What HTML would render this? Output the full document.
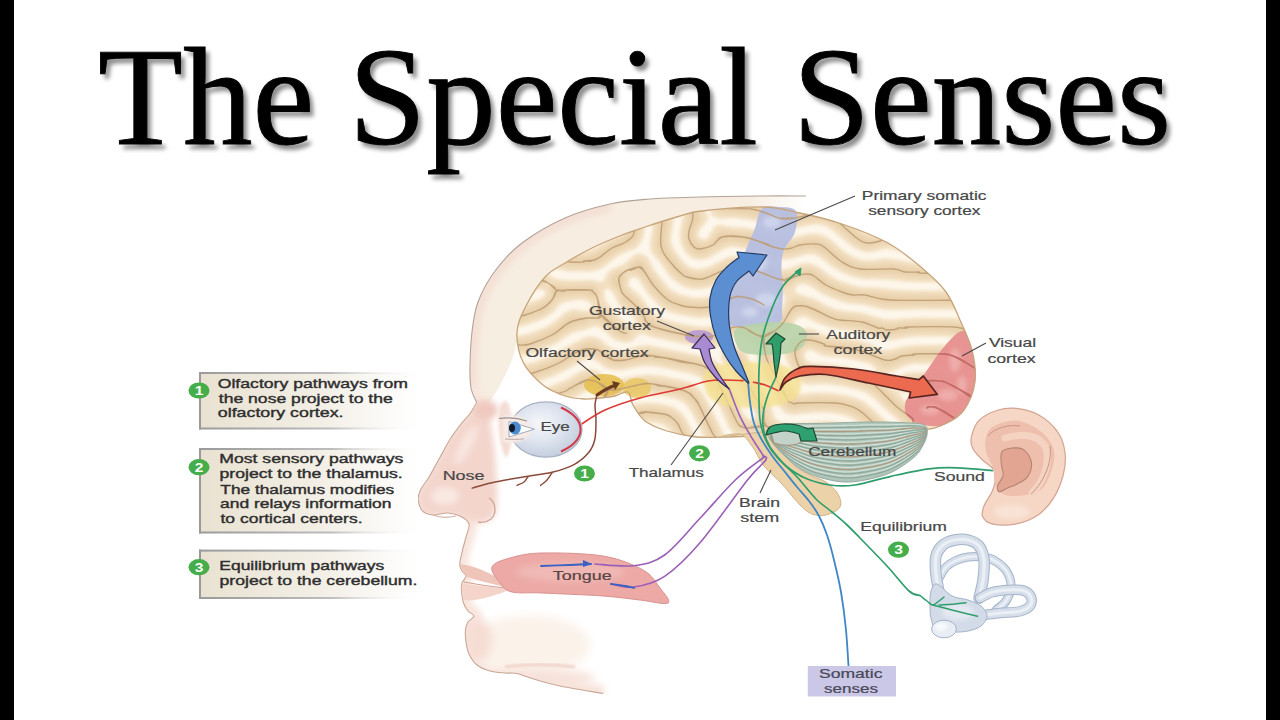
<!DOCTYPE html>
<html><head><meta charset="utf-8"><title>The Special Senses</title>
<style>
html,body{margin:0;padding:0}
body{width:1280px;height:720px;background:#fff;position:relative;overflow:hidden;font-family:"Liberation Sans",sans-serif}
.bar{position:absolute;top:0;width:14px;height:720px;background:#000}
.title{position:absolute;left:98px;top:28px;font-family:"Liberation Serif",serif;font-size:139px;line-height:1;white-space:nowrap;color:#000;-webkit-text-stroke:0.9px #000;text-shadow:4px 5px 4px rgba(0,0,0,.45)}
svg{position:absolute;left:0;top:0}
svg text{font-family:"Liberation Sans",sans-serif}
</style></head><body>
<svg width="1280" height="720" viewBox="0 0 1280 720">
<defs>
<filter id="blur07" x="-50%" y="-50%" width="200%" height="200%"><feGaussianBlur stdDeviation="0.7"/></filter>
<filter id="blur1" x="-50%" y="-50%" width="200%" height="200%"><feGaussianBlur stdDeviation="1"/></filter>
<filter id="blur15" x="-50%" y="-50%" width="200%" height="200%"><feGaussianBlur stdDeviation="1.5"/></filter>
<filter id="blur25" x="-50%" y="-50%" width="200%" height="200%"><feGaussianBlur stdDeviation="2.5"/></filter>
<filter id="blur2" x="-50%" y="-50%" width="200%" height="200%"><feGaussianBlur stdDeviation="2"/></filter>
<filter id="blur3" x="-50%" y="-50%" width="200%" height="200%"><feGaussianBlur stdDeviation="3"/></filter>
<filter id="blur4" x="-50%" y="-50%" width="200%" height="200%"><feGaussianBlur stdDeviation="4"/></filter>
</defs>
<clipPath id="headclip"><path d="M806.0,196.0 C798.3,196.0 777.7,195.8 760.0,196.0 C742.3,196.2 718.3,196.5 700.0,197.0 C681.7,197.5 665.0,197.8 650.0,199.0 C635.0,200.2 624.2,200.8 610.0,204.0 C595.8,207.2 579.7,211.5 565.0,218.0 C550.3,224.5 533.7,234.2 522.0,243.0 C510.3,251.8 502.3,261.2 495.0,271.0 C487.7,280.8 481.8,291.8 478.0,302.0 C474.2,312.2 473.3,321.5 472.0,332.0 C470.7,342.5 470.2,355.7 470.0,365.0 C469.8,374.3 469.9,381.8 471.0,388.0 C472.1,394.2 476.8,398.3 476.7,402.5 C476.6,406.7 473.2,409.2 470.4,413.0 C467.6,416.8 463.5,420.9 460.0,425.4 C456.5,429.9 453.1,434.4 449.6,440.0 C446.1,445.6 442.7,452.5 439.2,458.8 C435.7,465.0 431.9,472.3 428.8,477.5 C425.6,482.7 422.1,486.2 420.4,490.0 C418.7,493.8 417.9,496.9 418.3,500.4 C418.7,503.9 420.1,508.4 422.5,510.8 C424.9,513.2 428.8,514.6 433.0,515.0 C437.2,515.4 443.0,512.8 447.5,513.0 C452.0,513.2 456.4,514.2 460.0,516.0 C463.6,517.8 468.0,520.5 469.0,524.0 C470.0,527.5 467.0,532.8 466.0,537.0 C465.0,541.2 463.9,544.5 462.8,549.0 C461.8,553.5 459.8,560.3 459.7,564.0 C459.6,567.7 460.9,569.0 462.0,571.0 C463.1,573.0 466.0,574.0 466.0,576.0 C466.0,578.0 462.8,580.5 462.0,583.0 C461.2,585.5 461.2,587.7 461.5,591.0 C461.8,594.3 462.4,599.7 463.5,603.0 C464.6,606.3 466.2,608.8 468.0,611.0 C469.8,613.2 474.0,614.2 474.0,616.0 C474.0,617.8 469.4,619.7 468.0,622.0 C466.6,624.3 465.8,626.7 465.5,630.0 C465.2,633.3 465.4,638.0 466.0,642.0 C466.6,646.0 467.2,650.2 469.0,654.0 C470.8,657.8 473.5,662.2 477.0,665.0 C480.5,667.8 485.3,669.7 490.0,671.0 C494.7,672.3 500.5,672.6 505.0,673.0 C509.5,673.4 512.5,672.6 517.0,673.5 C521.5,674.4 524.8,676.4 532.0,678.5 C539.2,680.6 548.1,683.5 560.0,686.0 C571.9,688.5 596.2,692.2 603.4,693.5 L640,720 L806,720 L806,196Z"/></clipPath>
<linearGradient id="bandg" gradientUnits="userSpaceOnUse" x1="470" y1="0" x2="806" y2="0"><stop offset="0" stop-color="#f7eee2"/><stop offset="0.82" stop-color="#f7ede0"/><stop offset="1" stop-color="#f7ede0" stop-opacity="0"/></linearGradient>
<path d="M806.0,196.0 C798.3,196.0 777.7,195.8 760.0,196.0 C742.3,196.2 718.3,196.5 700.0,197.0 C681.7,197.5 665.0,197.8 650.0,199.0 C635.0,200.2 624.2,200.8 610.0,204.0 C595.8,207.2 579.7,211.5 565.0,218.0 C550.3,224.5 533.7,234.2 522.0,243.0 C510.3,251.8 502.3,261.2 495.0,271.0 C487.7,280.8 481.8,291.8 478.0,302.0 C474.2,312.2 473.3,321.5 472.0,332.0 C470.7,342.5 470.2,355.7 470.0,365.0 C469.8,374.3 469.9,381.8 471.0,388.0 C472.1,394.2 475.8,400.1 476.7,402.5 L490.0,402.0 C491.7,399.2 496.3,392.0 500.0,385.0 C503.7,378.0 509.0,368.0 512.0,360.0 C515.0,352.0 515.3,344.8 518.0,337.0 C520.7,329.2 523.5,320.8 528.0,313.0 C532.5,305.2 538.8,297.0 545.0,290.0 C551.2,283.0 557.2,277.2 565.0,271.0 C572.8,264.8 582.5,258.7 592.0,253.0 C601.5,247.3 610.7,242.0 622.0,237.0 C633.3,232.0 644.5,226.7 660.0,223.0 C675.5,219.3 698.3,216.8 715.0,215.0 C731.7,213.2 744.8,212.5 760.0,212.0 C775.2,211.5 798.3,212.0 806.0,212.0Z" fill="url(#bandg)"/>
<g clip-path="url(#headclip)"><path d="M610.0,204.0 C602.5,206.3 579.7,211.5 565.0,218.0 C550.3,224.5 533.7,234.2 522.0,243.0 C510.3,251.8 502.3,261.2 495.0,271.0 C487.7,280.8 481.8,291.8 478.0,302.0 C474.2,312.2 473.3,321.5 472.0,332.0 C470.7,342.5 470.2,355.7 470.0,365.0 C469.8,374.3 470.8,384.2 471.0,388.0" fill="none" stroke="#f4e0d5" stroke-width="16" filter="url(#blur3)"/><path d="M471.0,388.0 C471.9,390.4 476.8,398.3 476.7,402.5 C476.6,406.7 473.2,409.2 470.4,413.0 C467.6,416.8 463.5,420.9 460.0,425.4 C456.5,429.9 453.1,434.4 449.6,440.0 C446.1,445.6 442.7,452.5 439.2,458.8 C435.7,465.0 431.9,472.3 428.8,477.5 C425.6,482.7 422.1,486.2 420.4,490.0 C418.7,493.8 417.9,496.9 418.3,500.4 C418.7,503.9 420.1,508.4 422.5,510.8 C424.9,513.2 428.8,514.6 433.0,515.0 C437.2,515.4 443.0,512.8 447.5,513.0 C452.0,513.2 456.4,514.2 460.0,516.0 C463.6,517.8 468.0,520.5 469.0,524.0 C470.0,527.5 467.0,532.8 466.0,537.0 C465.0,541.2 463.9,544.5 462.8,549.0 C461.8,553.5 459.8,560.3 459.7,564.0 C459.6,567.7 460.9,569.0 462.0,571.0 C463.1,573.0 466.0,574.0 466.0,576.0 C466.0,578.0 462.8,580.5 462.0,583.0 C461.2,585.5 461.2,587.7 461.5,591.0 C461.8,594.3 462.4,599.7 463.5,603.0 C464.6,606.3 466.2,608.8 468.0,611.0 C469.8,613.2 474.0,614.2 474.0,616.0 C474.0,617.8 469.4,619.7 468.0,622.0 C466.6,624.3 465.8,626.7 465.5,630.0 C465.2,633.3 465.4,638.0 466.0,642.0 C466.6,646.0 467.2,650.2 469.0,654.0 C470.8,657.8 473.5,662.2 477.0,665.0 C480.5,667.8 485.3,669.7 490.0,671.0 C494.7,672.3 500.5,672.6 505.0,673.0 C509.5,673.4 512.5,672.6 517.0,673.5 C521.5,674.4 524.8,676.4 532.0,678.5 C539.2,680.6 548.1,683.5 560.0,686.0 C571.9,688.5 596.2,692.2 603.4,693.5" fill="none" stroke="#f8e5dd" stroke-width="16" stroke-linejoin="round" filter="url(#blur3)"/><path d="M476.7,402.5 C474.1,403.7 473.2,409.2 470.4,413.0 C467.6,416.8 463.5,420.9 460.0,425.4 C456.5,429.9 453.1,434.4 449.6,440.0 C446.1,445.6 442.7,452.5 439.2,458.8 C435.7,465.0 431.9,472.3 428.8,477.5 C425.6,482.7 422.1,486.2 420.4,490.0 C418.7,493.8 417.9,496.9 418.3,500.4 C418.7,503.9 420.1,508.4 422.5,510.8 C424.9,513.2 428.8,514.6 433.0,515.0 C437.2,515.4 443.0,512.8 447.5,513.0 C452.0,513.2 454.9,514.3 460.0,516.0 C465.1,517.7 472.3,523.0 478.0,523.0 C483.7,523.0 490.8,520.7 494.0,516.0 C497.2,511.3 496.7,502.7 497.0,495.0 C497.3,487.3 496.5,478.3 496.0,470.0 C495.5,461.7 495.0,453.3 494.0,445.0 C493.0,436.7 491.3,426.5 490.0,420.0 C488.7,413.5 488.2,408.9 486.0,406.0 C483.8,403.1 479.3,401.3 476.7,402.5Z" fill="#f3d5cc" filter="url(#blur3)"/><ellipse cx="445" cy="496" rx="14" ry="9" fill="#f9e8e2" filter="url(#blur3)"/><ellipse cx="466" cy="445" rx="6" ry="22" transform="rotate(28 466 445)" fill="#f8e6e0" filter="url(#blur3)"/><ellipse cx="486" cy="410" rx="12" ry="10" fill="#efc9c0" filter="url(#blur3)"/><ellipse cx="530" cy="645" rx="60" ry="30" fill="#fbf3ea" filter="url(#blur4)"/><ellipse cx="478" cy="640" rx="14" ry="22" fill="#f6ddd4" filter="url(#blur4)"/><path d="M505,667 C525,664 550,664 575,667" fill="none" stroke="#f0cfc6" stroke-width="3" filter="url(#blur1)"/><ellipse cx="540" cy="678" rx="55" ry="9" fill="#f7e2da" filter="url(#blur4)"/></g>
<path d="M806.0,196.0 C798.3,196.0 777.7,195.8 760.0,196.0 C742.3,196.2 718.3,196.5 700.0,197.0 C681.7,197.5 665.0,197.8 650.0,199.0 C635.0,200.2 624.2,200.8 610.0,204.0 C595.8,207.2 579.7,211.5 565.0,218.0 C550.3,224.5 533.7,234.2 522.0,243.0 C510.3,251.8 502.3,261.2 495.0,271.0 C487.7,280.8 481.8,291.8 478.0,302.0 C474.2,312.2 473.3,321.5 472.0,332.0 C470.7,342.5 470.2,355.7 470.0,365.0 C469.8,374.3 469.9,381.8 471.0,388.0 C472.1,394.2 475.8,400.1 476.7,402.5" fill="none" stroke="#b3a397" stroke-width="1.1"/>
<path d="M476.7,402.5 C475.6,404.2 473.2,409.2 470.4,413.0 C467.6,416.8 463.5,420.9 460.0,425.4 C456.5,429.9 453.1,434.4 449.6,440.0 C446.1,445.6 442.7,452.5 439.2,458.8 C435.7,465.0 431.9,472.3 428.8,477.5 C425.6,482.7 422.1,486.2 420.4,490.0 C418.7,493.8 417.9,496.9 418.3,500.4 C418.7,503.9 420.1,508.4 422.5,510.8 C424.9,513.2 428.8,514.6 433.0,515.0 C437.2,515.4 443.0,512.8 447.5,513.0 C452.0,513.2 456.4,514.2 460.0,516.0 C463.6,517.8 468.0,520.5 469.0,524.0 C470.0,527.5 467.0,532.8 466.0,537.0 C465.0,541.2 463.9,544.5 462.8,549.0 C461.8,553.5 459.8,560.3 459.7,564.0 C459.6,567.7 460.9,569.0 462.0,571.0 C463.1,573.0 466.0,574.0 466.0,576.0 C466.0,578.0 462.8,580.5 462.0,583.0 C461.2,585.5 461.2,587.7 461.5,591.0 C461.8,594.3 462.4,599.7 463.5,603.0 C464.6,606.3 466.2,608.8 468.0,611.0 C469.8,613.2 474.0,614.2 474.0,616.0 C474.0,617.8 469.4,619.7 468.0,622.0 C466.6,624.3 465.8,626.7 465.5,630.0 C465.2,633.3 465.4,638.0 466.0,642.0 C466.6,646.0 467.2,650.2 469.0,654.0 C470.8,657.8 473.5,662.2 477.0,665.0 C480.5,667.8 485.3,669.7 490.0,671.0 C494.7,672.3 500.5,672.6 505.0,673.0 C509.5,673.4 512.5,672.6 517.0,673.5 C521.5,674.4 524.8,676.4 532.0,678.5 C539.2,680.6 548.1,683.5 560.0,686.0 C571.9,688.5 596.2,692.2 603.4,693.5" fill="none" stroke="#c9a798" stroke-width="1.1"/>
<path d="M489,498 C496,502 497,514 491,519 C487,522 482,523 478,522" fill="none" stroke="#d0a595" stroke-width="1.3"/>
<path d="M433,515 C440,518 448,518 456,516" fill="none" stroke="#d9b2a5" stroke-width="1.2" filter="url(#blur07)"/>
<path d="M459.7,564 C462,570 466,574 467,577 C480,581 496,585 511.7,588.7 C500,578 485,570 470,566 C466,565 462,564 459.7,564Z" fill="#f0c5b9"/>
<path d="M462,583 C461.5,588 461.5,591 463.5,600 C475,602 495,596 511.7,588.7 C495,588 478,586 462,583Z" fill="#f5d4ca"/>
<path d="M464,582 C480,585 496,587 511.7,588.7" fill="none" stroke="#cf9f92" stroke-width="1.1"/>
<path d="M492.0,567.0 C493.7,562.8 501.7,560.3 510.0,558.0 C518.3,555.7 526.5,553.3 542.0,553.0 C557.5,552.7 586.2,553.2 603.0,556.0 C619.8,558.8 633.5,564.7 643.0,570.0 C652.5,575.3 655.8,582.5 660.0,588.0 C664.2,593.5 671.3,601.0 668.0,603.0 C664.7,605.0 650.8,601.2 640.0,600.0 C629.2,598.8 619.3,597.2 603.0,596.0 C586.7,594.8 557.2,593.7 542.0,593.0 C526.8,592.3 519.0,593.7 512.0,592.0 C505.0,590.3 503.3,587.2 500.0,583.0 C496.7,578.8 490.3,571.2 492.0,567.0Z" fill="#eca9a5" stroke="#d89290" stroke-width="1"/>
<ellipse cx="570" cy="572" rx="55" ry="10" fill="#f2bfbb" opacity="0.7" filter="url(#blur3)"/>
<clipPath id="brainclip"><path d="M523.0,362.0 C518.7,353.2 516.5,341.3 517.0,332.0 C517.5,322.7 521.3,315.2 526.0,306.0 C530.7,296.8 538.5,284.2 545.0,277.0 C551.5,269.8 557.2,267.8 565.0,263.0 C572.8,258.2 582.5,252.7 592.0,248.0 C601.5,243.3 613.2,238.5 622.0,235.0 C630.8,231.5 635.3,230.2 645.0,227.0 C654.7,223.8 670.5,218.7 680.0,216.0 C689.5,213.3 688.2,212.5 702.0,211.0 C715.8,209.5 746.7,206.7 763.0,207.0 C779.3,207.3 786.8,210.2 800.0,213.0 C813.2,215.8 827.3,219.0 842.0,224.0 C856.7,229.0 874.7,235.7 888.0,243.0 C901.3,250.3 912.3,259.8 922.0,268.0 C931.7,276.2 939.7,283.3 946.0,292.0 C952.3,300.7 955.7,310.3 960.0,320.0 C964.3,329.7 969.5,339.7 972.0,350.0 C974.5,360.3 976.3,372.0 975.0,382.0 C973.7,392.0 969.0,403.0 964.0,410.0 C959.0,417.0 952.2,420.7 945.0,424.0 C937.8,427.3 933.5,429.0 921.0,430.0 C908.5,431.0 886.8,430.0 870.0,430.0 C853.2,430.0 834.3,429.7 820.0,430.0 C805.7,430.3 793.0,431.3 784.0,432.0 C775.0,432.7 771.3,433.3 766.0,434.0 C760.7,434.7 758.3,435.5 752.0,436.0 C745.7,436.5 737.3,436.8 728.0,437.0 C718.7,437.2 706.2,438.0 696.0,437.0 C685.8,436.0 675.5,433.7 667.0,431.0 C658.5,428.3 650.7,425.3 645.0,421.0 C639.3,416.7 635.8,409.8 633.0,405.0 C630.2,400.2 631.0,393.5 628.0,392.0 C625.0,390.5 619.7,395.0 615.0,396.0 C610.3,397.0 605.2,397.5 600.0,398.0 C594.8,398.5 589.8,399.3 584.0,399.0 C578.2,398.7 571.8,398.3 565.0,396.0 C558.2,393.7 550.0,390.7 543.0,385.0 C536.0,379.3 527.3,370.8 523.0,362.0Z"/></clipPath>
<path d="M523.0,362.0 C518.7,353.2 516.5,341.3 517.0,332.0 C517.5,322.7 521.3,315.2 526.0,306.0 C530.7,296.8 538.5,284.2 545.0,277.0 C551.5,269.8 557.2,267.8 565.0,263.0 C572.8,258.2 582.5,252.7 592.0,248.0 C601.5,243.3 613.2,238.5 622.0,235.0 C630.8,231.5 635.3,230.2 645.0,227.0 C654.7,223.8 670.5,218.7 680.0,216.0 C689.5,213.3 688.2,212.5 702.0,211.0 C715.8,209.5 746.7,206.7 763.0,207.0 C779.3,207.3 786.8,210.2 800.0,213.0 C813.2,215.8 827.3,219.0 842.0,224.0 C856.7,229.0 874.7,235.7 888.0,243.0 C901.3,250.3 912.3,259.8 922.0,268.0 C931.7,276.2 939.7,283.3 946.0,292.0 C952.3,300.7 955.7,310.3 960.0,320.0 C964.3,329.7 969.5,339.7 972.0,350.0 C974.5,360.3 976.3,372.0 975.0,382.0 C973.7,392.0 969.0,403.0 964.0,410.0 C959.0,417.0 952.2,420.7 945.0,424.0 C937.8,427.3 933.5,429.0 921.0,430.0 C908.5,431.0 886.8,430.0 870.0,430.0 C853.2,430.0 834.3,429.7 820.0,430.0 C805.7,430.3 793.0,431.3 784.0,432.0 C775.0,432.7 771.3,433.3 766.0,434.0 C760.7,434.7 758.3,435.5 752.0,436.0 C745.7,436.5 737.3,436.8 728.0,437.0 C718.7,437.2 706.2,438.0 696.0,437.0 C685.8,436.0 675.5,433.7 667.0,431.0 C658.5,428.3 650.7,425.3 645.0,421.0 C639.3,416.7 635.8,409.8 633.0,405.0 C630.2,400.2 631.0,393.5 628.0,392.0 C625.0,390.5 619.7,395.0 615.0,396.0 C610.3,397.0 605.2,397.5 600.0,398.0 C594.8,398.5 589.8,399.3 584.0,399.0 C578.2,398.7 571.8,398.3 565.0,396.0 C558.2,393.7 550.0,390.7 543.0,385.0 C536.0,379.3 527.3,370.8 523.0,362.0Z" fill="#f3e0c2"/>
<g clip-path="url(#brainclip)"><path d="M579.5,238.0 584.4,237.0 589.0,235.2 607.9,225.0 610.6,222.0 612.0,219.0 612.3,216.0 611.0,212.8 609.0,211.1 606.0,211.1 595.0,221.9 591.0,224.1 585.0,226.3 574.0,228.3 564.0,227.3 560.0,225.9 556.0,223.6 553.0,220.8 550.5,217.0 548.9,212.0 547.3,202.0 547.7,195.0 539.4,195.0 540.0,199.0 538.9,209.0 539.4,215.0 541.7,222.0 545.0,227.0 551.0,231.6 559.3,235.0 571.0,237.8 579.5,238.0ZM573.7,210.0 578.0,208.6 587.0,202.1 591.0,200.3 595.0,199.8 602.0,200.7 605.0,200.4 607.0,199.1 610.2,195.0 583.7,195.0 571.0,197.8 566.8,201.0 565.9,203.0 565.9,205.0 566.6,207.0 568.7,209.0 571.0,209.9 573.7,210.0ZM968.4,304.0 973.4,302.0 979.0,298.3 979.0,288.5 967.0,293.6 961.0,294.9 954.0,295.6 899.0,295.1 876.0,292.7 863.0,292.5 847.0,288.4 836.0,284.6 827.0,279.7 815.1,271.0 810.0,268.8 807.0,268.4 803.0,268.9 791.0,274.1 782.0,274.7 776.0,273.4 762.3,268.0 749.9,264.0 738.0,261.3 733.0,261.6 728.0,262.9 713.0,270.6 705.0,273.4 698.0,274.4 691.0,273.3 685.0,270.3 680.0,265.8 671.3,255.0 667.6,248.0 666.2,243.0 665.6,237.0 668.4,222.0 668.3,213.0 667.0,207.2 665.0,202.0 660.2,195.0 634.3,195.0 633.0,196.0 629.7,200.0 627.8,206.0 627.9,211.0 630.3,224.0 629.6,229.0 627.7,233.0 625.1,236.0 622.0,238.3 611.0,243.8 600.0,251.3 594.0,254.4 587.0,256.5 580.0,257.2 571.0,256.8 563.0,255.4 538.0,246.3 526.0,238.1 524.0,237.4 520.4,246.0 518.0,249.4 514.6,252.0 505.0,256.9 505.0,267.7 513.7,263.0 523.0,255.8 526.0,254.6 530.0,253.9 536.0,254.7 552.5,262.0 566.0,266.0 573.0,266.6 587.0,266.4 592.0,265.9 596.0,264.8 601.0,262.2 618.0,250.4 632.0,243.6 636.0,240.0 638.5,235.0 639.7,228.0 639.4,223.0 637.0,213.0 637.6,207.0 639.1,204.0 642.0,201.0 645.0,199.7 648.0,199.5 652.0,200.6 655.0,202.8 657.4,206.0 658.6,210.0 658.8,215.0 657.6,231.0 655.7,243.0 655.9,247.0 656.9,250.0 674.0,273.5 680.6,279.0 688.0,282.5 696.0,284.0 705.0,283.3 712.3,281.0 729.0,273.2 735.0,271.8 740.0,271.7 746.0,272.8 767.0,279.7 781.0,286.3 785.0,287.5 788.0,286.8 794.0,281.3 797.0,279.5 802.0,278.7 807.0,279.4 813.0,281.7 828.0,291.0 842.3,297.0 851.0,299.0 864.0,299.7 882.8,304.0 895.0,304.8 960.0,304.9 968.4,304.0ZM953.1,277.0 965.0,274.3 979.0,268.2 979.0,257.5 970.0,262.5 964.0,264.8 954.0,267.3 944.0,268.6 931.0,268.8 913.0,267.9 889.0,263.8 872.0,265.5 865.0,265.3 857.0,263.6 848.0,259.6 839.0,253.6 826.0,242.8 822.0,240.5 818.0,239.2 814.0,238.7 809.0,239.0 790.0,243.4 781.0,243.7 774.0,242.3 757.5,236.0 750.0,233.8 723.0,230.9 720.0,231.3 717.2,233.0 712.0,240.6 709.0,243.3 705.0,244.6 700.0,244.0 697.0,242.4 694.7,240.0 693.3,237.0 692.9,234.0 694.2,229.0 700.1,220.0 700.5,218.0 700.0,215.0 694.6,205.0 691.3,195.0 681.1,195.0 686.6,207.0 688.1,213.0 687.8,220.0 685.0,234.0 685.9,242.0 688.0,247.0 690.1,250.0 693.7,253.0 697.0,254.4 701.0,254.9 705.1,254.0 717.0,246.5 726.0,242.4 731.0,241.4 736.0,241.4 755.0,245.4 774.0,252.4 781.0,254.1 789.0,253.7 807.0,248.8 812.0,248.7 816.0,249.4 823.0,252.7 834.5,262.0 842.3,267.0 852.0,271.3 862.0,274.1 869.0,274.7 888.0,274.1 908.0,276.7 922.0,277.5 941.0,277.7 953.1,277.0ZM947.0,250.0 967.4,244.0 971.8,242.0 975.4,238.0 976.0,235.0 975.3,233.0 973.0,231.3 969.0,231.1 966.0,232.1 958.0,237.1 953.0,239.3 946.0,240.8 936.0,241.8 921.0,241.2 902.0,236.7 895.0,233.6 887.6,228.0 885.5,225.0 882.8,218.0 880.0,214.0 866.0,202.6 857.7,195.0 841.3,195.0 850.0,200.7 865.7,215.0 877.7,223.0 881.2,226.0 882.5,229.0 882.2,232.0 880.4,236.0 878.0,238.3 875.0,239.1 871.0,238.9 866.0,237.6 862.0,235.7 857.0,232.2 838.5,216.0 833.8,213.0 828.0,210.7 822.0,209.8 815.0,209.8 791.0,213.6 782.0,213.6 776.0,212.2 764.0,207.6 757.0,205.7 749.0,204.7 732.0,203.8 728.0,202.3 725.0,200.4 720.4,195.0 711.4,195.0 713.6,200.0 716.0,208.3 718.0,211.0 720.0,212.1 723.0,212.7 734.0,212.6 755.0,215.4 763.0,217.5 777.0,222.8 783.0,223.9 791.0,223.4 813.0,219.4 819.0,219.3 824.0,220.1 829.0,221.8 834.0,224.7 854.5,242.0 860.0,245.4 865.0,247.2 872.0,247.2 881.0,243.6 887.0,242.9 893.0,243.7 907.0,248.1 917.9,250.0 935.0,250.9 947.0,250.0ZM936.8,224.0 945.6,222.0 961.9,215.0 966.0,212.5 968.3,210.0 969.5,207.0 969.0,203.0 967.0,198.7 966.0,197.6 964.0,197.8 954.0,207.8 948.0,211.7 939.0,214.4 930.0,215.0 921.0,213.4 913.0,209.6 906.0,204.0 898.2,195.0 885.8,195.0 891.7,201.0 901.6,213.0 908.0,218.2 914.0,220.9 921.0,222.7 930.0,223.9 936.8,224.0ZM935.7,198.0 939.0,197.0 941.0,195.0 924.8,195.0 931.0,197.6 935.7,198.0ZM522.5,233.0 523.1,231.0 523.2,226.0 521.4,213.0 520.0,209.8 518.0,207.4 516.0,206.4 514.0,206.6 511.0,208.5 509.0,212.0 508.9,216.0 510.0,220.6 511.9,225.0 514.0,227.7 520.0,232.4 522.0,233.3 522.5,233.0ZM708.4,312.0 715.0,310.0 730.0,303.6 737.0,302.0 742.0,301.8 747.0,302.6 757.8,309.0 762.0,310.1 765.0,309.8 767.0,308.8 768.6,307.0 769.2,304.0 768.0,300.8 764.0,298.0 753.0,295.7 744.0,292.4 739.0,291.6 731.0,292.9 716.0,299.7 706.0,302.5 695.0,302.9 684.0,301.1 674.0,297.5 669.0,294.5 665.0,291.2 650.8,274.0 645.0,263.2 642.0,260.4 639.0,259.6 635.0,260.9 631.7,264.0 629.0,268.0 628.2,270.0 629.0,270.7 637.0,272.8 642.4,276.0 652.1,291.0 661.7,301.0 668.0,305.6 677.0,309.0 692.0,312.0 701.0,312.8 708.4,312.0ZM897.3,439.0 888.8,430.0 866.4,410.0 861.0,406.1 856.0,403.5 843.1,400.0 828.8,398.0 817.0,397.7 804.0,399.4 800.0,399.4 796.0,398.3 792.0,396.0 788.5,392.0 783.8,382.0 777.3,371.0 770.3,352.0 769.2,348.0 769.1,344.0 770.1,340.0 771.6,337.0 774.0,334.7 781.6,331.0 785.4,328.0 788.0,324.2 791.0,317.0 793.0,314.3 796.9,312.0 801.0,311.1 805.0,311.3 808.0,312.2 821.0,318.9 831.0,322.5 839.0,324.3 862.0,327.3 879.0,333.6 884.0,334.8 890.3,335.0 906.0,332.5 918.0,331.6 944.0,331.6 954.0,332.5 959.0,333.7 965.0,336.3 979.0,345.4 979.0,335.6 969.8,327.0 965.7,325.0 960.0,323.6 941.0,322.5 915.0,322.6 893.0,324.7 884.0,324.4 861.0,317.7 842.0,315.5 834.0,313.8 826.0,310.7 810.5,303.0 800.8,300.0 795.0,299.1 793.0,299.5 791.1,301.0 785.9,312.0 778.0,319.7 771.0,329.7 768.0,331.7 764.0,332.3 759.0,331.5 747.0,323.6 743.0,322.2 739.0,321.7 731.2,323.0 719.0,328.8 712.0,331.1 705.0,332.1 697.0,331.6 666.0,325.4 660.0,323.4 655.0,320.8 646.9,314.0 637.0,300.0 627.4,292.0 624.7,289.0 623.6,286.0 623.5,283.0 626.0,271.6 622.0,271.2 617.0,272.2 613.8,274.0 611.3,277.0 610.6,280.0 611.2,283.0 618.2,291.0 623.0,301.1 626.4,305.0 638.1,314.0 640.6,318.0 643.0,325.6 646.4,329.0 654.0,331.9 674.8,337.0 708.0,342.5 712.0,342.3 716.0,341.2 726.0,334.4 732.0,332.4 740.0,332.5 750.0,335.6 755.0,338.8 759.0,344.0 760.9,349.0 763.1,360.0 766.0,368.0 772.0,380.0 779.8,393.0 784.0,403.5 785.7,406.0 788.0,407.9 791.0,409.1 794.0,409.5 810.0,407.8 827.0,407.4 837.0,408.4 846.0,410.3 854.0,413.4 860.0,417.2 884.8,439.0 897.3,439.0ZM506.1,297.0 531.0,286.2 538.0,284.5 548.0,284.0 548.2,283.0 544.4,278.0 540.0,275.2 535.0,274.3 530.0,275.2 505.0,287.9 505.0,297.7 506.1,297.0ZM522.5,321.0 540.0,314.8 545.0,312.4 549.1,309.0 555.0,300.4 558.0,298.5 563.0,296.7 571.0,295.2 581.0,294.7 586.0,295.6 597.0,299.6 598.0,298.8 598.9,296.0 598.5,290.0 596.0,286.8 591.0,285.0 570.0,285.8 550.0,284.3 549.3,285.0 550.8,290.0 551.2,295.0 550.4,298.0 548.5,300.0 527.0,309.2 512.9,312.0 510.8,313.0 508.9,315.0 508.4,317.0 509.0,318.8 511.6,321.0 517.0,321.9 522.5,321.0ZM524.9,350.0 533.0,348.0 548.0,342.0 555.7,338.0 568.0,329.2 572.0,327.5 584.0,324.2 592.0,319.5 597.0,320.5 604.0,323.4 608.0,326.4 615.1,334.0 621.0,337.2 625.0,337.8 628.3,337.0 630.6,335.0 631.1,332.0 628.7,329.0 615.0,321.2 605.0,308.9 602.0,306.4 600.0,305.6 598.0,307.3 593.0,315.6 591.0,317.2 589.0,317.3 577.0,314.7 571.0,315.6 567.0,317.9 559.0,324.7 552.0,329.3 542.0,334.3 531.0,338.5 524.0,340.2 517.0,340.5 511.0,339.3 505.0,336.5 505.0,345.9 510.0,348.3 515.0,349.8 520.0,350.3 524.9,350.0ZM941.1,439.0 941.0,435.7 938.2,433.0 926.0,430.1 920.0,426.5 917.5,423.0 915.4,415.0 914.0,412.5 900.8,404.0 887.0,390.8 878.0,380.6 875.0,379.4 865.0,377.7 855.0,373.9 848.0,372.1 829.0,369.6 815.0,369.1 808.0,367.3 802.7,364.0 800.1,360.0 799.4,354.0 800.9,349.0 802.5,347.0 805.0,345.4 808.0,344.7 812.0,344.9 826.0,351.1 845.0,352.5 871.0,358.9 875.0,360.8 882.0,366.6 885.0,367.5 889.1,367.0 901.0,361.8 909.0,359.7 921.0,358.7 940.0,358.6 947.0,359.7 955.0,362.4 979.0,375.3 979.0,365.2 958.8,354.0 954.0,352.0 948.0,350.4 937.0,349.4 915.0,349.8 906.2,351.0 891.0,355.0 882.0,355.2 877.0,353.9 868.6,349.0 863.0,346.8 852.0,344.4 826.0,340.7 820.0,338.7 812.0,334.7 808.0,333.7 804.0,334.2 800.7,336.0 797.0,339.5 791.7,346.0 789.6,351.0 790.0,356.0 798.8,373.0 803.0,377.4 809.0,379.3 823.0,378.6 838.0,380.1 859.0,384.7 867.0,387.3 876.0,393.0 888.2,405.0 901.0,415.8 907.9,423.0 916.1,433.0 921.0,437.3 923.6,439.0 941.1,439.0ZM856.7,439.0 851.0,434.3 845.7,431.0 840.0,428.6 833.2,427.0 817.0,426.2 797.0,428.6 789.0,428.9 780.0,427.6 774.0,424.8 770.1,421.0 767.5,417.0 766.5,414.0 766.0,407.0 764.9,403.0 755.8,388.0 747.5,371.0 742.9,357.0 740.0,353.2 736.0,351.2 732.0,351.1 729.0,352.4 727.4,355.0 727.6,358.0 729.6,361.0 735.0,366.0 738.1,370.0 743.0,382.3 750.0,396.9 761.4,414.0 761.6,417.0 759.7,421.0 757.0,423.9 754.0,425.3 751.0,424.9 747.0,423.1 743.0,420.4 739.8,417.0 737.4,413.0 733.0,402.3 726.0,388.1 713.0,367.0 709.0,363.3 703.0,361.1 648.0,350.5 639.9,351.0 626.0,355.5 617.0,355.5 612.0,354.1 608.0,352.2 597.0,343.6 591.0,342.0 588.0,342.3 583.5,344.0 571.5,350.0 555.0,359.4 534.0,367.6 526.0,369.3 519.0,369.5 512.0,368.2 505.0,365.8 505.0,375.6 511.9,378.0 517.0,379.0 528.0,378.8 536.0,377.0 549.7,372.0 566.4,364.0 581.0,355.4 585.0,353.8 589.0,353.3 593.0,353.7 597.0,355.2 607.8,363.0 615.0,365.4 623.0,365.1 640.0,361.2 650.0,360.7 658.0,361.6 692.0,368.5 697.0,369.8 702.0,372.0 706.0,374.9 709.0,378.1 722.3,401.0 733.4,425.0 736.0,428.3 740.0,431.0 746.0,432.0 755.0,429.8 758.0,429.9 766.0,432.2 779.0,437.6 786.0,438.9 822.0,435.8 832.0,436.6 839.9,439.0 856.7,439.0ZM719.7,439.0 715.0,427.0 707.0,411.0 700.0,398.5 695.9,393.0 692.0,389.6 686.9,387.0 666.0,382.0 654.1,380.0 645.0,379.8 634.9,381.0 618.0,384.7 610.0,384.8 603.0,383.0 596.6,377.0 594.0,375.3 591.0,374.4 588.0,374.3 582.6,376.0 574.0,381.4 566.0,385.4 544.0,394.4 537.0,396.7 529.0,398.1 521.0,398.4 513.0,397.5 505.0,395.6 505.0,406.0 531.0,408.2 536.0,407.6 541.0,406.0 553.0,400.5 570.0,394.2 583.0,386.8 589.0,385.3 595.0,385.3 599.0,386.7 601.0,389.1 604.0,396.1 606.0,397.4 609.0,397.1 626.0,392.3 642.0,389.5 654.0,389.5 668.0,391.7 681.0,395.3 685.0,397.3 689.0,400.3 692.4,404.0 696.3,410.0 710.9,439.0 719.7,439.0ZM979.0,405.0 979.0,395.3 971.0,391.8 954.0,381.8 945.0,377.9 935.0,376.3 922.0,377.4 910.0,377.4 905.4,379.0 903.4,382.0 903.6,385.0 905.0,387.0 907.0,388.2 910.0,388.9 915.0,388.6 929.0,385.1 935.0,385.2 942.0,386.6 952.0,390.8 973.0,403.4 979.0,405.7 979.0,405.0ZM967.4,437.0 975.0,431.5 979.0,429.7 979.0,428.2 962.0,418.4 946.1,408.0 938.8,404.0 935.0,402.7 931.0,402.2 927.7,403.0 925.2,405.0 924.4,408.0 926.0,409.9 940.0,415.0 947.0,418.8 957.7,427.0 965.0,436.4 966.0,437.2 967.4,437.0ZM547.8,439.0 551.9,433.0 558.0,428.7 571.0,423.5 589.0,417.9 595.2,415.0 598.0,412.7 599.9,410.0 600.9,406.0 600.2,404.0 598.0,403.5 592.1,405.0 575.0,412.4 556.9,419.0 547.5,424.0 537.8,431.0 536.9,434.0 538.8,439.0 547.8,439.0ZM690.9,439.0 682.0,422.0 679.0,417.8 675.0,414.2 671.0,411.9 665.0,410.0 656.0,408.4 648.0,407.8 635.0,409.2 628.0,410.9 622.8,413.0 616.0,417.8 608.2,428.0 604.0,431.8 596.0,436.1 586.2,439.0 610.5,439.0 618.6,429.0 628.0,421.5 636.0,418.3 648.0,417.2 658.0,417.9 666.0,420.5 671.0,423.8 675.0,428.0 677.6,432.0 680.8,439.0 690.9,439.0ZM522.7,437.0 527.7,434.0 529.3,432.0 529.4,431.0 528.2,429.0 524.0,426.1 519.0,424.8 514.3,425.0 508.0,427.0 505.5,429.0 508.2,432.0 515.0,437.1 519.0,438.0 522.7,437.0ZM659.2,439.0 654.0,436.1 649.0,435.3 642.0,436.2 635.4,439.0 659.2,439.0Z" fill="#e8d0aa" fill-rule="evenodd" filter="url(#blur25)"/><path d="M505.0,206.5 504.9,195.0 510.2,195.0 512.2,198.0 512.0,200.0 509.4,203.0 505.0,206.5ZM587.0,251.0 576.0,251.9 563.0,250.1 542.0,242.2 535.0,238.0 532.0,234.9 529.9,231.0 526.7,213.0 521.8,202.0 522.2,199.0 525.0,196.6 528.8,195.0 532.0,195.4 533.6,197.0 534.6,201.0 533.7,212.0 534.6,218.0 538.4,227.0 544.0,233.3 551.0,237.4 559.0,240.2 569.0,242.7 578.0,243.5 584.0,242.6 590.0,240.5 607.0,231.9 612.0,228.0 616.1,222.0 618.3,215.0 617.5,212.0 612.7,205.0 612.4,203.0 613.1,200.0 616.1,195.0 626.6,195.0 623.7,201.0 621.7,210.0 621.8,213.0 625.1,223.0 624.8,227.0 623.0,230.6 619.1,234.0 610.0,238.4 596.9,247.0 592.0,249.4 587.0,251.0ZM580.0,222.0 573.0,223.0 567.0,222.6 561.7,221.0 557.4,218.0 555.3,215.0 554.0,210.6 552.7,200.0 553.4,195.0 565.7,195.0 561.3,200.0 560.2,203.0 560.2,206.0 563.1,211.0 566.0,213.4 569.0,214.8 573.0,215.4 578.0,214.5 582.0,212.4 589.2,207.0 593.0,205.4 597.0,205.6 599.0,207.0 599.4,209.0 598.7,211.0 594.4,216.0 589.0,219.2 580.0,222.0ZM959.0,290.0 949.0,290.5 915.0,290.4 895.0,289.5 877.0,287.6 861.0,287.0 849.3,284.0 838.0,279.9 830.9,276.0 818.0,266.4 812.0,263.9 807.0,263.1 802.0,263.5 789.0,268.7 782.0,269.2 776.9,268.0 747.0,257.5 739.0,255.9 733.0,256.1 727.0,257.6 710.4,266.0 704.0,268.3 698.0,269.1 692.0,268.1 687.0,265.2 682.0,260.2 675.0,251.1 672.0,245.1 671.1,241.0 671.0,237.0 673.5,223.0 673.4,213.0 671.5,204.0 666.9,195.0 675.7,195.0 681.0,207.0 682.6,212.0 683.0,216.0 679.7,233.0 679.8,238.0 680.8,243.0 683.1,249.0 686.0,253.3 690.0,256.9 695.0,259.3 700.0,260.1 706.0,259.2 712.0,256.5 724.0,248.9 730.0,247.0 735.0,246.9 751.9,250.0 773.0,257.8 781.0,259.5 786.0,259.5 792.0,258.7 807.0,254.2 814.0,254.5 819.7,257.0 832.0,266.7 842.0,272.5 854.0,277.3 865.0,279.5 886.0,279.4 904.0,281.6 915.0,282.3 948.0,282.5 956.0,281.8 963.0,280.3 971.0,277.6 979.0,273.8 979.0,282.7 967.3,288.0 959.0,290.0ZM948.0,263.1 936.0,263.8 916.0,263.1 889.0,258.4 883.0,258.6 870.0,260.4 862.0,259.8 854.0,257.0 847.0,253.0 840.3,248.0 831.0,239.8 826.0,236.4 821.0,234.4 816.0,233.4 808.0,233.7 789.6,238.0 782.0,238.4 775.3,237.0 761.0,231.6 750.0,228.5 744.0,227.6 732.0,227.0 719.0,224.6 716.0,225.5 714.0,227.1 709.0,236.0 707.2,238.0 705.0,239.2 702.0,239.3 698.9,237.0 698.2,235.0 698.5,232.0 700.1,229.0 706.4,222.0 707.8,219.0 708.1,216.0 707.3,214.0 700.2,205.0 696.5,195.0 705.7,195.0 709.0,202.6 710.8,214.0 713.0,216.3 717.0,218.3 721.0,218.7 733.0,217.7 753.0,220.4 760.0,222.1 774.0,227.6 783.0,229.3 792.0,228.7 811.0,225.0 817.0,224.6 822.0,225.2 827.0,226.9 832.0,229.9 847.0,242.7 854.0,247.8 860.0,250.8 866.0,252.3 873.0,252.3 884.0,249.1 889.0,248.7 907.0,253.4 915.0,254.7 929.0,255.8 944.0,255.5 954.0,253.5 972.0,247.6 976.0,245.0 979.0,241.3 979.0,251.6 965.3,259.0 958.8,261.0 948.0,263.1ZM872.0,234.0 868.0,233.4 864.0,231.4 841.0,211.2 835.0,207.6 829.0,205.4 823.0,204.4 816.0,204.4 791.0,208.2 784.0,208.4 778.0,207.1 767.0,202.7 759.0,200.5 749.0,199.1 733.0,198.8 729.0,197.1 726.7,195.0 769.7,195.0 779.0,198.3 787.0,199.3 817.0,196.2 826.0,196.3 833.0,197.3 838.0,199.1 843.1,202.0 849.4,207.0 861.0,217.9 873.6,226.0 875.3,228.0 876.0,231.0 874.7,233.0 872.0,234.0ZM944.0,236.0 932.0,236.9 922.0,236.3 908.0,233.0 899.8,230.0 896.0,227.7 893.0,224.9 887.1,215.0 883.9,211.0 865.4,195.0 878.2,195.0 885.9,202.0 896.3,215.0 902.0,220.4 911.0,225.3 921.0,227.8 934.0,229.1 944.0,227.7 963.0,220.3 975.0,212.5 976.0,212.4 977.0,213.2 979.0,218.3 979.0,224.4 978.0,225.4 966.0,226.6 953.0,233.9 944.0,236.0ZM934.0,210.1 926.0,209.6 918.7,207.0 912.0,202.5 905.0,195.0 915.7,195.0 921.0,198.4 926.0,200.6 935.0,202.5 939.0,202.1 943.0,200.3 945.3,198.0 946.7,195.0 957.8,195.0 955.0,199.6 949.0,205.0 943.0,208.1 934.0,210.1ZM979.0,207.0 977.0,207.3 975.0,204.2 973.4,199.0 973.9,195.0 979.1,195.0 979.0,207.0ZM766.0,326.0 763.0,326.6 760.4,326.0 750.0,318.9 746.0,317.5 741.0,316.7 736.0,316.7 731.0,317.6 714.0,325.1 709.0,326.4 704.0,326.8 694.9,326.0 678.4,323.0 666.3,320.0 659.0,317.0 654.7,314.0 651.0,310.4 641.0,296.5 630.0,287.0 629.0,285.0 628.7,282.0 629.3,280.0 631.0,278.0 633.0,277.4 635.0,277.5 639.0,279.9 647.7,294.0 657.3,304.0 663.0,308.8 668.0,311.5 673.0,313.3 689.0,316.7 699.0,318.0 708.0,317.4 716.0,315.2 733.0,308.2 740.0,307.1 746.0,308.2 757.0,314.5 761.0,315.1 766.0,314.8 771.0,313.5 773.2,312.0 774.4,309.0 774.7,304.0 772.6,298.0 769.0,294.6 746.0,287.3 741.0,286.3 736.0,286.3 731.0,287.3 713.6,295.0 704.0,297.5 698.0,297.8 692.0,297.3 679.0,294.0 673.1,291.0 668.0,286.7 654.3,270.0 648.0,257.6 645.0,255.2 641.0,253.8 638.0,253.5 635.0,254.3 624.0,264.0 610.0,270.1 606.7,274.0 603.5,281.0 602.0,282.0 591.0,279.7 573.0,280.5 559.0,279.4 553.0,277.4 543.0,270.7 539.0,269.5 535.0,269.2 530.0,269.9 525.0,271.5 505.0,282.3 505.0,273.3 516.0,267.6 525.4,261.0 531.0,259.4 536.0,260.3 547.0,265.5 555.0,268.4 567.0,271.5 590.0,271.7 596.0,270.6 601.0,268.7 605.0,266.3 617.9,256.0 624.0,252.8 634.0,249.6 637.0,247.4 640.0,244.0 643.5,237.0 645.1,228.0 644.9,223.0 642.4,214.0 642.2,210.0 644.0,206.4 646.0,205.2 648.0,205.0 650.0,205.6 652.0,207.3 653.8,212.0 652.0,232.0 650.2,243.0 650.3,248.0 651.3,252.0 653.1,255.0 660.4,263.0 669.2,276.0 673.3,280.0 678.0,283.6 683.0,286.3 689.0,288.4 695.0,289.2 701.0,289.1 707.0,288.1 713.0,286.3 731.4,278.0 736.0,277.1 740.0,277.2 745.0,278.2 766.3,285.0 781.0,292.6 784.0,294.9 785.0,297.0 785.0,299.1 784.0,303.4 782.3,307.0 780.0,309.8 774.8,314.0 770.0,322.6 766.0,326.0ZM505.0,223.8 505.0,221.9 505.0,223.8ZM505.0,251.0 505.0,239.8 508.0,233.7 509.0,233.1 511.0,233.3 513.7,235.0 515.4,237.0 516.3,240.0 516.0,242.4 514.6,245.0 512.6,247.0 505.0,251.0ZM976.0,322.2 963.0,318.7 955.0,317.9 920.0,317.5 892.0,319.3 884.0,318.9 861.0,312.6 842.0,310.4 835.0,308.8 827.9,306.0 814.0,298.4 798.0,293.6 795.6,292.0 794.9,290.0 796.2,287.0 798.6,285.0 802.0,284.0 805.0,284.2 810.0,286.1 823.0,294.4 841.0,301.8 849.0,303.7 864.0,304.9 878.0,308.6 887.0,310.0 895.0,310.3 916.0,309.5 943.0,309.5 963.0,310.2 974.0,308.4 979.0,306.0 979.0,310.6 977.6,314.0 976.7,321.0 976.0,322.2ZM635.0,324.1 632.0,324.7 627.0,322.8 620.8,319.0 616.8,315.0 605.3,300.0 604.3,294.0 605.0,290.0 606.0,288.7 609.0,289.4 613.0,293.0 618.5,304.0 620.9,307.0 631.0,314.3 633.8,317.0 635.6,321.0 635.0,324.1ZM506.0,309.2 505.0,310.0 505.0,304.7 509.3,301.0 513.0,298.9 537.0,289.5 542.0,289.6 544.0,290.8 544.8,292.0 545.0,294.0 544.1,296.0 540.0,298.8 522.3,305.0 510.0,307.6 506.0,309.2ZM523.0,335.1 516.0,335.4 510.0,333.5 506.0,330.0 505.0,328.2 505.0,325.4 515.0,326.5 521.0,326.4 527.0,325.1 537.0,321.4 549.0,315.7 553.0,312.4 560.0,304.5 566.0,301.7 578.0,300.0 583.0,300.0 588.0,301.4 591.0,304.1 591.5,306.0 591.2,308.0 589.0,310.4 585.0,311.0 575.0,309.2 569.0,310.4 564.0,313.3 553.7,322.0 547.4,326.0 536.1,331.0 523.0,335.1ZM914.0,439.0 904.0,439.0 893.0,427.1 870.0,406.2 864.0,401.8 857.0,398.3 847.0,395.5 833.0,393.2 816.0,392.4 802.0,393.9 799.0,393.4 796.0,392.0 793.0,388.7 788.7,380.0 783.0,371.4 780.8,367.0 774.7,348.0 774.8,344.0 776.1,341.0 779.0,338.2 787.0,333.7 790.0,331.2 791.6,329.0 795.0,321.4 797.0,318.7 800.0,317.0 803.0,316.7 807.6,318.0 818.0,323.5 830.0,327.4 839.0,329.5 859.9,332.0 866.2,334.0 877.0,338.7 884.0,340.3 892.0,340.3 907.0,337.5 919.0,336.5 943.0,336.6 954.0,337.7 963.0,341.0 979.0,351.0 979.0,359.8 959.0,348.5 951.0,345.8 944.0,344.7 914.0,344.9 903.0,346.4 890.0,349.7 884.0,350.0 880.0,349.0 869.0,343.5 862.0,341.3 849.0,338.7 827.0,335.7 822.4,334.0 814.0,329.4 809.0,328.1 804.0,328.5 799.0,330.4 794.9,333.0 791.4,337.0 785.5,347.0 784.4,351.0 784.3,355.0 785.6,359.0 790.2,367.0 794.3,376.0 798.0,380.6 803.0,383.6 808.0,384.8 825.0,383.9 841.8,386.0 858.7,390.0 866.6,393.0 873.0,397.4 885.0,408.9 899.0,420.9 910.9,435.0 915.0,439.0 914.0,439.0ZM979.0,326.4 979.0,325.3 979.0,326.4ZM877.0,439.0 864.4,439.0 857.0,432.2 851.0,427.8 844.0,424.3 837.0,422.3 830.0,421.3 820.0,421.0 798.0,423.1 789.0,423.4 783.0,422.7 778.0,420.7 775.9,419.0 773.8,416.0 770.4,403.0 760.0,385.4 754.0,372.8 751.2,366.0 747.5,354.0 743.4,349.0 738.0,346.5 730.0,346.2 724.0,347.7 722.8,349.0 721.5,352.0 720.9,356.0 721.1,359.0 722.7,362.0 729.8,368.0 733.0,371.8 745.3,399.0 754.6,412.0 755.5,415.0 755.1,417.0 754.0,418.4 752.0,419.2 749.9,419.0 747.0,417.6 743.0,413.0 738.5,402.0 731.7,388.0 722.0,372.3 718.0,363.0 714.0,359.4 707.0,356.4 692.2,354.0 648.0,345.1 638.0,345.7 625.0,350.5 618.0,350.7 611.3,348.0 600.0,338.9 596.0,337.2 591.0,336.3 587.0,336.7 583.0,338.2 567.0,346.5 556.0,353.1 547.8,357.0 534.2,362.0 527.0,363.8 517.0,364.0 512.0,362.9 505.0,360.1 505.0,351.7 512.0,354.3 518.0,355.4 525.0,355.3 532.0,353.9 541.0,350.6 555.0,344.3 572.4,333.0 585.0,329.8 592.0,327.0 595.0,326.5 598.7,327.0 602.0,328.7 610.0,336.6 614.0,339.4 619.0,341.6 625.0,342.7 629.0,342.5 632.0,341.5 639.0,334.6 642.0,334.1 654.0,337.4 680.0,343.3 705.0,347.6 711.0,348.0 717.0,347.3 721.0,346.0 727.2,340.0 731.0,337.9 735.0,337.1 740.0,337.7 744.2,339.0 749.0,341.5 752.0,344.0 754.0,346.9 758.8,363.0 762.3,372.0 774.1,393.0 779.5,407.0 784.0,412.0 788.0,414.2 793.0,415.0 810.8,413.0 823.0,412.5 833.0,413.2 844.0,415.2 851.0,417.8 856.3,421.0 877.0,439.0ZM874.0,373.3 871.0,373.6 867.0,373.1 855.0,368.5 848.0,366.8 826.0,363.8 811.7,363.0 808.0,361.4 806.0,359.6 804.7,357.0 804.7,354.0 805.6,352.0 807.0,350.7 811.0,350.1 814.0,351.2 821.0,355.2 825.0,356.6 843.0,357.4 867.3,363.0 871.9,365.0 875.0,368.0 876.3,371.0 876.0,372.1 874.0,373.3ZM769.0,439.0 726.2,439.0 710.6,407.0 702.0,392.0 698.5,388.0 694.0,384.5 689.0,382.1 683.0,380.3 660.0,375.6 649.0,374.5 638.0,375.3 618.0,379.5 612.0,379.7 606.4,378.0 597.0,370.6 592.0,369.2 587.0,369.2 581.0,370.8 567.0,379.2 543.4,389.0 534.0,392.0 524.0,393.1 513.0,392.2 505.0,390.2 505.0,381.2 513.0,383.6 520.0,384.6 527.0,384.3 536.0,382.5 555.0,375.4 573.0,366.4 583.9,360.0 589.0,358.8 592.0,359.1 595.0,360.3 605.0,367.7 614.0,370.3 622.0,370.4 639.0,366.6 649.0,365.9 658.4,367.0 691.0,373.8 699.7,377.0 703.0,379.6 705.9,383.0 719.0,405.5 728.5,427.0 733.0,432.5 737.0,435.2 742.0,436.9 746.0,437.1 755.0,435.5 759.0,435.5 764.0,436.7 769.0,439.0ZM979.0,420.9 975.0,419.7 969.7,417.0 945.0,401.7 936.0,398.2 931.0,397.4 927.0,397.7 923.0,399.4 918.0,403.9 916.0,404.9 913.0,405.1 909.7,404.0 906.2,402.0 903.0,399.0 898.6,392.0 893.0,388.7 889.0,385.3 885.4,380.0 884.4,376.0 886.3,374.0 896.0,370.3 904.8,366.0 913.0,364.1 941.0,363.8 947.5,365.0 955.3,368.0 972.0,377.4 979.0,380.7 979.0,389.9 972.8,387.0 957.0,377.7 950.0,374.5 942.0,372.1 934.0,371.2 909.0,372.6 903.0,374.0 900.0,376.3 898.1,380.0 897.6,385.0 898.4,390.0 901.0,392.1 910.0,393.7 918.0,393.3 932.0,390.1 937.0,390.4 943.1,392.0 951.2,396.0 970.0,407.7 979.0,411.1 979.0,420.9ZM535.0,424.1 532.0,423.8 524.0,420.7 520.0,420.0 505.0,420.9 505.0,411.2 528.0,413.5 537.0,412.9 542.0,411.4 555.6,405.0 573.0,398.7 587.0,390.7 590.0,390.1 593.0,390.4 595.0,391.5 596.3,393.0 596.7,395.0 596.1,397.0 593.0,399.5 554.0,414.7 539.0,422.8 535.0,424.1ZM705.0,439.0 696.1,439.0 693.6,433.0 685.7,418.0 681.7,413.0 677.0,409.2 672.0,406.6 665.0,404.6 657.0,403.3 648.0,402.7 640.0,403.2 632.0,404.5 625.0,406.4 620.0,408.6 611.3,415.0 602.0,426.8 594.8,431.0 571.0,437.4 567.1,439.0 554.1,439.0 557.0,435.6 561.1,433.0 573.9,428.0 589.0,423.5 598.0,419.1 603.8,414.0 609.0,404.3 613.0,401.6 620.5,399.0 633.1,396.0 648.0,394.3 657.2,395.0 672.2,398.0 678.6,400.0 684.0,403.1 688.0,407.0 692.0,412.9 705.0,439.0ZM958.0,439.0 947.0,439.0 946.6,434.0 944.1,430.0 940.0,428.0 930.0,426.3 926.0,424.8 923.8,423.0 922.4,421.0 921.9,419.0 922.4,417.0 924.0,415.8 928.0,415.8 934.0,417.5 939.2,420.0 955.0,431.7 957.3,435.0 958.0,439.0ZM675.0,439.0 666.4,439.0 662.3,435.0 658.0,432.3 653.0,430.6 649.0,430.2 644.0,430.7 637.0,432.7 631.0,435.8 627.4,439.0 617.0,439.0 624.0,431.0 630.4,426.0 638.0,423.1 647.0,422.3 657.0,423.0 665.0,425.8 670.8,431.0 675.0,439.0ZM509.0,439.0 505.0,439.1 505.0,436.5 508.0,437.9 509.4,439.0 509.0,439.0ZM979.0,439.2 973.6,439.0 976.0,436.8 979.0,436.0 979.0,439.2Z" fill="#fdf6ea" fill-rule="evenodd" filter="url(#blur15)"/></g>
<path d="M762.0,208.5 C766.0,205.0 773.3,206.6 779.0,207.0 C784.7,207.4 793.3,206.8 796.0,211.0 C798.7,215.2 797.0,225.5 795.0,232.0 C793.0,238.5 786.3,244.0 784.0,250.0 C781.7,256.0 781.6,261.8 781.4,268.0 C781.2,274.2 782.9,280.5 783.0,287.5 C783.1,294.5 782.3,304.5 782.0,310.0 C781.7,315.5 783.4,317.9 781.4,320.6 C779.4,323.3 774.9,324.9 770.0,326.0 C765.1,327.1 758.8,327.2 752.0,327.0 C745.2,326.8 733.0,328.2 729.0,324.5 C725.0,320.8 727.7,311.2 728.0,305.0 C728.3,298.8 728.8,294.2 730.8,287.5 C732.8,280.8 737.4,271.5 740.0,265.0 C742.6,258.5 743.9,254.8 746.4,248.6 C748.9,242.4 752.4,234.7 755.0,228.0 C757.6,221.3 758.0,212.0 762.0,208.5Z" fill="#b5bde1" opacity="0.93"/>
<ellipse cx="772" cy="222" rx="9" ry="6" fill="#d3d9f0" opacity="0.8" filter="url(#blur2)"/>
<ellipse cx="766" cy="300" rx="11" ry="7" fill="#d3d9f0" opacity="0.8" filter="url(#blur2)"/>
<ellipse cx="760" cy="262" rx="7" ry="9" fill="#d3d9f0" opacity="0.8" filter="url(#blur2)"/>
<ellipse cx="750" cy="312" rx="8" ry="5" fill="#d3d9f0" opacity="0.8" filter="url(#blur2)"/>
<path d="M735.0,330.0 C738.3,325.5 750.8,324.2 760.0,323.0 C769.2,321.8 782.3,321.7 790.0,323.0 C797.7,324.3 803.7,327.3 806.0,331.0 C808.3,334.7 806.7,341.3 804.0,345.0 C801.3,348.7 797.3,351.3 790.0,353.0 C782.7,354.7 768.3,355.5 760.0,355.0 C751.7,354.5 744.2,354.2 740.0,350.0 C735.8,345.8 731.7,334.5 735.0,330.0Z" fill="#b7d3aa" opacity="0.88" filter="url(#blur07)"/>
<path d="M963.0,330.7 C960.0,331.0 957.7,332.7 954.0,336.0 C950.3,339.3 944.7,346.1 941.0,350.6 C937.3,355.1 935.0,358.8 932.0,363.0 C929.0,367.2 926.9,370.6 923.0,376.0 C919.1,381.4 911.8,390.9 908.8,395.7 C905.8,400.5 905.3,401.4 905.0,404.7 C904.7,408.0 904.6,412.4 907.0,415.6 C909.4,418.8 913.3,422.3 919.6,424.0 C925.9,425.7 936.9,427.3 945.0,426.0 C953.1,424.7 962.2,421.3 968.0,416.0 C973.8,410.7 977.7,401.3 980.0,394.0 C982.3,386.7 982.0,379.2 982.0,372.0 C982.0,364.8 981.7,356.9 980.0,350.6 C978.3,344.3 974.8,337.3 972.0,334.0 C969.2,330.7 966.0,330.4 963.0,330.7Z" fill="#e6918f" opacity="0.97" clip-path="url(#brainclip)"/>
<ellipse cx="955" cy="360" rx="6" ry="12" fill="#f0b2b0" opacity="0.8" filter="url(#blur2)"/>
<ellipse cx="948" cy="395" rx="10" ry="6" fill="#f0b2b0" opacity="0.8" filter="url(#blur2)"/>
<ellipse cx="930" cy="410" rx="10" ry="5" fill="#f0b2b0" opacity="0.8" filter="url(#blur2)"/>
<ellipse cx="962" cy="385" rx="5" ry="9" fill="#f0b2b0" opacity="0.8" filter="url(#blur2)"/>
<ellipse cx="604" cy="385" rx="20" ry="11" fill="#e6bf4e" opacity="0.85" filter="url(#blur07)"/>
<ellipse cx="637" cy="388" rx="14" ry="10" fill="#eac75e" opacity="0.8" filter="url(#blur07)"/>
<ellipse cx="699" cy="337" rx="14" ry="7" fill="#b99ad2" opacity="0.9" filter="url(#blur07)"/>
<g clip-path="url(#brainclip)"><path d="M648.0,436.0 C647.8,436.2 648.3,436.8 647.0,437.0 C645.7,437.2 642.0,436.7 640.0,437.0 C638.0,437.3 635.0,439.0 635.0,439.0 C635.0,439.0 638.0,437.3 640.0,437.0 C642.0,436.7 645.7,437.2 647.0,437.0 C648.3,436.8 645.7,435.7 648.0,436.0 C650.3,436.3 660.8,439.0 661.0,439.0 C661.2,439.0 651.0,436.5 649.0,436.0M644.0,412.0 C643.8,412.2 645.0,412.7 643.0,413.0 C641.0,413.3 635.0,413.3 632.0,414.0 C629.0,414.7 629.2,413.5 625.0,417.0 C620.8,420.5 612.5,431.5 607.0,435.0 C601.5,438.5 595.7,437.5 592.0,438.0 C588.3,438.5 586.3,437.8 585.0,438.0 C583.7,438.2 585.0,438.8 584.0,439.0 C583.0,439.2 577.7,439.2 579.0,439.0 C580.3,438.8 587.3,438.7 592.0,438.0 C596.7,437.3 601.5,438.5 607.0,435.0 C612.5,431.5 620.8,420.5 625.0,417.0 C629.2,413.5 630.0,414.5 632.0,414.0 C634.0,413.5 635.0,414.3 637.0,414.0 C639.0,413.7 639.5,412.0 644.0,412.0 C648.5,412.0 659.5,413.2 664.0,414.0 C668.5,414.8 668.7,415.3 671.0,417.0 C673.3,418.7 676.0,421.2 678.0,424.0 C680.0,426.8 680.8,431.7 683.0,434.0 C685.2,436.3 691.0,438.0 691.0,438.0 C691.0,438.0 685.2,436.3 683.0,434.0 C680.8,431.7 680.0,426.8 678.0,424.0 C676.0,421.2 673.3,418.7 671.0,417.0 C668.7,415.3 668.3,414.8 664.0,414.0 C659.7,413.2 648.2,412.3 645.0,412.0M928.0,407.0 C927.8,407.2 927.0,408.0 927.0,408.0 C927.0,408.0 926.8,407.2 928.0,407.0 C929.2,406.8 932.2,406.7 934.0,407.0 C935.8,407.3 934.5,406.3 939.0,409.0 C943.5,411.7 956.3,419.7 961.0,423.0 C965.7,426.3 966.3,426.8 967.0,429.0 C967.7,431.2 965.2,435.7 965.0,436.0 C964.8,436.3 965.5,432.2 966.0,431.0 C966.5,429.8 966.8,429.5 968.0,429.0 C969.2,428.5 971.7,428.0 973.0,428.0 C974.3,428.0 975.8,429.0 976.0,429.0 C976.2,429.0 975.5,428.0 974.0,428.0 C972.5,428.0 969.2,429.8 967.0,429.0 C964.8,428.2 964.7,425.8 961.0,423.0 C957.3,420.2 949.5,414.7 945.0,412.0 C940.5,409.3 936.7,407.8 934.0,407.0 C931.3,406.2 929.8,407.0 929.0,407.0M918.0,381.0 C917.3,381.3 915.5,382.7 914.0,383.0 C912.5,383.3 909.0,383.0 909.0,383.0 C909.0,383.0 912.5,383.3 914.0,383.0 C915.5,382.7 913.5,381.3 918.0,381.0 C922.5,380.7 934.5,379.8 941.0,381.0 C947.5,382.2 952.3,385.5 957.0,388.0 C961.7,390.5 966.2,394.3 969.0,396.0 C971.8,397.7 972.5,396.5 974.0,398.0 C975.5,399.5 978.0,405.0 978.0,405.0 C978.0,405.0 978.8,401.5 974.0,398.0 C969.2,394.5 954.5,386.8 949.0,384.0 C943.5,381.2 946.0,381.5 941.0,381.0 C936.0,380.5 922.7,381.0 919.0,381.0M587.0,380.0 C584.8,381.0 576.5,384.7 574.0,386.0 C571.5,387.3 572.7,387.7 572.0,388.0 C571.3,388.3 571.0,387.5 570.0,388.0 C569.0,388.5 568.8,389.8 566.0,391.0 C563.2,392.2 557.8,393.2 553.0,395.0 C548.2,396.8 540.5,400.8 537.0,402.0 C533.5,403.2 533.0,401.8 532.0,402.0 C531.0,402.2 534.7,403.0 531.0,403.0 C527.3,403.0 514.3,403.5 510.0,402.0 C505.7,400.5 505.0,394.0 505.0,394.0 C505.0,394.0 506.7,400.7 510.0,402.0 C513.3,403.3 522.3,401.8 525.0,402.0 C527.7,402.2 524.0,403.0 526.0,403.0 C528.0,403.0 532.5,403.3 537.0,402.0 C541.5,400.7 548.2,396.8 553.0,395.0 C557.8,393.2 563.2,392.2 566.0,391.0 C568.8,389.8 569.0,388.5 570.0,388.0 C571.0,387.5 571.3,388.3 572.0,388.0 C572.7,387.7 571.5,387.3 574.0,386.0 C576.5,384.7 583.2,380.7 587.0,380.0 C590.8,379.3 593.5,380.3 597.0,382.0 C600.5,383.7 607.2,386.7 608.0,390.0 C608.8,393.3 604.0,399.0 602.0,402.0 C600.0,405.0 599.2,405.8 596.0,408.0 C592.8,410.2 585.7,413.8 583.0,415.0 C580.3,416.2 581.0,414.7 580.0,415.0 C579.0,415.3 579.8,416.0 577.0,417.0 C574.2,418.0 567.3,419.3 563.0,421.0 C558.7,422.7 554.3,424.8 551.0,427.0 C547.7,429.2 545.3,433.2 543.0,434.0 C540.7,434.8 541.2,432.5 537.0,432.0 C532.8,431.5 521.8,431.5 518.0,431.0 C514.2,430.5 515.7,429.3 514.0,429.0 C512.3,428.7 508.0,429.0 508.0,429.0 C508.0,429.0 512.3,428.7 514.0,429.0 C515.7,429.3 514.2,430.5 518.0,431.0 C521.8,431.5 532.8,431.5 537.0,432.0 C541.2,432.5 540.7,434.8 543.0,434.0 C545.3,433.2 547.7,429.2 551.0,427.0 C554.3,424.8 558.7,422.7 563.0,421.0 C567.3,419.3 574.2,418.0 577.0,417.0 C579.8,416.0 579.0,415.3 580.0,415.0 C581.0,414.7 580.3,416.2 583.0,415.0 C585.7,413.8 592.8,410.2 596.0,408.0 C599.2,405.8 600.0,405.0 602.0,402.0 C604.0,399.0 605.0,392.2 608.0,390.0 C611.0,387.8 614.2,390.0 620.0,389.0 C625.8,388.0 637.5,384.8 643.0,384.0 C648.5,383.2 650.3,383.7 653.0,384.0 C655.7,384.3 657.0,385.7 659.0,386.0 C661.0,386.3 661.7,385.5 665.0,386.0 C668.3,386.5 674.8,387.7 679.0,389.0 C683.2,390.3 686.7,391.3 690.0,394.0 C693.3,396.7 695.2,398.3 699.0,405.0 C702.8,411.7 709.7,428.5 713.0,434.0 C716.3,439.5 719.0,438.0 719.0,438.0 C719.0,438.0 716.3,439.5 713.0,434.0 C709.7,428.5 702.0,410.8 699.0,405.0 C696.0,399.2 697.3,401.3 695.0,399.0 C692.7,396.7 692.0,393.5 685.0,391.0 C678.0,388.5 660.0,385.2 653.0,384.0 C646.0,382.8 648.5,383.2 643.0,384.0 C637.5,384.8 625.8,388.0 620.0,389.0 C614.2,390.0 611.8,391.2 608.0,390.0 C604.2,388.8 600.3,383.7 597.0,382.0 C593.7,380.3 589.5,380.3 588.0,380.0M586.0,349.0 C584.2,349.7 579.5,350.7 575.0,353.0 C570.5,355.3 566.0,359.7 559.0,363.0 C552.0,366.3 538.7,371.3 533.0,373.0 C527.3,374.7 526.5,372.8 525.0,373.0 C523.5,373.2 526.2,374.0 524.0,374.0 C521.8,374.0 514.8,373.8 512.0,373.0 C509.2,372.2 508.2,370.5 507.0,369.0 C505.8,367.5 505.0,364.0 505.0,364.0 C505.0,364.0 505.8,367.5 507.0,369.0 C508.2,370.5 510.0,372.3 512.0,373.0 C514.0,373.7 517.7,372.8 519.0,373.0 C520.3,373.2 517.7,374.0 520.0,374.0 C522.3,374.0 526.5,374.8 533.0,373.0 C539.5,371.2 552.0,366.3 559.0,363.0 C566.0,359.7 570.5,355.3 575.0,353.0 C579.5,350.7 582.2,349.5 586.0,349.0 C589.8,348.5 595.0,349.0 598.0,350.0 C601.0,351.0 601.5,353.3 604.0,355.0 C606.5,356.7 609.5,359.2 613.0,360.0 C616.5,360.8 620.3,360.7 625.0,360.0 C629.7,359.3 636.2,356.7 641.0,356.0 C645.8,355.3 651.7,355.8 654.0,356.0 C656.3,356.2 653.0,356.7 655.0,357.0 C657.0,357.3 661.7,357.2 666.0,358.0 C670.3,358.8 676.0,361.0 681.0,362.0 C686.0,363.0 692.0,363.2 696.0,364.0 C700.0,364.8 702.3,365.3 705.0,367.0 C707.7,368.7 709.3,370.5 712.0,374.0 C714.7,377.5 716.8,380.0 721.0,388.0 C725.2,396.0 733.3,415.5 737.0,422.0 C740.7,428.5 740.7,426.0 743.0,427.0 C745.3,428.0 749.5,428.0 751.0,428.0 C752.5,428.0 749.5,427.3 752.0,427.0 C754.5,426.7 762.2,425.3 766.0,426.0 C769.8,426.7 772.3,429.8 775.0,431.0 C777.7,432.2 777.7,432.7 782.0,433.0 C786.3,433.3 796.3,433.3 801.0,433.0 C805.7,432.7 805.0,431.3 810.0,431.0 C815.0,430.7 823.0,429.7 831.0,431.0 C839.0,432.3 858.0,439.0 858.0,439.0 C858.0,439.0 839.0,432.3 831.0,431.0 C823.0,429.7 815.0,430.7 810.0,431.0 C805.0,431.3 805.7,432.7 801.0,433.0 C796.3,433.3 787.7,434.0 782.0,433.0 C776.3,432.0 770.0,428.8 767.0,427.0 C764.0,425.2 764.5,424.3 764.0,422.0 C763.5,419.7 764.3,415.7 764.0,413.0 C763.7,410.3 763.7,409.0 762.0,406.0 C760.3,403.0 757.0,400.2 754.0,395.0 C751.0,389.8 746.0,379.7 744.0,375.0 C742.0,370.3 743.5,370.0 742.0,367.0 C740.5,364.0 735.3,357.7 735.0,357.0 C734.7,356.3 738.5,360.0 740.0,363.0 C741.5,366.0 741.7,369.7 744.0,375.0 C746.3,380.3 751.0,389.8 754.0,395.0 C757.0,400.2 760.3,403.0 762.0,406.0 C763.7,409.0 763.7,410.3 764.0,413.0 C764.3,415.7 763.8,420.3 764.0,422.0 C764.2,423.7 765.0,422.3 765.0,423.0 C765.0,423.7 767.2,425.2 764.0,426.0 C760.8,426.8 749.8,428.0 746.0,428.0 C742.2,428.0 742.5,427.0 741.0,426.0 C739.5,425.0 740.3,428.3 737.0,422.0 C733.7,415.7 725.2,396.0 721.0,388.0 C716.8,380.0 715.0,377.7 712.0,374.0 C709.0,370.3 712.7,369.0 703.0,366.0 C693.3,363.0 664.3,357.7 654.0,356.0 C643.7,354.3 645.8,355.3 641.0,356.0 C636.2,356.7 629.7,359.3 625.0,360.0 C620.3,360.7 615.3,360.3 613.0,360.0 C610.7,359.7 612.0,358.5 611.0,358.0 C610.0,357.5 609.2,358.3 607.0,357.0 C604.8,355.7 601.3,351.3 598.0,350.0 C594.7,348.7 588.8,349.2 587.0,349.0M806.0,340.0 C805.3,340.2 803.5,340.0 802.0,341.0 C800.5,342.0 798.2,344.2 797.0,346.0 C795.8,347.8 795.0,349.3 795.0,352.0 C795.0,354.7 796.3,359.7 797.0,362.0 C797.7,364.3 797.7,364.3 799.0,366.0 C800.3,367.7 803.0,370.7 805.0,372.0 C807.0,373.3 805.3,373.5 811.0,374.0 C816.7,374.5 831.3,374.2 839.0,375.0 C846.7,375.8 853.5,378.0 857.0,379.0 C860.5,380.0 857.5,380.3 860.0,381.0 C862.5,381.7 865.8,378.7 872.0,383.0 C878.2,387.3 890.3,401.2 897.0,407.0 C903.7,412.8 909.3,415.3 912.0,418.0 C914.7,420.7 912.0,421.0 913.0,423.0 C914.0,425.0 916.2,428.2 918.0,430.0 C919.8,431.8 921.2,433.2 924.0,434.0 C926.8,434.8 932.3,434.5 935.0,435.0 C937.7,435.5 940.0,437.0 940.0,437.0 C940.0,437.0 937.7,435.5 935.0,435.0 C932.3,434.5 926.8,434.8 924.0,434.0 C921.2,433.2 919.7,431.5 918.0,430.0 C916.3,428.5 915.0,427.0 914.0,425.0 C913.0,423.0 914.8,421.0 912.0,418.0 C909.2,415.0 903.7,412.8 897.0,407.0 C890.3,401.2 878.2,387.3 872.0,383.0 C865.8,378.7 862.5,381.7 860.0,381.0 C857.5,380.3 860.5,380.0 857.0,379.0 C853.5,378.0 846.7,375.8 839.0,375.0 C831.3,374.2 816.7,374.5 811.0,374.0 C805.3,373.5 807.0,373.3 805.0,372.0 C803.0,370.7 800.3,367.7 799.0,366.0 C797.7,364.3 797.7,364.2 797.0,362.0 C796.3,359.8 795.2,355.3 795.0,353.0 C794.8,350.7 794.8,350.0 796.0,348.0 C797.2,346.0 799.7,342.3 802.0,341.0 C804.3,339.7 806.3,339.5 810.0,340.0 C813.7,340.5 821.3,343.0 824.0,344.0 C826.7,345.0 823.2,345.5 826.0,346.0 C828.8,346.5 835.2,346.2 841.0,347.0 C846.8,347.8 853.7,348.8 861.0,351.0 C868.3,353.2 879.3,358.7 885.0,360.0 C890.7,361.3 892.2,359.7 895.0,359.0 C897.8,358.3 898.8,356.7 902.0,356.0 C905.2,355.3 911.8,355.3 914.0,355.0 C916.2,354.7 910.2,354.2 915.0,354.0 C919.8,353.8 936.7,353.7 943.0,354.0 C949.3,354.3 948.0,353.8 953.0,356.0 C958.0,358.2 969.2,364.7 973.0,367.0 C976.8,369.3 975.0,368.5 976.0,370.0 C977.0,371.5 979.0,376.0 979.0,376.0 C979.0,376.0 977.0,371.5 976.0,370.0 C975.0,368.5 977.3,369.5 973.0,367.0 C968.7,364.5 959.7,357.2 950.0,355.0 C940.3,352.8 921.0,354.0 915.0,354.0 C909.0,354.0 916.2,354.7 914.0,355.0 C911.8,355.3 905.2,355.3 902.0,356.0 C898.8,356.7 897.8,358.3 895.0,359.0 C892.2,359.7 890.7,361.3 885.0,360.0 C879.3,358.7 867.2,353.0 861.0,351.0 C854.8,349.0 853.8,348.8 848.0,348.0 C842.2,347.2 830.0,346.7 826.0,346.0 C822.0,345.3 825.8,344.8 824.0,344.0 C822.2,343.2 817.8,341.7 815.0,341.0 C812.2,340.3 808.3,340.2 807.0,340.0M535.0,279.0 C530.8,280.8 514.7,287.7 510.0,290.0 C505.3,292.3 507.8,291.7 507.0,293.0 C506.2,294.3 505.0,298.0 505.0,298.0 C505.0,298.0 506.2,294.3 507.0,293.0 C507.8,291.7 505.3,292.3 510.0,290.0 C514.7,287.7 528.7,280.2 535.0,279.0 C541.3,277.8 544.5,281.2 548.0,283.0 C551.5,284.8 555.3,287.2 556.0,290.0 C556.7,292.8 553.7,297.3 552.0,300.0 C550.3,302.7 547.8,304.5 546.0,306.0 C544.2,307.5 544.5,307.5 541.0,309.0 C537.5,310.5 529.5,313.7 525.0,315.0 C520.5,316.3 514.0,317.0 514.0,317.0 C514.0,317.0 520.2,316.5 525.0,315.0 C529.8,313.5 538.5,310.5 543.0,308.0 C547.5,305.5 550.0,302.5 552.0,300.0 C554.0,297.5 554.0,294.7 555.0,293.0 C556.0,291.3 557.0,290.3 558.0,290.0 C559.0,289.7 559.7,291.0 561.0,291.0 C562.3,291.0 561.2,290.2 566.0,290.0 C570.8,289.8 585.7,289.8 590.0,290.0 C594.3,290.2 590.8,289.8 592.0,291.0 C593.2,292.2 595.5,293.0 597.0,297.0 C598.5,301.0 601.0,311.5 601.0,315.0 C601.0,318.5 599.3,317.5 597.0,318.0 C594.7,318.5 591.0,317.5 587.0,318.0 C583.0,318.5 576.3,320.0 573.0,321.0 C569.7,322.0 570.5,321.7 567.0,324.0 C563.5,326.3 558.2,331.7 552.0,335.0 C545.8,338.3 535.5,342.3 530.0,344.0 C524.5,345.7 522.5,345.2 519.0,345.0 C515.5,344.8 511.3,344.7 509.0,343.0 C506.7,341.3 505.0,335.0 505.0,335.0 C505.0,335.0 506.7,341.3 509.0,343.0 C511.3,344.7 515.5,344.8 519.0,345.0 C522.5,345.2 524.5,345.7 530.0,344.0 C535.5,342.3 546.3,338.0 552.0,335.0 C557.7,332.0 560.5,328.3 564.0,326.0 C567.5,323.7 569.2,322.3 573.0,321.0 C576.8,319.7 583.0,318.5 587.0,318.0 C591.0,317.5 594.8,318.3 597.0,318.0 C599.2,317.7 599.0,316.3 600.0,316.0 C601.0,315.7 600.2,313.8 603.0,316.0 C605.8,318.2 613.5,326.2 617.0,329.0 C620.5,331.8 622.5,332.3 624.0,333.0 C625.5,333.7 626.0,333.0 626.0,333.0 C626.0,333.0 625.5,333.7 624.0,333.0 C622.5,332.3 620.8,332.0 617.0,329.0 C613.2,326.0 604.3,320.3 601.0,315.0 C597.7,309.7 598.5,301.0 597.0,297.0 C595.5,293.0 593.2,292.2 592.0,291.0 C590.8,289.8 594.3,290.2 590.0,290.0 C585.7,289.8 570.2,289.8 566.0,290.0 C561.8,290.2 566.3,291.0 565.0,291.0 C563.7,291.0 559.3,290.0 558.0,290.0 C556.7,290.0 558.7,292.2 557.0,291.0 C555.3,289.8 551.5,284.8 548.0,283.0 C544.5,281.2 538.0,280.5 536.0,280.0M638.0,267.0 C636.8,267.5 632.7,269.5 631.0,270.0 C629.3,270.5 629.3,269.5 628.0,270.0 C626.7,270.5 624.5,271.7 623.0,273.0 C621.5,274.3 619.7,276.5 619.0,278.0 C618.3,279.5 618.7,280.0 619.0,282.0 C619.3,284.0 620.2,287.8 621.0,290.0 C621.8,292.2 621.0,291.8 624.0,295.0 C627.0,298.2 635.5,305.2 639.0,309.0 C642.5,312.8 644.0,316.2 645.0,318.0 C646.0,319.8 643.8,318.7 645.0,320.0 C646.2,321.3 646.7,323.8 652.0,326.0 C657.3,328.2 670.2,331.3 677.0,333.0 C683.8,334.7 688.3,335.5 693.0,336.0 C697.7,336.5 702.8,335.8 705.0,336.0 C707.2,336.2 704.2,337.2 706.0,337.0 C707.8,336.8 712.0,336.5 716.0,335.0 C720.0,333.5 725.8,329.3 730.0,328.0 C734.2,326.7 738.2,326.8 741.0,327.0 C743.8,327.2 745.7,328.3 747.0,329.0 C748.3,329.7 747.3,330.0 749.0,331.0 C750.7,332.0 754.8,334.2 757.0,335.0 C759.2,335.8 760.8,335.5 762.0,336.0 C763.2,336.5 763.5,335.3 764.0,338.0 C764.5,340.7 764.2,347.7 765.0,352.0 C765.8,356.3 765.3,356.2 769.0,364.0 C772.7,371.8 783.5,392.7 787.0,399.0 C790.5,405.3 788.7,401.2 790.0,402.0 C791.3,402.8 793.5,403.8 795.0,404.0 C796.5,404.2 792.3,403.2 799.0,403.0 C805.7,402.8 826.5,402.5 835.0,403.0 C843.5,403.5 846.3,405.0 850.0,406.0 C853.7,407.0 854.7,407.7 857.0,409.0 C859.3,410.3 859.3,410.0 864.0,414.0 C868.7,418.0 879.3,428.8 885.0,433.0 C890.7,437.2 898.0,439.0 898.0,439.0 C898.0,439.0 890.7,437.2 885.0,433.0 C879.3,428.8 868.7,418.0 864.0,414.0 C859.3,410.0 859.3,410.3 857.0,409.0 C854.7,407.7 853.7,407.0 850.0,406.0 C846.3,405.0 843.5,403.5 835.0,403.0 C826.5,402.5 805.7,402.8 799.0,403.0 C792.3,403.2 796.5,404.2 795.0,404.0 C793.5,403.8 791.3,402.8 790.0,402.0 C788.7,401.2 790.5,405.3 787.0,399.0 C783.5,392.7 772.7,371.8 769.0,364.0 C765.3,356.2 765.8,356.5 765.0,352.0 C764.2,347.5 762.2,340.7 764.0,337.0 C765.8,333.3 772.8,332.3 776.0,330.0 C779.2,327.7 780.5,326.3 783.0,323.0 C785.5,319.7 788.8,312.8 791.0,310.0 C793.2,307.2 793.2,306.5 796.0,306.0 C798.8,305.5 802.0,305.0 808.0,307.0 C814.0,309.0 826.7,315.8 832.0,318.0 C837.3,320.2 835.0,319.3 840.0,320.0 C845.0,320.7 855.7,320.7 862.0,322.0 C868.3,323.3 874.7,327.0 878.0,328.0 C881.3,329.0 880.5,327.7 882.0,328.0 C883.5,328.3 884.5,329.8 887.0,330.0 C889.5,330.2 895.2,329.3 897.0,329.0 C898.8,328.7 896.3,328.2 898.0,328.0 C899.7,327.8 905.3,328.2 907.0,328.0 C908.7,327.8 900.2,327.2 908.0,327.0 C915.8,326.8 944.2,326.3 954.0,327.0 C963.8,327.7 963.3,329.0 967.0,331.0 C970.7,333.0 974.0,336.5 976.0,339.0 C978.0,341.5 979.0,346.0 979.0,346.0 C979.0,346.0 978.0,341.5 976.0,339.0 C974.0,336.5 970.7,333.0 967.0,331.0 C963.3,329.0 963.8,327.7 954.0,327.0 C944.2,326.3 915.8,326.8 908.0,327.0 C900.2,327.2 908.7,327.8 907.0,328.0 C905.3,328.2 899.7,327.8 898.0,328.0 C896.3,328.2 898.8,328.7 897.0,329.0 C895.2,329.3 889.5,330.2 887.0,330.0 C884.5,329.8 883.5,328.3 882.0,328.0 C880.5,327.7 881.3,329.0 878.0,328.0 C874.7,327.0 868.3,323.3 862.0,322.0 C855.7,320.7 845.0,320.7 840.0,320.0 C835.0,319.3 836.8,320.0 832.0,318.0 C827.2,316.0 815.7,310.0 811.0,308.0 C806.3,306.0 806.5,306.3 804.0,306.0 C801.5,305.7 798.2,305.3 796.0,306.0 C793.8,306.7 793.2,307.2 791.0,310.0 C788.8,312.8 785.5,319.7 783.0,323.0 C780.5,326.3 779.2,327.7 776.0,330.0 C772.8,332.3 767.2,336.2 764.0,337.0 C760.8,337.8 759.8,336.3 757.0,335.0 C754.2,333.7 749.7,330.3 747.0,329.0 C744.3,327.7 743.8,327.2 741.0,327.0 C738.2,326.8 735.2,326.3 730.0,328.0 C724.8,329.7 717.2,335.8 710.0,337.0 C702.8,338.2 696.3,336.7 687.0,335.0 C677.7,333.3 661.0,329.5 654.0,327.0 C647.0,324.5 646.5,321.5 645.0,320.0 C643.5,318.5 646.0,319.8 645.0,318.0 C644.0,316.2 642.5,312.8 639.0,309.0 C635.5,305.2 627.0,298.2 624.0,295.0 C621.0,291.8 621.8,292.8 621.0,290.0 C620.2,287.2 618.7,280.8 619.0,278.0 C619.3,275.2 621.5,274.3 623.0,273.0 C624.5,271.7 625.2,271.0 628.0,270.0 C630.8,269.0 637.3,266.8 640.0,267.0 C642.7,267.2 641.7,267.8 644.0,271.0 C646.3,274.2 650.0,281.2 654.0,286.0 C658.0,290.8 663.7,296.8 668.0,300.0 C672.3,303.2 676.5,303.8 680.0,305.0 C683.5,306.2 684.2,306.7 689.0,307.0 C693.8,307.3 701.3,308.7 709.0,307.0 C716.7,305.3 729.5,298.7 735.0,297.0 C740.5,295.3 739.2,296.7 742.0,297.0 C744.8,297.3 748.3,297.7 752.0,299.0 C755.7,300.3 764.0,305.0 764.0,305.0 C764.0,305.0 755.7,300.3 752.0,299.0 C748.3,297.7 745.5,297.2 742.0,297.0 C738.5,296.8 736.5,296.3 731.0,298.0 C725.5,299.7 716.0,305.5 709.0,307.0 C702.0,308.5 693.8,307.3 689.0,307.0 C684.2,306.7 683.5,306.2 680.0,305.0 C676.5,303.8 672.3,303.2 668.0,300.0 C663.7,296.8 658.0,290.8 654.0,286.0 C650.0,281.2 646.5,274.2 644.0,271.0 C641.5,267.8 639.8,267.7 639.0,267.0M639.0,198.0 C638.0,199.0 634.2,202.2 633.0,204.0 C631.8,205.8 632.0,208.0 632.0,209.0 C632.0,210.0 632.8,208.3 633.0,210.0 C633.2,211.7 632.8,217.3 633.0,219.0 C633.2,220.7 633.8,217.7 634.0,220.0 C634.2,222.3 634.5,230.0 634.0,233.0 C633.5,236.0 632.7,236.3 631.0,238.0 C629.3,239.7 627.2,241.3 624.0,243.0 C620.8,244.7 616.0,245.7 612.0,248.0 C608.0,250.3 603.5,254.8 600.0,257.0 C596.5,259.2 593.7,260.3 591.0,261.0 C588.3,261.7 585.3,260.8 584.0,261.0 C582.7,261.2 586.2,262.0 583.0,262.0 C579.8,262.0 572.8,263.0 565.0,261.0 C557.2,259.0 542.2,252.0 536.0,250.0 C529.8,248.0 529.7,249.5 528.0,249.0 C526.3,248.5 527.0,250.0 526.0,247.0 C525.0,244.0 523.8,236.2 522.0,231.0 C520.2,225.8 516.0,219.3 515.0,216.0 C514.0,212.7 516.0,211.0 516.0,211.0 C516.0,211.0 514.0,212.7 515.0,216.0 C516.0,219.3 520.2,225.7 522.0,231.0 C523.8,236.3 526.0,244.5 526.0,248.0 C526.0,251.5 524.8,250.0 522.0,252.0 C519.2,254.0 511.8,257.3 509.0,260.0 C506.2,262.7 505.0,268.0 505.0,268.0 C505.0,268.0 506.2,262.7 509.0,260.0 C511.8,257.3 519.2,254.0 522.0,252.0 C524.8,250.0 523.7,248.3 526.0,248.0 C528.3,247.7 529.5,247.8 536.0,250.0 C542.5,252.2 557.2,259.0 565.0,261.0 C572.8,263.0 579.8,262.0 583.0,262.0 C586.2,262.0 582.2,261.3 584.0,261.0 C585.8,260.7 591.3,260.7 594.0,260.0 C596.7,259.3 597.0,259.0 600.0,257.0 C603.0,255.0 608.0,250.3 612.0,248.0 C616.0,245.7 620.8,244.7 624.0,243.0 C627.2,241.3 629.3,239.7 631.0,238.0 C632.7,236.3 633.5,236.0 634.0,233.0 C634.5,230.0 634.2,222.3 634.0,220.0 C633.8,217.7 633.2,220.7 633.0,219.0 C632.8,217.3 633.2,211.7 633.0,210.0 C632.8,208.3 631.8,210.3 632.0,209.0 C632.2,207.7 632.8,203.8 634.0,202.0 C635.2,200.2 635.3,198.7 639.0,198.0 C642.7,197.3 652.5,197.3 656.0,198.0 C659.5,198.7 658.8,200.0 660.0,202.0 C661.2,204.0 662.8,202.7 663.0,210.0 C663.2,217.3 659.5,237.0 661.0,246.0 C662.5,255.0 668.3,259.2 672.0,264.0 C675.7,268.8 680.5,272.8 683.0,275.0 C685.5,277.2 684.7,276.3 687.0,277.0 C689.3,277.7 693.8,278.8 697.0,279.0 C700.2,279.2 700.2,280.0 706.0,278.0 C711.8,276.0 725.8,268.8 732.0,267.0 C738.2,265.2 739.7,266.7 743.0,267.0 C746.3,267.3 746.2,267.0 752.0,269.0 C757.8,271.0 773.0,277.3 778.0,279.0 C783.0,280.7 780.7,278.5 782.0,279.0 C783.3,279.5 785.5,281.7 786.0,282.0 C786.5,282.3 785.0,281.5 785.0,281.0 C785.0,280.5 783.7,280.0 786.0,279.0 C788.3,278.0 795.2,275.8 799.0,275.0 C802.8,274.2 806.5,273.8 809.0,274.0 C811.5,274.2 811.2,274.2 814.0,276.0 C816.8,277.8 821.3,282.3 826.0,285.0 C830.7,287.7 837.5,290.3 842.0,292.0 C846.5,293.7 849.2,294.5 853.0,295.0 C856.8,295.5 858.7,294.2 865.0,295.0 C871.3,295.8 875.0,299.2 891.0,300.0 C907.0,300.8 949.2,300.2 961.0,300.0 C972.8,299.8 961.0,299.2 962.0,299.0 C963.0,298.8 965.0,299.5 967.0,299.0 C969.0,298.5 972.0,297.8 974.0,296.0 C976.0,294.2 979.0,288.0 979.0,288.0 C979.0,288.0 976.0,294.2 974.0,296.0 C972.0,297.8 969.0,298.5 967.0,299.0 C965.0,299.5 963.0,298.8 962.0,299.0 C961.0,299.2 972.8,299.8 961.0,300.0 C949.2,300.2 907.0,300.8 891.0,300.0 C875.0,299.2 871.3,295.8 865.0,295.0 C858.7,294.2 856.8,295.5 853.0,295.0 C849.2,294.5 846.5,293.7 842.0,292.0 C837.5,290.3 830.7,287.7 826.0,285.0 C821.3,282.3 816.8,277.8 814.0,276.0 C811.2,274.2 811.5,274.2 809.0,274.0 C806.5,273.8 803.3,274.0 799.0,275.0 C794.7,276.0 790.8,281.0 783.0,280.0 C775.2,279.0 758.7,271.2 752.0,269.0 C745.3,266.8 746.3,267.3 743.0,267.0 C739.7,266.7 738.2,265.2 732.0,267.0 C725.8,268.8 711.8,276.0 706.0,278.0 C700.2,280.0 700.2,279.2 697.0,279.0 C693.8,278.8 689.3,277.7 687.0,277.0 C684.7,276.3 685.5,277.2 683.0,275.0 C680.5,272.8 675.7,268.8 672.0,264.0 C668.3,259.2 662.5,255.0 661.0,246.0 C659.5,237.0 663.2,217.3 663.0,210.0 C662.8,202.7 661.2,204.0 660.0,202.0 C658.8,200.0 659.3,198.7 656.0,198.0 C652.7,197.3 642.7,198.0 640.0,198.0M540.0,196.0 C540.5,196.5 542.5,197.5 543.0,199.0 C543.5,200.5 542.8,203.8 543.0,205.0 C543.2,206.2 544.0,205.2 544.0,206.0 C544.0,206.8 542.5,207.3 543.0,210.0 C543.5,212.7 545.5,219.2 547.0,222.0 C548.5,224.8 550.2,225.7 552.0,227.0 C553.8,228.3 555.7,229.2 558.0,230.0 C560.3,230.8 563.3,231.7 566.0,232.0 C568.7,232.3 572.5,231.8 574.0,232.0 C575.5,232.2 573.3,233.0 575.0,233.0 C576.7,233.0 579.7,233.5 584.0,232.0 C588.3,230.5 597.2,226.3 601.0,224.0 C604.8,221.7 606.0,219.8 607.0,218.0 C608.0,216.2 607.0,213.0 607.0,213.0 C607.0,213.0 608.0,216.2 607.0,218.0 C606.0,219.8 604.0,222.0 601.0,224.0 C598.0,226.0 593.0,228.5 589.0,230.0 C585.0,231.5 580.8,232.7 577.0,233.0 C573.2,233.3 569.7,232.7 566.0,232.0 C562.3,231.3 558.2,230.7 555.0,229.0 C551.8,227.3 549.0,225.2 547.0,222.0 C545.0,218.8 543.5,212.3 543.0,210.0 C542.5,207.7 544.0,209.7 544.0,208.0 C544.0,206.3 542.3,202.0 543.0,200.0 C543.7,198.0 547.8,196.2 548.0,196.0 C548.2,195.8 545.2,198.8 544.0,199.0 C542.8,199.2 541.5,197.3 541.0,197.0M922.0,195.0 C923.8,195.2 931.0,195.7 933.0,196.0 C935.0,196.3 932.7,197.2 934.0,197.0 C935.3,196.8 940.8,195.0 941.0,195.0 C941.2,195.0 938.0,197.0 935.0,197.0 C932.0,197.0 925.0,195.3 923.0,195.0M884.0,195.0 C885.8,195.5 890.3,194.7 895.0,198.0 C899.7,201.3 907.0,211.5 912.0,215.0 C917.0,218.5 920.5,218.3 925.0,219.0 C929.5,219.7 933.8,220.0 939.0,219.0 C944.2,218.0 951.8,215.2 956.0,213.0 C960.2,210.8 962.5,208.2 964.0,206.0 C965.5,203.8 964.5,201.5 965.0,200.0 C965.5,198.5 967.0,197.0 967.0,197.0 C967.0,197.0 965.5,198.5 965.0,200.0 C964.5,201.5 965.5,203.8 964.0,206.0 C962.5,208.2 960.2,210.8 956.0,213.0 C951.8,215.2 944.2,218.0 939.0,219.0 C933.8,220.0 929.5,219.7 925.0,219.0 C920.5,218.3 917.0,218.5 912.0,215.0 C907.0,211.5 899.5,201.3 895.0,198.0 C890.5,194.7 886.7,195.5 885.0,195.0M782.0,195.0 C782.2,195.0 782.8,195.0 783.0,195.0M711.0,195.0 C711.7,195.3 713.8,196.2 715.0,197.0 C716.2,197.8 717.5,199.2 718.0,200.0 C718.5,200.8 716.8,200.7 718.0,202.0 C719.2,203.3 719.5,206.8 725.0,208.0 C730.5,209.2 744.7,208.3 751.0,209.0 C757.3,209.7 758.3,210.5 763.0,212.0 C767.7,213.5 775.5,217.0 779.0,218.0 C782.5,219.0 783.0,217.8 784.0,218.0 C785.0,218.2 783.2,219.0 785.0,219.0 C786.8,219.0 790.2,218.8 795.0,218.0 C799.8,217.2 809.5,214.7 814.0,214.0 C818.5,213.3 820.0,213.7 822.0,214.0 C824.0,214.3 824.8,215.7 826.0,216.0 C827.2,216.3 827.3,215.3 829.0,216.0 C830.7,216.7 831.2,216.2 836.0,220.0 C840.8,223.8 852.7,235.2 858.0,239.0 C863.3,242.8 864.3,242.7 868.0,243.0 C871.7,243.3 877.0,241.8 880.0,241.0 C883.0,240.2 884.2,238.5 886.0,238.0 C887.8,237.5 885.3,236.7 891.0,238.0 C896.7,239.3 911.2,244.7 920.0,246.0 C928.8,247.3 937.0,246.8 944.0,246.0 C951.0,245.2 958.0,242.3 962.0,241.0 C966.0,239.7 966.5,239.0 968.0,238.0 C969.5,237.0 971.0,235.0 971.0,235.0 C971.0,235.0 969.5,237.0 968.0,238.0 C966.5,239.0 966.0,239.7 962.0,241.0 C958.0,242.3 951.0,245.2 944.0,246.0 C937.0,246.8 929.3,247.3 920.0,246.0 C910.7,244.7 893.7,239.7 888.0,238.0 C882.3,236.3 886.8,238.3 886.0,236.0 C885.2,233.7 884.7,227.3 883.0,224.0 C881.3,220.7 878.5,218.2 876.0,216.0 C873.5,213.8 871.7,214.0 868.0,211.0 C864.3,208.0 859.0,200.7 854.0,198.0 C849.0,195.3 838.0,195.0 838.0,195.0 C838.0,195.0 849.0,195.3 854.0,198.0 C859.0,200.7 864.3,208.0 868.0,211.0 C871.7,214.0 873.5,213.8 876.0,216.0 C878.5,218.2 881.7,221.7 883.0,224.0 C884.3,226.3 883.3,227.8 884.0,230.0 C884.7,232.2 887.7,235.2 887.0,237.0 C886.3,238.8 883.2,240.0 880.0,241.0 C876.8,242.0 871.7,243.3 868.0,243.0 C864.3,242.7 863.3,242.8 858.0,239.0 C852.7,235.2 840.8,223.8 836.0,220.0 C831.2,216.2 830.7,216.7 829.0,216.0 C827.3,215.3 827.2,216.3 826.0,216.0 C824.8,215.7 824.0,214.3 822.0,214.0 C820.0,213.7 818.5,213.3 814.0,214.0 C809.5,214.7 799.5,217.3 795.0,218.0 C790.5,218.7 788.5,217.8 787.0,218.0 C785.5,218.2 787.3,219.0 786.0,219.0 C784.7,219.0 782.8,219.2 779.0,218.0 C775.2,216.8 767.7,213.5 763.0,212.0 C758.3,210.5 757.3,209.7 751.0,209.0 C744.7,208.3 730.5,209.2 725.0,208.0 C719.5,206.8 719.2,203.3 718.0,202.0 C716.8,200.7 718.5,200.8 718.0,200.0 C717.5,199.2 716.0,197.7 715.0,197.0 C714.0,196.3 712.5,196.2 712.0,196.0M681.0,195.0 C682.3,196.0 687.0,197.5 689.0,201.0 C691.0,204.5 693.0,211.0 693.0,216.0 C693.0,221.0 689.7,227.2 689.0,231.0 C688.3,234.8 688.2,236.3 689.0,239.0 C689.8,241.7 692.2,245.3 694.0,247.0 C695.8,248.7 696.8,249.3 700.0,249.0 C703.2,248.7 709.3,247.0 713.0,245.0 C716.7,243.0 717.0,238.3 722.0,237.0 C727.0,235.7 737.5,236.5 743.0,237.0 C748.5,237.5 750.5,238.5 755.0,240.0 C759.5,241.5 765.3,244.5 770.0,246.0 C774.7,247.5 779.3,248.7 783.0,249.0 C786.7,249.3 789.2,248.7 792.0,248.0 C794.8,247.3 796.0,245.7 800.0,245.0 C804.0,244.3 812.0,243.7 816.0,244.0 C820.0,244.3 819.7,244.0 824.0,247.0 C828.3,250.0 836.0,258.3 842.0,262.0 C848.0,265.7 851.3,267.8 860.0,269.0 C868.7,270.2 886.5,268.5 894.0,269.0 C901.5,269.5 900.8,271.5 905.0,272.0 C909.2,272.5 916.5,271.8 919.0,272.0 C921.5,272.2 915.0,272.8 920.0,273.0 C925.0,273.2 944.0,273.2 949.0,273.0 C954.0,272.8 948.2,272.3 950.0,272.0 C951.8,271.7 957.8,271.5 960.0,271.0 C962.2,270.5 960.7,269.8 963.0,269.0 C965.3,268.2 971.3,268.0 974.0,266.0 C976.7,264.0 979.0,257.0 979.0,257.0 C979.0,257.0 976.7,264.0 974.0,266.0 C971.3,268.0 965.3,268.2 963.0,269.0 C960.7,269.8 962.2,270.5 960.0,271.0 C957.8,271.5 951.8,271.7 950.0,272.0 C948.2,272.3 954.0,272.8 949.0,273.0 C944.0,273.2 925.0,273.2 920.0,273.0 C915.0,272.8 921.5,272.2 919.0,272.0 C916.5,271.8 909.2,272.5 905.0,272.0 C900.8,271.5 901.5,269.5 894.0,269.0 C886.5,268.5 868.7,270.2 860.0,269.0 C851.3,267.8 848.0,265.7 842.0,262.0 C836.0,258.3 828.3,250.0 824.0,247.0 C819.7,244.0 820.0,244.3 816.0,244.0 C812.0,243.7 804.0,244.3 800.0,245.0 C796.0,245.7 794.8,247.3 792.0,248.0 C789.2,248.7 786.7,249.3 783.0,249.0 C779.3,248.7 772.7,246.8 770.0,246.0 C767.3,245.2 771.5,245.5 767.0,244.0 C762.5,242.5 750.5,238.2 743.0,237.0 C735.5,235.8 727.0,235.7 722.0,237.0 C717.0,238.3 716.7,243.0 713.0,245.0 C709.3,247.0 703.2,248.7 700.0,249.0 C696.8,249.3 695.8,248.7 694.0,247.0 C692.2,245.3 689.8,241.7 689.0,239.0 C688.2,236.3 688.3,234.8 689.0,231.0 C689.7,227.2 693.0,221.0 693.0,216.0 C693.0,211.0 690.3,204.2 689.0,201.0 C687.7,197.8 686.2,197.8 685.0,197.0 C683.8,196.2 682.5,196.2 682.0,196.0M610.0,195.0 C609.2,195.5 609.8,197.3 605.0,198.0 C600.2,198.7 586.3,198.0 581.0,199.0 C575.7,200.0 573.0,204.0 573.0,204.0 C573.0,204.0 575.7,200.0 581.0,199.0 C586.3,198.0 600.0,198.7 605.0,198.0 C610.0,197.3 610.0,195.5 611.0,195.0" fill="none" stroke="#bb9b72" stroke-width="1.35" stroke-linejoin="round" opacity="0.85"/></g>
<clipPath id="visclip"><path d="M963.0,330.7 C960.0,331.0 957.7,332.7 954.0,336.0 C950.3,339.3 944.7,346.1 941.0,350.6 C937.3,355.1 935.0,358.8 932.0,363.0 C929.0,367.2 926.9,370.6 923.0,376.0 C919.1,381.4 911.8,390.9 908.8,395.7 C905.8,400.5 905.3,401.4 905.0,404.7 C904.7,408.0 904.6,412.4 907.0,415.6 C909.4,418.8 913.3,422.3 919.6,424.0 C925.9,425.7 936.9,427.3 945.0,426.0 C953.1,424.7 962.2,421.3 968.0,416.0 C973.8,410.7 977.7,401.3 980.0,394.0 C982.3,386.7 982.0,379.2 982.0,372.0 C982.0,364.8 981.7,356.9 980.0,350.6 C978.3,344.3 974.8,337.3 972.0,334.0 C969.2,330.7 966.0,330.4 963.0,330.7Z"/></clipPath>
<g clip-path="url(#brainclip)"><g clip-path="url(#visclip)"><path d="M648.0,436.0 C647.8,436.2 648.3,436.8 647.0,437.0 C645.7,437.2 642.0,436.7 640.0,437.0 C638.0,437.3 635.0,439.0 635.0,439.0 C635.0,439.0 638.0,437.3 640.0,437.0 C642.0,436.7 645.7,437.2 647.0,437.0 C648.3,436.8 645.7,435.7 648.0,436.0 C650.3,436.3 660.8,439.0 661.0,439.0 C661.2,439.0 651.0,436.5 649.0,436.0M644.0,412.0 C643.8,412.2 645.0,412.7 643.0,413.0 C641.0,413.3 635.0,413.3 632.0,414.0 C629.0,414.7 629.2,413.5 625.0,417.0 C620.8,420.5 612.5,431.5 607.0,435.0 C601.5,438.5 595.7,437.5 592.0,438.0 C588.3,438.5 586.3,437.8 585.0,438.0 C583.7,438.2 585.0,438.8 584.0,439.0 C583.0,439.2 577.7,439.2 579.0,439.0 C580.3,438.8 587.3,438.7 592.0,438.0 C596.7,437.3 601.5,438.5 607.0,435.0 C612.5,431.5 620.8,420.5 625.0,417.0 C629.2,413.5 630.0,414.5 632.0,414.0 C634.0,413.5 635.0,414.3 637.0,414.0 C639.0,413.7 639.5,412.0 644.0,412.0 C648.5,412.0 659.5,413.2 664.0,414.0 C668.5,414.8 668.7,415.3 671.0,417.0 C673.3,418.7 676.0,421.2 678.0,424.0 C680.0,426.8 680.8,431.7 683.0,434.0 C685.2,436.3 691.0,438.0 691.0,438.0 C691.0,438.0 685.2,436.3 683.0,434.0 C680.8,431.7 680.0,426.8 678.0,424.0 C676.0,421.2 673.3,418.7 671.0,417.0 C668.7,415.3 668.3,414.8 664.0,414.0 C659.7,413.2 648.2,412.3 645.0,412.0M928.0,407.0 C927.8,407.2 927.0,408.0 927.0,408.0 C927.0,408.0 926.8,407.2 928.0,407.0 C929.2,406.8 932.2,406.7 934.0,407.0 C935.8,407.3 934.5,406.3 939.0,409.0 C943.5,411.7 956.3,419.7 961.0,423.0 C965.7,426.3 966.3,426.8 967.0,429.0 C967.7,431.2 965.2,435.7 965.0,436.0 C964.8,436.3 965.5,432.2 966.0,431.0 C966.5,429.8 966.8,429.5 968.0,429.0 C969.2,428.5 971.7,428.0 973.0,428.0 C974.3,428.0 975.8,429.0 976.0,429.0 C976.2,429.0 975.5,428.0 974.0,428.0 C972.5,428.0 969.2,429.8 967.0,429.0 C964.8,428.2 964.7,425.8 961.0,423.0 C957.3,420.2 949.5,414.7 945.0,412.0 C940.5,409.3 936.7,407.8 934.0,407.0 C931.3,406.2 929.8,407.0 929.0,407.0M918.0,381.0 C917.3,381.3 915.5,382.7 914.0,383.0 C912.5,383.3 909.0,383.0 909.0,383.0 C909.0,383.0 912.5,383.3 914.0,383.0 C915.5,382.7 913.5,381.3 918.0,381.0 C922.5,380.7 934.5,379.8 941.0,381.0 C947.5,382.2 952.3,385.5 957.0,388.0 C961.7,390.5 966.2,394.3 969.0,396.0 C971.8,397.7 972.5,396.5 974.0,398.0 C975.5,399.5 978.0,405.0 978.0,405.0 C978.0,405.0 978.8,401.5 974.0,398.0 C969.2,394.5 954.5,386.8 949.0,384.0 C943.5,381.2 946.0,381.5 941.0,381.0 C936.0,380.5 922.7,381.0 919.0,381.0M587.0,380.0 C584.8,381.0 576.5,384.7 574.0,386.0 C571.5,387.3 572.7,387.7 572.0,388.0 C571.3,388.3 571.0,387.5 570.0,388.0 C569.0,388.5 568.8,389.8 566.0,391.0 C563.2,392.2 557.8,393.2 553.0,395.0 C548.2,396.8 540.5,400.8 537.0,402.0 C533.5,403.2 533.0,401.8 532.0,402.0 C531.0,402.2 534.7,403.0 531.0,403.0 C527.3,403.0 514.3,403.5 510.0,402.0 C505.7,400.5 505.0,394.0 505.0,394.0 C505.0,394.0 506.7,400.7 510.0,402.0 C513.3,403.3 522.3,401.8 525.0,402.0 C527.7,402.2 524.0,403.0 526.0,403.0 C528.0,403.0 532.5,403.3 537.0,402.0 C541.5,400.7 548.2,396.8 553.0,395.0 C557.8,393.2 563.2,392.2 566.0,391.0 C568.8,389.8 569.0,388.5 570.0,388.0 C571.0,387.5 571.3,388.3 572.0,388.0 C572.7,387.7 571.5,387.3 574.0,386.0 C576.5,384.7 583.2,380.7 587.0,380.0 C590.8,379.3 593.5,380.3 597.0,382.0 C600.5,383.7 607.2,386.7 608.0,390.0 C608.8,393.3 604.0,399.0 602.0,402.0 C600.0,405.0 599.2,405.8 596.0,408.0 C592.8,410.2 585.7,413.8 583.0,415.0 C580.3,416.2 581.0,414.7 580.0,415.0 C579.0,415.3 579.8,416.0 577.0,417.0 C574.2,418.0 567.3,419.3 563.0,421.0 C558.7,422.7 554.3,424.8 551.0,427.0 C547.7,429.2 545.3,433.2 543.0,434.0 C540.7,434.8 541.2,432.5 537.0,432.0 C532.8,431.5 521.8,431.5 518.0,431.0 C514.2,430.5 515.7,429.3 514.0,429.0 C512.3,428.7 508.0,429.0 508.0,429.0 C508.0,429.0 512.3,428.7 514.0,429.0 C515.7,429.3 514.2,430.5 518.0,431.0 C521.8,431.5 532.8,431.5 537.0,432.0 C541.2,432.5 540.7,434.8 543.0,434.0 C545.3,433.2 547.7,429.2 551.0,427.0 C554.3,424.8 558.7,422.7 563.0,421.0 C567.3,419.3 574.2,418.0 577.0,417.0 C579.8,416.0 579.0,415.3 580.0,415.0 C581.0,414.7 580.3,416.2 583.0,415.0 C585.7,413.8 592.8,410.2 596.0,408.0 C599.2,405.8 600.0,405.0 602.0,402.0 C604.0,399.0 605.0,392.2 608.0,390.0 C611.0,387.8 614.2,390.0 620.0,389.0 C625.8,388.0 637.5,384.8 643.0,384.0 C648.5,383.2 650.3,383.7 653.0,384.0 C655.7,384.3 657.0,385.7 659.0,386.0 C661.0,386.3 661.7,385.5 665.0,386.0 C668.3,386.5 674.8,387.7 679.0,389.0 C683.2,390.3 686.7,391.3 690.0,394.0 C693.3,396.7 695.2,398.3 699.0,405.0 C702.8,411.7 709.7,428.5 713.0,434.0 C716.3,439.5 719.0,438.0 719.0,438.0 C719.0,438.0 716.3,439.5 713.0,434.0 C709.7,428.5 702.0,410.8 699.0,405.0 C696.0,399.2 697.3,401.3 695.0,399.0 C692.7,396.7 692.0,393.5 685.0,391.0 C678.0,388.5 660.0,385.2 653.0,384.0 C646.0,382.8 648.5,383.2 643.0,384.0 C637.5,384.8 625.8,388.0 620.0,389.0 C614.2,390.0 611.8,391.2 608.0,390.0 C604.2,388.8 600.3,383.7 597.0,382.0 C593.7,380.3 589.5,380.3 588.0,380.0M586.0,349.0 C584.2,349.7 579.5,350.7 575.0,353.0 C570.5,355.3 566.0,359.7 559.0,363.0 C552.0,366.3 538.7,371.3 533.0,373.0 C527.3,374.7 526.5,372.8 525.0,373.0 C523.5,373.2 526.2,374.0 524.0,374.0 C521.8,374.0 514.8,373.8 512.0,373.0 C509.2,372.2 508.2,370.5 507.0,369.0 C505.8,367.5 505.0,364.0 505.0,364.0 C505.0,364.0 505.8,367.5 507.0,369.0 C508.2,370.5 510.0,372.3 512.0,373.0 C514.0,373.7 517.7,372.8 519.0,373.0 C520.3,373.2 517.7,374.0 520.0,374.0 C522.3,374.0 526.5,374.8 533.0,373.0 C539.5,371.2 552.0,366.3 559.0,363.0 C566.0,359.7 570.5,355.3 575.0,353.0 C579.5,350.7 582.2,349.5 586.0,349.0 C589.8,348.5 595.0,349.0 598.0,350.0 C601.0,351.0 601.5,353.3 604.0,355.0 C606.5,356.7 609.5,359.2 613.0,360.0 C616.5,360.8 620.3,360.7 625.0,360.0 C629.7,359.3 636.2,356.7 641.0,356.0 C645.8,355.3 651.7,355.8 654.0,356.0 C656.3,356.2 653.0,356.7 655.0,357.0 C657.0,357.3 661.7,357.2 666.0,358.0 C670.3,358.8 676.0,361.0 681.0,362.0 C686.0,363.0 692.0,363.2 696.0,364.0 C700.0,364.8 702.3,365.3 705.0,367.0 C707.7,368.7 709.3,370.5 712.0,374.0 C714.7,377.5 716.8,380.0 721.0,388.0 C725.2,396.0 733.3,415.5 737.0,422.0 C740.7,428.5 740.7,426.0 743.0,427.0 C745.3,428.0 749.5,428.0 751.0,428.0 C752.5,428.0 749.5,427.3 752.0,427.0 C754.5,426.7 762.2,425.3 766.0,426.0 C769.8,426.7 772.3,429.8 775.0,431.0 C777.7,432.2 777.7,432.7 782.0,433.0 C786.3,433.3 796.3,433.3 801.0,433.0 C805.7,432.7 805.0,431.3 810.0,431.0 C815.0,430.7 823.0,429.7 831.0,431.0 C839.0,432.3 858.0,439.0 858.0,439.0 C858.0,439.0 839.0,432.3 831.0,431.0 C823.0,429.7 815.0,430.7 810.0,431.0 C805.0,431.3 805.7,432.7 801.0,433.0 C796.3,433.3 787.7,434.0 782.0,433.0 C776.3,432.0 770.0,428.8 767.0,427.0 C764.0,425.2 764.5,424.3 764.0,422.0 C763.5,419.7 764.3,415.7 764.0,413.0 C763.7,410.3 763.7,409.0 762.0,406.0 C760.3,403.0 757.0,400.2 754.0,395.0 C751.0,389.8 746.0,379.7 744.0,375.0 C742.0,370.3 743.5,370.0 742.0,367.0 C740.5,364.0 735.3,357.7 735.0,357.0 C734.7,356.3 738.5,360.0 740.0,363.0 C741.5,366.0 741.7,369.7 744.0,375.0 C746.3,380.3 751.0,389.8 754.0,395.0 C757.0,400.2 760.3,403.0 762.0,406.0 C763.7,409.0 763.7,410.3 764.0,413.0 C764.3,415.7 763.8,420.3 764.0,422.0 C764.2,423.7 765.0,422.3 765.0,423.0 C765.0,423.7 767.2,425.2 764.0,426.0 C760.8,426.8 749.8,428.0 746.0,428.0 C742.2,428.0 742.5,427.0 741.0,426.0 C739.5,425.0 740.3,428.3 737.0,422.0 C733.7,415.7 725.2,396.0 721.0,388.0 C716.8,380.0 715.0,377.7 712.0,374.0 C709.0,370.3 712.7,369.0 703.0,366.0 C693.3,363.0 664.3,357.7 654.0,356.0 C643.7,354.3 645.8,355.3 641.0,356.0 C636.2,356.7 629.7,359.3 625.0,360.0 C620.3,360.7 615.3,360.3 613.0,360.0 C610.7,359.7 612.0,358.5 611.0,358.0 C610.0,357.5 609.2,358.3 607.0,357.0 C604.8,355.7 601.3,351.3 598.0,350.0 C594.7,348.7 588.8,349.2 587.0,349.0M806.0,340.0 C805.3,340.2 803.5,340.0 802.0,341.0 C800.5,342.0 798.2,344.2 797.0,346.0 C795.8,347.8 795.0,349.3 795.0,352.0 C795.0,354.7 796.3,359.7 797.0,362.0 C797.7,364.3 797.7,364.3 799.0,366.0 C800.3,367.7 803.0,370.7 805.0,372.0 C807.0,373.3 805.3,373.5 811.0,374.0 C816.7,374.5 831.3,374.2 839.0,375.0 C846.7,375.8 853.5,378.0 857.0,379.0 C860.5,380.0 857.5,380.3 860.0,381.0 C862.5,381.7 865.8,378.7 872.0,383.0 C878.2,387.3 890.3,401.2 897.0,407.0 C903.7,412.8 909.3,415.3 912.0,418.0 C914.7,420.7 912.0,421.0 913.0,423.0 C914.0,425.0 916.2,428.2 918.0,430.0 C919.8,431.8 921.2,433.2 924.0,434.0 C926.8,434.8 932.3,434.5 935.0,435.0 C937.7,435.5 940.0,437.0 940.0,437.0 C940.0,437.0 937.7,435.5 935.0,435.0 C932.3,434.5 926.8,434.8 924.0,434.0 C921.2,433.2 919.7,431.5 918.0,430.0 C916.3,428.5 915.0,427.0 914.0,425.0 C913.0,423.0 914.8,421.0 912.0,418.0 C909.2,415.0 903.7,412.8 897.0,407.0 C890.3,401.2 878.2,387.3 872.0,383.0 C865.8,378.7 862.5,381.7 860.0,381.0 C857.5,380.3 860.5,380.0 857.0,379.0 C853.5,378.0 846.7,375.8 839.0,375.0 C831.3,374.2 816.7,374.5 811.0,374.0 C805.3,373.5 807.0,373.3 805.0,372.0 C803.0,370.7 800.3,367.7 799.0,366.0 C797.7,364.3 797.7,364.2 797.0,362.0 C796.3,359.8 795.2,355.3 795.0,353.0 C794.8,350.7 794.8,350.0 796.0,348.0 C797.2,346.0 799.7,342.3 802.0,341.0 C804.3,339.7 806.3,339.5 810.0,340.0 C813.7,340.5 821.3,343.0 824.0,344.0 C826.7,345.0 823.2,345.5 826.0,346.0 C828.8,346.5 835.2,346.2 841.0,347.0 C846.8,347.8 853.7,348.8 861.0,351.0 C868.3,353.2 879.3,358.7 885.0,360.0 C890.7,361.3 892.2,359.7 895.0,359.0 C897.8,358.3 898.8,356.7 902.0,356.0 C905.2,355.3 911.8,355.3 914.0,355.0 C916.2,354.7 910.2,354.2 915.0,354.0 C919.8,353.8 936.7,353.7 943.0,354.0 C949.3,354.3 948.0,353.8 953.0,356.0 C958.0,358.2 969.2,364.7 973.0,367.0 C976.8,369.3 975.0,368.5 976.0,370.0 C977.0,371.5 979.0,376.0 979.0,376.0 C979.0,376.0 977.0,371.5 976.0,370.0 C975.0,368.5 977.3,369.5 973.0,367.0 C968.7,364.5 959.7,357.2 950.0,355.0 C940.3,352.8 921.0,354.0 915.0,354.0 C909.0,354.0 916.2,354.7 914.0,355.0 C911.8,355.3 905.2,355.3 902.0,356.0 C898.8,356.7 897.8,358.3 895.0,359.0 C892.2,359.7 890.7,361.3 885.0,360.0 C879.3,358.7 867.2,353.0 861.0,351.0 C854.8,349.0 853.8,348.8 848.0,348.0 C842.2,347.2 830.0,346.7 826.0,346.0 C822.0,345.3 825.8,344.8 824.0,344.0 C822.2,343.2 817.8,341.7 815.0,341.0 C812.2,340.3 808.3,340.2 807.0,340.0M535.0,279.0 C530.8,280.8 514.7,287.7 510.0,290.0 C505.3,292.3 507.8,291.7 507.0,293.0 C506.2,294.3 505.0,298.0 505.0,298.0 C505.0,298.0 506.2,294.3 507.0,293.0 C507.8,291.7 505.3,292.3 510.0,290.0 C514.7,287.7 528.7,280.2 535.0,279.0 C541.3,277.8 544.5,281.2 548.0,283.0 C551.5,284.8 555.3,287.2 556.0,290.0 C556.7,292.8 553.7,297.3 552.0,300.0 C550.3,302.7 547.8,304.5 546.0,306.0 C544.2,307.5 544.5,307.5 541.0,309.0 C537.5,310.5 529.5,313.7 525.0,315.0 C520.5,316.3 514.0,317.0 514.0,317.0 C514.0,317.0 520.2,316.5 525.0,315.0 C529.8,313.5 538.5,310.5 543.0,308.0 C547.5,305.5 550.0,302.5 552.0,300.0 C554.0,297.5 554.0,294.7 555.0,293.0 C556.0,291.3 557.0,290.3 558.0,290.0 C559.0,289.7 559.7,291.0 561.0,291.0 C562.3,291.0 561.2,290.2 566.0,290.0 C570.8,289.8 585.7,289.8 590.0,290.0 C594.3,290.2 590.8,289.8 592.0,291.0 C593.2,292.2 595.5,293.0 597.0,297.0 C598.5,301.0 601.0,311.5 601.0,315.0 C601.0,318.5 599.3,317.5 597.0,318.0 C594.7,318.5 591.0,317.5 587.0,318.0 C583.0,318.5 576.3,320.0 573.0,321.0 C569.7,322.0 570.5,321.7 567.0,324.0 C563.5,326.3 558.2,331.7 552.0,335.0 C545.8,338.3 535.5,342.3 530.0,344.0 C524.5,345.7 522.5,345.2 519.0,345.0 C515.5,344.8 511.3,344.7 509.0,343.0 C506.7,341.3 505.0,335.0 505.0,335.0 C505.0,335.0 506.7,341.3 509.0,343.0 C511.3,344.7 515.5,344.8 519.0,345.0 C522.5,345.2 524.5,345.7 530.0,344.0 C535.5,342.3 546.3,338.0 552.0,335.0 C557.7,332.0 560.5,328.3 564.0,326.0 C567.5,323.7 569.2,322.3 573.0,321.0 C576.8,319.7 583.0,318.5 587.0,318.0 C591.0,317.5 594.8,318.3 597.0,318.0 C599.2,317.7 599.0,316.3 600.0,316.0 C601.0,315.7 600.2,313.8 603.0,316.0 C605.8,318.2 613.5,326.2 617.0,329.0 C620.5,331.8 622.5,332.3 624.0,333.0 C625.5,333.7 626.0,333.0 626.0,333.0 C626.0,333.0 625.5,333.7 624.0,333.0 C622.5,332.3 620.8,332.0 617.0,329.0 C613.2,326.0 604.3,320.3 601.0,315.0 C597.7,309.7 598.5,301.0 597.0,297.0 C595.5,293.0 593.2,292.2 592.0,291.0 C590.8,289.8 594.3,290.2 590.0,290.0 C585.7,289.8 570.2,289.8 566.0,290.0 C561.8,290.2 566.3,291.0 565.0,291.0 C563.7,291.0 559.3,290.0 558.0,290.0 C556.7,290.0 558.7,292.2 557.0,291.0 C555.3,289.8 551.5,284.8 548.0,283.0 C544.5,281.2 538.0,280.5 536.0,280.0M638.0,267.0 C636.8,267.5 632.7,269.5 631.0,270.0 C629.3,270.5 629.3,269.5 628.0,270.0 C626.7,270.5 624.5,271.7 623.0,273.0 C621.5,274.3 619.7,276.5 619.0,278.0 C618.3,279.5 618.7,280.0 619.0,282.0 C619.3,284.0 620.2,287.8 621.0,290.0 C621.8,292.2 621.0,291.8 624.0,295.0 C627.0,298.2 635.5,305.2 639.0,309.0 C642.5,312.8 644.0,316.2 645.0,318.0 C646.0,319.8 643.8,318.7 645.0,320.0 C646.2,321.3 646.7,323.8 652.0,326.0 C657.3,328.2 670.2,331.3 677.0,333.0 C683.8,334.7 688.3,335.5 693.0,336.0 C697.7,336.5 702.8,335.8 705.0,336.0 C707.2,336.2 704.2,337.2 706.0,337.0 C707.8,336.8 712.0,336.5 716.0,335.0 C720.0,333.5 725.8,329.3 730.0,328.0 C734.2,326.7 738.2,326.8 741.0,327.0 C743.8,327.2 745.7,328.3 747.0,329.0 C748.3,329.7 747.3,330.0 749.0,331.0 C750.7,332.0 754.8,334.2 757.0,335.0 C759.2,335.8 760.8,335.5 762.0,336.0 C763.2,336.5 763.5,335.3 764.0,338.0 C764.5,340.7 764.2,347.7 765.0,352.0 C765.8,356.3 765.3,356.2 769.0,364.0 C772.7,371.8 783.5,392.7 787.0,399.0 C790.5,405.3 788.7,401.2 790.0,402.0 C791.3,402.8 793.5,403.8 795.0,404.0 C796.5,404.2 792.3,403.2 799.0,403.0 C805.7,402.8 826.5,402.5 835.0,403.0 C843.5,403.5 846.3,405.0 850.0,406.0 C853.7,407.0 854.7,407.7 857.0,409.0 C859.3,410.3 859.3,410.0 864.0,414.0 C868.7,418.0 879.3,428.8 885.0,433.0 C890.7,437.2 898.0,439.0 898.0,439.0 C898.0,439.0 890.7,437.2 885.0,433.0 C879.3,428.8 868.7,418.0 864.0,414.0 C859.3,410.0 859.3,410.3 857.0,409.0 C854.7,407.7 853.7,407.0 850.0,406.0 C846.3,405.0 843.5,403.5 835.0,403.0 C826.5,402.5 805.7,402.8 799.0,403.0 C792.3,403.2 796.5,404.2 795.0,404.0 C793.5,403.8 791.3,402.8 790.0,402.0 C788.7,401.2 790.5,405.3 787.0,399.0 C783.5,392.7 772.7,371.8 769.0,364.0 C765.3,356.2 765.8,356.5 765.0,352.0 C764.2,347.5 762.2,340.7 764.0,337.0 C765.8,333.3 772.8,332.3 776.0,330.0 C779.2,327.7 780.5,326.3 783.0,323.0 C785.5,319.7 788.8,312.8 791.0,310.0 C793.2,307.2 793.2,306.5 796.0,306.0 C798.8,305.5 802.0,305.0 808.0,307.0 C814.0,309.0 826.7,315.8 832.0,318.0 C837.3,320.2 835.0,319.3 840.0,320.0 C845.0,320.7 855.7,320.7 862.0,322.0 C868.3,323.3 874.7,327.0 878.0,328.0 C881.3,329.0 880.5,327.7 882.0,328.0 C883.5,328.3 884.5,329.8 887.0,330.0 C889.5,330.2 895.2,329.3 897.0,329.0 C898.8,328.7 896.3,328.2 898.0,328.0 C899.7,327.8 905.3,328.2 907.0,328.0 C908.7,327.8 900.2,327.2 908.0,327.0 C915.8,326.8 944.2,326.3 954.0,327.0 C963.8,327.7 963.3,329.0 967.0,331.0 C970.7,333.0 974.0,336.5 976.0,339.0 C978.0,341.5 979.0,346.0 979.0,346.0 C979.0,346.0 978.0,341.5 976.0,339.0 C974.0,336.5 970.7,333.0 967.0,331.0 C963.3,329.0 963.8,327.7 954.0,327.0 C944.2,326.3 915.8,326.8 908.0,327.0 C900.2,327.2 908.7,327.8 907.0,328.0 C905.3,328.2 899.7,327.8 898.0,328.0 C896.3,328.2 898.8,328.7 897.0,329.0 C895.2,329.3 889.5,330.2 887.0,330.0 C884.5,329.8 883.5,328.3 882.0,328.0 C880.5,327.7 881.3,329.0 878.0,328.0 C874.7,327.0 868.3,323.3 862.0,322.0 C855.7,320.7 845.0,320.7 840.0,320.0 C835.0,319.3 836.8,320.0 832.0,318.0 C827.2,316.0 815.7,310.0 811.0,308.0 C806.3,306.0 806.5,306.3 804.0,306.0 C801.5,305.7 798.2,305.3 796.0,306.0 C793.8,306.7 793.2,307.2 791.0,310.0 C788.8,312.8 785.5,319.7 783.0,323.0 C780.5,326.3 779.2,327.7 776.0,330.0 C772.8,332.3 767.2,336.2 764.0,337.0 C760.8,337.8 759.8,336.3 757.0,335.0 C754.2,333.7 749.7,330.3 747.0,329.0 C744.3,327.7 743.8,327.2 741.0,327.0 C738.2,326.8 735.2,326.3 730.0,328.0 C724.8,329.7 717.2,335.8 710.0,337.0 C702.8,338.2 696.3,336.7 687.0,335.0 C677.7,333.3 661.0,329.5 654.0,327.0 C647.0,324.5 646.5,321.5 645.0,320.0 C643.5,318.5 646.0,319.8 645.0,318.0 C644.0,316.2 642.5,312.8 639.0,309.0 C635.5,305.2 627.0,298.2 624.0,295.0 C621.0,291.8 621.8,292.8 621.0,290.0 C620.2,287.2 618.7,280.8 619.0,278.0 C619.3,275.2 621.5,274.3 623.0,273.0 C624.5,271.7 625.2,271.0 628.0,270.0 C630.8,269.0 637.3,266.8 640.0,267.0 C642.7,267.2 641.7,267.8 644.0,271.0 C646.3,274.2 650.0,281.2 654.0,286.0 C658.0,290.8 663.7,296.8 668.0,300.0 C672.3,303.2 676.5,303.8 680.0,305.0 C683.5,306.2 684.2,306.7 689.0,307.0 C693.8,307.3 701.3,308.7 709.0,307.0 C716.7,305.3 729.5,298.7 735.0,297.0 C740.5,295.3 739.2,296.7 742.0,297.0 C744.8,297.3 748.3,297.7 752.0,299.0 C755.7,300.3 764.0,305.0 764.0,305.0 C764.0,305.0 755.7,300.3 752.0,299.0 C748.3,297.7 745.5,297.2 742.0,297.0 C738.5,296.8 736.5,296.3 731.0,298.0 C725.5,299.7 716.0,305.5 709.0,307.0 C702.0,308.5 693.8,307.3 689.0,307.0 C684.2,306.7 683.5,306.2 680.0,305.0 C676.5,303.8 672.3,303.2 668.0,300.0 C663.7,296.8 658.0,290.8 654.0,286.0 C650.0,281.2 646.5,274.2 644.0,271.0 C641.5,267.8 639.8,267.7 639.0,267.0M639.0,198.0 C638.0,199.0 634.2,202.2 633.0,204.0 C631.8,205.8 632.0,208.0 632.0,209.0 C632.0,210.0 632.8,208.3 633.0,210.0 C633.2,211.7 632.8,217.3 633.0,219.0 C633.2,220.7 633.8,217.7 634.0,220.0 C634.2,222.3 634.5,230.0 634.0,233.0 C633.5,236.0 632.7,236.3 631.0,238.0 C629.3,239.7 627.2,241.3 624.0,243.0 C620.8,244.7 616.0,245.7 612.0,248.0 C608.0,250.3 603.5,254.8 600.0,257.0 C596.5,259.2 593.7,260.3 591.0,261.0 C588.3,261.7 585.3,260.8 584.0,261.0 C582.7,261.2 586.2,262.0 583.0,262.0 C579.8,262.0 572.8,263.0 565.0,261.0 C557.2,259.0 542.2,252.0 536.0,250.0 C529.8,248.0 529.7,249.5 528.0,249.0 C526.3,248.5 527.0,250.0 526.0,247.0 C525.0,244.0 523.8,236.2 522.0,231.0 C520.2,225.8 516.0,219.3 515.0,216.0 C514.0,212.7 516.0,211.0 516.0,211.0 C516.0,211.0 514.0,212.7 515.0,216.0 C516.0,219.3 520.2,225.7 522.0,231.0 C523.8,236.3 526.0,244.5 526.0,248.0 C526.0,251.5 524.8,250.0 522.0,252.0 C519.2,254.0 511.8,257.3 509.0,260.0 C506.2,262.7 505.0,268.0 505.0,268.0 C505.0,268.0 506.2,262.7 509.0,260.0 C511.8,257.3 519.2,254.0 522.0,252.0 C524.8,250.0 523.7,248.3 526.0,248.0 C528.3,247.7 529.5,247.8 536.0,250.0 C542.5,252.2 557.2,259.0 565.0,261.0 C572.8,263.0 579.8,262.0 583.0,262.0 C586.2,262.0 582.2,261.3 584.0,261.0 C585.8,260.7 591.3,260.7 594.0,260.0 C596.7,259.3 597.0,259.0 600.0,257.0 C603.0,255.0 608.0,250.3 612.0,248.0 C616.0,245.7 620.8,244.7 624.0,243.0 C627.2,241.3 629.3,239.7 631.0,238.0 C632.7,236.3 633.5,236.0 634.0,233.0 C634.5,230.0 634.2,222.3 634.0,220.0 C633.8,217.7 633.2,220.7 633.0,219.0 C632.8,217.3 633.2,211.7 633.0,210.0 C632.8,208.3 631.8,210.3 632.0,209.0 C632.2,207.7 632.8,203.8 634.0,202.0 C635.2,200.2 635.3,198.7 639.0,198.0 C642.7,197.3 652.5,197.3 656.0,198.0 C659.5,198.7 658.8,200.0 660.0,202.0 C661.2,204.0 662.8,202.7 663.0,210.0 C663.2,217.3 659.5,237.0 661.0,246.0 C662.5,255.0 668.3,259.2 672.0,264.0 C675.7,268.8 680.5,272.8 683.0,275.0 C685.5,277.2 684.7,276.3 687.0,277.0 C689.3,277.7 693.8,278.8 697.0,279.0 C700.2,279.2 700.2,280.0 706.0,278.0 C711.8,276.0 725.8,268.8 732.0,267.0 C738.2,265.2 739.7,266.7 743.0,267.0 C746.3,267.3 746.2,267.0 752.0,269.0 C757.8,271.0 773.0,277.3 778.0,279.0 C783.0,280.7 780.7,278.5 782.0,279.0 C783.3,279.5 785.5,281.7 786.0,282.0 C786.5,282.3 785.0,281.5 785.0,281.0 C785.0,280.5 783.7,280.0 786.0,279.0 C788.3,278.0 795.2,275.8 799.0,275.0 C802.8,274.2 806.5,273.8 809.0,274.0 C811.5,274.2 811.2,274.2 814.0,276.0 C816.8,277.8 821.3,282.3 826.0,285.0 C830.7,287.7 837.5,290.3 842.0,292.0 C846.5,293.7 849.2,294.5 853.0,295.0 C856.8,295.5 858.7,294.2 865.0,295.0 C871.3,295.8 875.0,299.2 891.0,300.0 C907.0,300.8 949.2,300.2 961.0,300.0 C972.8,299.8 961.0,299.2 962.0,299.0 C963.0,298.8 965.0,299.5 967.0,299.0 C969.0,298.5 972.0,297.8 974.0,296.0 C976.0,294.2 979.0,288.0 979.0,288.0 C979.0,288.0 976.0,294.2 974.0,296.0 C972.0,297.8 969.0,298.5 967.0,299.0 C965.0,299.5 963.0,298.8 962.0,299.0 C961.0,299.2 972.8,299.8 961.0,300.0 C949.2,300.2 907.0,300.8 891.0,300.0 C875.0,299.2 871.3,295.8 865.0,295.0 C858.7,294.2 856.8,295.5 853.0,295.0 C849.2,294.5 846.5,293.7 842.0,292.0 C837.5,290.3 830.7,287.7 826.0,285.0 C821.3,282.3 816.8,277.8 814.0,276.0 C811.2,274.2 811.5,274.2 809.0,274.0 C806.5,273.8 803.3,274.0 799.0,275.0 C794.7,276.0 790.8,281.0 783.0,280.0 C775.2,279.0 758.7,271.2 752.0,269.0 C745.3,266.8 746.3,267.3 743.0,267.0 C739.7,266.7 738.2,265.2 732.0,267.0 C725.8,268.8 711.8,276.0 706.0,278.0 C700.2,280.0 700.2,279.2 697.0,279.0 C693.8,278.8 689.3,277.7 687.0,277.0 C684.7,276.3 685.5,277.2 683.0,275.0 C680.5,272.8 675.7,268.8 672.0,264.0 C668.3,259.2 662.5,255.0 661.0,246.0 C659.5,237.0 663.2,217.3 663.0,210.0 C662.8,202.7 661.2,204.0 660.0,202.0 C658.8,200.0 659.3,198.7 656.0,198.0 C652.7,197.3 642.7,198.0 640.0,198.0M540.0,196.0 C540.5,196.5 542.5,197.5 543.0,199.0 C543.5,200.5 542.8,203.8 543.0,205.0 C543.2,206.2 544.0,205.2 544.0,206.0 C544.0,206.8 542.5,207.3 543.0,210.0 C543.5,212.7 545.5,219.2 547.0,222.0 C548.5,224.8 550.2,225.7 552.0,227.0 C553.8,228.3 555.7,229.2 558.0,230.0 C560.3,230.8 563.3,231.7 566.0,232.0 C568.7,232.3 572.5,231.8 574.0,232.0 C575.5,232.2 573.3,233.0 575.0,233.0 C576.7,233.0 579.7,233.5 584.0,232.0 C588.3,230.5 597.2,226.3 601.0,224.0 C604.8,221.7 606.0,219.8 607.0,218.0 C608.0,216.2 607.0,213.0 607.0,213.0 C607.0,213.0 608.0,216.2 607.0,218.0 C606.0,219.8 604.0,222.0 601.0,224.0 C598.0,226.0 593.0,228.5 589.0,230.0 C585.0,231.5 580.8,232.7 577.0,233.0 C573.2,233.3 569.7,232.7 566.0,232.0 C562.3,231.3 558.2,230.7 555.0,229.0 C551.8,227.3 549.0,225.2 547.0,222.0 C545.0,218.8 543.5,212.3 543.0,210.0 C542.5,207.7 544.0,209.7 544.0,208.0 C544.0,206.3 542.3,202.0 543.0,200.0 C543.7,198.0 547.8,196.2 548.0,196.0 C548.2,195.8 545.2,198.8 544.0,199.0 C542.8,199.2 541.5,197.3 541.0,197.0M922.0,195.0 C923.8,195.2 931.0,195.7 933.0,196.0 C935.0,196.3 932.7,197.2 934.0,197.0 C935.3,196.8 940.8,195.0 941.0,195.0 C941.2,195.0 938.0,197.0 935.0,197.0 C932.0,197.0 925.0,195.3 923.0,195.0M884.0,195.0 C885.8,195.5 890.3,194.7 895.0,198.0 C899.7,201.3 907.0,211.5 912.0,215.0 C917.0,218.5 920.5,218.3 925.0,219.0 C929.5,219.7 933.8,220.0 939.0,219.0 C944.2,218.0 951.8,215.2 956.0,213.0 C960.2,210.8 962.5,208.2 964.0,206.0 C965.5,203.8 964.5,201.5 965.0,200.0 C965.5,198.5 967.0,197.0 967.0,197.0 C967.0,197.0 965.5,198.5 965.0,200.0 C964.5,201.5 965.5,203.8 964.0,206.0 C962.5,208.2 960.2,210.8 956.0,213.0 C951.8,215.2 944.2,218.0 939.0,219.0 C933.8,220.0 929.5,219.7 925.0,219.0 C920.5,218.3 917.0,218.5 912.0,215.0 C907.0,211.5 899.5,201.3 895.0,198.0 C890.5,194.7 886.7,195.5 885.0,195.0M782.0,195.0 C782.2,195.0 782.8,195.0 783.0,195.0M711.0,195.0 C711.7,195.3 713.8,196.2 715.0,197.0 C716.2,197.8 717.5,199.2 718.0,200.0 C718.5,200.8 716.8,200.7 718.0,202.0 C719.2,203.3 719.5,206.8 725.0,208.0 C730.5,209.2 744.7,208.3 751.0,209.0 C757.3,209.7 758.3,210.5 763.0,212.0 C767.7,213.5 775.5,217.0 779.0,218.0 C782.5,219.0 783.0,217.8 784.0,218.0 C785.0,218.2 783.2,219.0 785.0,219.0 C786.8,219.0 790.2,218.8 795.0,218.0 C799.8,217.2 809.5,214.7 814.0,214.0 C818.5,213.3 820.0,213.7 822.0,214.0 C824.0,214.3 824.8,215.7 826.0,216.0 C827.2,216.3 827.3,215.3 829.0,216.0 C830.7,216.7 831.2,216.2 836.0,220.0 C840.8,223.8 852.7,235.2 858.0,239.0 C863.3,242.8 864.3,242.7 868.0,243.0 C871.7,243.3 877.0,241.8 880.0,241.0 C883.0,240.2 884.2,238.5 886.0,238.0 C887.8,237.5 885.3,236.7 891.0,238.0 C896.7,239.3 911.2,244.7 920.0,246.0 C928.8,247.3 937.0,246.8 944.0,246.0 C951.0,245.2 958.0,242.3 962.0,241.0 C966.0,239.7 966.5,239.0 968.0,238.0 C969.5,237.0 971.0,235.0 971.0,235.0 C971.0,235.0 969.5,237.0 968.0,238.0 C966.5,239.0 966.0,239.7 962.0,241.0 C958.0,242.3 951.0,245.2 944.0,246.0 C937.0,246.8 929.3,247.3 920.0,246.0 C910.7,244.7 893.7,239.7 888.0,238.0 C882.3,236.3 886.8,238.3 886.0,236.0 C885.2,233.7 884.7,227.3 883.0,224.0 C881.3,220.7 878.5,218.2 876.0,216.0 C873.5,213.8 871.7,214.0 868.0,211.0 C864.3,208.0 859.0,200.7 854.0,198.0 C849.0,195.3 838.0,195.0 838.0,195.0 C838.0,195.0 849.0,195.3 854.0,198.0 C859.0,200.7 864.3,208.0 868.0,211.0 C871.7,214.0 873.5,213.8 876.0,216.0 C878.5,218.2 881.7,221.7 883.0,224.0 C884.3,226.3 883.3,227.8 884.0,230.0 C884.7,232.2 887.7,235.2 887.0,237.0 C886.3,238.8 883.2,240.0 880.0,241.0 C876.8,242.0 871.7,243.3 868.0,243.0 C864.3,242.7 863.3,242.8 858.0,239.0 C852.7,235.2 840.8,223.8 836.0,220.0 C831.2,216.2 830.7,216.7 829.0,216.0 C827.3,215.3 827.2,216.3 826.0,216.0 C824.8,215.7 824.0,214.3 822.0,214.0 C820.0,213.7 818.5,213.3 814.0,214.0 C809.5,214.7 799.5,217.3 795.0,218.0 C790.5,218.7 788.5,217.8 787.0,218.0 C785.5,218.2 787.3,219.0 786.0,219.0 C784.7,219.0 782.8,219.2 779.0,218.0 C775.2,216.8 767.7,213.5 763.0,212.0 C758.3,210.5 757.3,209.7 751.0,209.0 C744.7,208.3 730.5,209.2 725.0,208.0 C719.5,206.8 719.2,203.3 718.0,202.0 C716.8,200.7 718.5,200.8 718.0,200.0 C717.5,199.2 716.0,197.7 715.0,197.0 C714.0,196.3 712.5,196.2 712.0,196.0M681.0,195.0 C682.3,196.0 687.0,197.5 689.0,201.0 C691.0,204.5 693.0,211.0 693.0,216.0 C693.0,221.0 689.7,227.2 689.0,231.0 C688.3,234.8 688.2,236.3 689.0,239.0 C689.8,241.7 692.2,245.3 694.0,247.0 C695.8,248.7 696.8,249.3 700.0,249.0 C703.2,248.7 709.3,247.0 713.0,245.0 C716.7,243.0 717.0,238.3 722.0,237.0 C727.0,235.7 737.5,236.5 743.0,237.0 C748.5,237.5 750.5,238.5 755.0,240.0 C759.5,241.5 765.3,244.5 770.0,246.0 C774.7,247.5 779.3,248.7 783.0,249.0 C786.7,249.3 789.2,248.7 792.0,248.0 C794.8,247.3 796.0,245.7 800.0,245.0 C804.0,244.3 812.0,243.7 816.0,244.0 C820.0,244.3 819.7,244.0 824.0,247.0 C828.3,250.0 836.0,258.3 842.0,262.0 C848.0,265.7 851.3,267.8 860.0,269.0 C868.7,270.2 886.5,268.5 894.0,269.0 C901.5,269.5 900.8,271.5 905.0,272.0 C909.2,272.5 916.5,271.8 919.0,272.0 C921.5,272.2 915.0,272.8 920.0,273.0 C925.0,273.2 944.0,273.2 949.0,273.0 C954.0,272.8 948.2,272.3 950.0,272.0 C951.8,271.7 957.8,271.5 960.0,271.0 C962.2,270.5 960.7,269.8 963.0,269.0 C965.3,268.2 971.3,268.0 974.0,266.0 C976.7,264.0 979.0,257.0 979.0,257.0 C979.0,257.0 976.7,264.0 974.0,266.0 C971.3,268.0 965.3,268.2 963.0,269.0 C960.7,269.8 962.2,270.5 960.0,271.0 C957.8,271.5 951.8,271.7 950.0,272.0 C948.2,272.3 954.0,272.8 949.0,273.0 C944.0,273.2 925.0,273.2 920.0,273.0 C915.0,272.8 921.5,272.2 919.0,272.0 C916.5,271.8 909.2,272.5 905.0,272.0 C900.8,271.5 901.5,269.5 894.0,269.0 C886.5,268.5 868.7,270.2 860.0,269.0 C851.3,267.8 848.0,265.7 842.0,262.0 C836.0,258.3 828.3,250.0 824.0,247.0 C819.7,244.0 820.0,244.3 816.0,244.0 C812.0,243.7 804.0,244.3 800.0,245.0 C796.0,245.7 794.8,247.3 792.0,248.0 C789.2,248.7 786.7,249.3 783.0,249.0 C779.3,248.7 772.7,246.8 770.0,246.0 C767.3,245.2 771.5,245.5 767.0,244.0 C762.5,242.5 750.5,238.2 743.0,237.0 C735.5,235.8 727.0,235.7 722.0,237.0 C717.0,238.3 716.7,243.0 713.0,245.0 C709.3,247.0 703.2,248.7 700.0,249.0 C696.8,249.3 695.8,248.7 694.0,247.0 C692.2,245.3 689.8,241.7 689.0,239.0 C688.2,236.3 688.3,234.8 689.0,231.0 C689.7,227.2 693.0,221.0 693.0,216.0 C693.0,211.0 690.3,204.2 689.0,201.0 C687.7,197.8 686.2,197.8 685.0,197.0 C683.8,196.2 682.5,196.2 682.0,196.0M610.0,195.0 C609.2,195.5 609.8,197.3 605.0,198.0 C600.2,198.7 586.3,198.0 581.0,199.0 C575.7,200.0 573.0,204.0 573.0,204.0 C573.0,204.0 575.7,200.0 581.0,199.0 C586.3,198.0 600.0,198.7 605.0,198.0 C610.0,197.3 610.0,195.5 611.0,195.0" fill="none" stroke="#c86a6a" stroke-width="1.5" stroke-linejoin="round"/></g></g>
<path d="M523.0,362.0 C518.7,353.2 516.5,341.3 517.0,332.0 C517.5,322.7 521.3,315.2 526.0,306.0 C530.7,296.8 538.5,284.2 545.0,277.0 C551.5,269.8 557.2,267.8 565.0,263.0 C572.8,258.2 582.5,252.7 592.0,248.0 C601.5,243.3 613.2,238.5 622.0,235.0 C630.8,231.5 635.3,230.2 645.0,227.0 C654.7,223.8 670.5,218.7 680.0,216.0 C689.5,213.3 688.2,212.5 702.0,211.0 C715.8,209.5 746.7,206.7 763.0,207.0 C779.3,207.3 786.8,210.2 800.0,213.0 C813.2,215.8 827.3,219.0 842.0,224.0 C856.7,229.0 874.7,235.7 888.0,243.0 C901.3,250.3 912.3,259.8 922.0,268.0 C931.7,276.2 939.7,283.3 946.0,292.0 C952.3,300.7 955.7,310.3 960.0,320.0 C964.3,329.7 969.5,339.7 972.0,350.0 C974.5,360.3 976.3,372.0 975.0,382.0 C973.7,392.0 969.0,403.0 964.0,410.0 C959.0,417.0 952.2,420.7 945.0,424.0 C937.8,427.3 933.5,429.0 921.0,430.0 C908.5,431.0 886.8,430.0 870.0,430.0 C853.2,430.0 834.3,429.7 820.0,430.0 C805.7,430.3 793.0,431.3 784.0,432.0 C775.0,432.7 771.3,433.3 766.0,434.0 C760.7,434.7 758.3,435.5 752.0,436.0 C745.7,436.5 737.3,436.8 728.0,437.0 C718.7,437.2 706.2,438.0 696.0,437.0 C685.8,436.0 675.5,433.7 667.0,431.0 C658.5,428.3 650.7,425.3 645.0,421.0 C639.3,416.7 635.8,409.8 633.0,405.0 C630.2,400.2 631.0,393.5 628.0,392.0 C625.0,390.5 619.7,395.0 615.0,396.0 C610.3,397.0 605.2,397.5 600.0,398.0 C594.8,398.5 589.8,399.3 584.0,399.0 C578.2,398.7 571.8,398.3 565.0,396.0 C558.2,393.7 550.0,390.7 543.0,385.0 C536.0,379.3 527.3,370.8 523.0,362.0Z" fill="none" stroke="#c6a57c" stroke-width="1.3"/>
<path d="M705.0,372.0 C708.2,367.2 716.7,364.7 725.0,363.0 C733.3,361.3 745.0,361.5 755.0,362.0 C765.0,362.5 777.5,363.3 785.0,366.0 C792.5,368.7 797.8,373.2 800.0,378.0 C802.2,382.8 801.3,390.5 798.0,395.0 C794.7,399.5 788.0,402.8 780.0,405.0 C772.0,407.2 760.0,408.2 750.0,408.0 C740.0,407.8 727.3,406.7 720.0,404.0 C712.7,401.3 708.5,397.3 706.0,392.0 C703.5,386.7 701.8,376.8 705.0,372.0Z" fill="#f4e08e" opacity="0.78" filter="url(#blur15)"/>
<path d="M722.0,437.0 C715.7,437.3 735.0,432.5 740.0,434.0 C745.0,435.5 748.0,440.7 752.0,446.0 C756.0,451.3 759.0,459.7 764.0,466.0 C769.0,472.3 776.0,477.5 782.0,484.0 C788.0,490.5 795.0,500.0 800.0,505.0 C805.0,510.0 807.7,512.3 812.0,514.0 C816.3,515.7 821.3,516.2 826.0,515.0 C830.7,513.8 838.0,510.5 840.0,507.0 C842.0,503.5 840.3,498.2 838.0,494.0 C835.7,489.8 830.3,485.0 826.0,482.0 C821.7,479.0 817.2,478.7 812.0,476.0 C806.8,473.3 799.7,470.3 795.0,466.0 C790.3,461.7 786.8,455.7 784.0,450.0 C781.2,444.3 788.3,434.2 778.0,432.0 C767.7,429.8 728.3,436.7 722.0,437.0Z" fill="#ecd2a8" stroke="#cfb38a" stroke-width="1"/>
<clipPath id="cerclip"><path d="M767.5,429.4 C770.7,426.6 781.9,425.0 790.0,424.0 C798.1,423.0 802.7,423.8 816.0,423.5 C829.3,423.2 854.3,422.1 870.0,422.0 C885.7,421.9 900.8,422.4 910.0,423.0 C919.2,423.6 922.2,423.6 925.0,425.6 C927.8,427.6 927.5,431.4 927.0,435.0 C926.5,438.6 924.2,443.2 922.0,447.0 C919.8,450.8 918.9,453.2 913.8,457.5 C908.6,461.8 899.1,468.8 891.0,472.5 C882.9,476.2 873.1,478.4 865.0,480.0 C856.9,481.6 850.7,482.5 842.5,481.9 C834.3,481.3 823.5,478.8 816.0,476.2 C808.5,473.8 803.1,470.6 797.5,466.9 C791.9,463.1 786.9,458.1 782.5,453.8 C778.1,449.4 773.5,444.7 771.0,440.6 C768.5,436.5 764.3,432.2 767.5,429.4Z"/></clipPath>
<path d="M767.5,429.4 C770.7,426.6 781.9,425.0 790.0,424.0 C798.1,423.0 802.7,423.8 816.0,423.5 C829.3,423.2 854.3,422.1 870.0,422.0 C885.7,421.9 900.8,422.4 910.0,423.0 C919.2,423.6 922.2,423.6 925.0,425.6 C927.8,427.6 927.5,431.4 927.0,435.0 C926.5,438.6 924.2,443.2 922.0,447.0 C919.8,450.8 918.9,453.2 913.8,457.5 C908.6,461.8 899.1,468.8 891.0,472.5 C882.9,476.2 873.1,478.4 865.0,480.0 C856.9,481.6 850.7,482.5 842.5,481.9 C834.3,481.3 823.5,478.8 816.0,476.2 C808.5,473.8 803.1,470.6 797.5,466.9 C791.9,463.1 786.9,458.1 782.5,453.8 C778.1,449.4 773.5,444.7 771.0,440.6 C768.5,436.5 764.3,432.2 767.5,429.4Z" fill="#afc5b9"/>
<g clip-path="url(#cerclip)"><path d="M770.0,440.3 L771.7,442.1 L774.0,444.6 L776.7,447.5 L779.6,450.4 L782.5,453.1 L785.3,455.4 L788.2,457.7 L791.2,459.9 L794.4,462.0 L797.7,464.0 L801.1,465.9 L804.5,467.8 L808.1,469.6 L812.0,471.3 L816.3,472.8 L821.2,474.1 L826.6,475.4 L832.3,476.4 L837.8,477.3 L843.0,477.8 L847.7,477.9 L852.1,477.8 L856.4,477.3 L860.8,476.7 L865.4,475.9 L870.3,474.9 L875.5,473.8 L880.8,472.5 L886.0,470.9 L890.9,469.0 L895.9,466.6 L900.8,463.7 L905.6,460.7 L909.9,457.7 L913.5,455.1 L916.1,452.9 L918.1,451.0 L919.5,449.2 L920.7,447.4 L922.0,445.4 L923.3,443.2 L924.5,440.6 L925.5,438.1 L926.4,436.0 L927.0,434.5" fill="none" stroke="#8ea89c" stroke-width="1.3"/><path d="M770.0,438.5 L771.7,440.3 L774.0,442.8 L776.7,445.7 L779.6,448.6 L782.5,451.3 L785.3,453.6 L788.2,455.9 L791.2,458.1 L794.4,460.2 L797.7,462.2 L801.1,464.1 L804.5,466.0 L808.1,467.8 L812.0,469.5 L816.3,470.9 L821.2,472.3 L826.6,473.6 L832.3,474.6 L837.8,475.5 L843.0,476.0 L847.7,476.1 L852.1,476.0 L856.4,475.5 L860.8,474.9 L865.4,474.1 L870.3,473.1 L875.5,472.0 L880.8,470.7 L886.0,469.1 L890.9,467.2 L895.9,464.8 L900.8,461.9 L905.6,458.9 L909.9,455.9 L913.5,453.3 L916.1,451.1 L918.1,449.2 L919.5,447.4 L920.7,445.6 L922.0,443.6 L923.3,441.4 L924.5,438.8 L925.5,436.3 L926.4,434.2 L927.0,432.7" fill="none" stroke="#d6e4dd" stroke-width="1.3" opacity="0.85"/><path d="M770.0,439.6 L771.6,441.2 L773.9,443.4 L776.6,446.1 L779.6,448.8 L782.4,451.1 L785.3,453.3 L788.2,455.3 L791.3,457.3 L794.5,459.2 L797.9,461.0 L801.3,462.8 L804.7,464.5 L808.3,466.1 L812.2,467.6 L816.6,469.0 L821.5,470.2 L827.0,471.4 L832.7,472.4 L838.3,473.1 L843.6,473.6 L848.3,473.7 L852.6,473.5 L856.9,473.1 L861.2,472.5 L865.7,471.8 L870.6,470.9 L875.7,469.9 L880.9,468.7 L886.0,467.2 L890.9,465.4 L895.7,463.2 L900.7,460.6 L905.4,457.8 L909.7,455.0 L913.2,452.6 L915.9,450.6 L917.9,448.9 L919.4,447.3 L920.7,445.6 L922.0,443.9 L923.3,441.8 L924.5,439.5 L925.5,437.3 L926.4,435.4 L927.0,434.0" fill="none" stroke="#8ea89c" stroke-width="1.3"/><path d="M770.0,437.8 L771.6,439.4 L773.9,441.6 L776.6,444.3 L779.6,447.0 L782.4,449.3 L785.3,451.5 L788.2,453.5 L791.3,455.5 L794.5,457.4 L797.9,459.2 L801.3,461.0 L804.7,462.7 L808.3,464.3 L812.2,465.8 L816.6,467.2 L821.5,468.4 L827.0,469.6 L832.7,470.6 L838.3,471.3 L843.6,471.8 L848.3,471.9 L852.6,471.7 L856.9,471.3 L861.2,470.7 L865.7,470.0 L870.6,469.1 L875.7,468.1 L880.9,466.9 L886.0,465.4 L890.9,463.6 L895.7,461.4 L900.7,458.8 L905.4,456.0 L909.7,453.2 L913.2,450.8 L915.9,448.8 L917.9,447.1 L919.4,445.5 L920.7,443.8 L922.0,442.1 L923.3,440.0 L924.5,437.7 L925.5,435.5 L926.4,433.6 L927.0,432.2" fill="none" stroke="#d6e4dd" stroke-width="1.3" opacity="0.85"/><path d="M770.0,438.9 L771.6,440.3 L773.9,442.3 L776.6,444.7 L779.5,447.1 L782.4,449.2 L785.3,451.1 L788.3,452.9 L791.4,454.7 L794.7,456.4 L798.0,458.0 L801.5,459.6 L804.9,461.2 L808.6,462.6 L812.5,464.0 L816.9,465.2 L821.9,466.4 L827.4,467.4 L833.2,468.3 L838.9,469.0 L844.1,469.4 L848.8,469.5 L853.1,469.3 L857.3,468.9 L861.6,468.4 L866.1,467.7 L870.9,466.9 L875.9,465.9 L881.0,464.8 L886.0,463.5 L890.8,461.9 L895.6,459.9 L900.5,457.5 L905.1,454.9 L909.4,452.4 L912.9,450.2 L915.7,448.4 L917.7,446.8 L919.3,445.3 L920.7,443.9 L922.0,442.3 L923.3,440.4 L924.5,438.4 L925.6,436.4 L926.4,434.7 L927.0,433.5" fill="none" stroke="#ad9a80" stroke-width="1.3"/><path d="M770.0,437.1 L771.6,438.5 L773.9,440.5 L776.6,442.9 L779.5,445.3 L782.4,447.4 L785.3,449.3 L788.3,451.1 L791.4,452.9 L794.7,454.6 L798.0,456.2 L801.5,457.8 L804.9,459.4 L808.6,460.8 L812.5,462.2 L816.9,463.4 L821.9,464.6 L827.4,465.6 L833.2,466.5 L838.9,467.2 L844.1,467.6 L848.8,467.7 L853.1,467.5 L857.3,467.1 L861.6,466.6 L866.1,465.9 L870.9,465.1 L875.9,464.1 L881.0,463.0 L886.0,461.7 L890.8,460.1 L895.6,458.1 L900.5,455.7 L905.1,453.1 L909.4,450.6 L912.9,448.4 L915.7,446.6 L917.7,445.0 L919.3,443.5 L920.7,442.1 L922.0,440.5 L923.3,438.6 L924.5,436.6 L925.6,434.6 L926.4,432.9 L927.0,431.7" fill="none" stroke="#d6e4dd" stroke-width="1.3" opacity="0.85"/><path d="M770.0,438.1 L771.6,439.4 L773.9,441.2 L776.6,443.3 L779.5,445.4 L782.4,447.3 L785.3,448.9 L788.3,450.5 L791.5,452.1 L794.8,453.6 L798.2,455.0 L801.7,456.4 L805.2,457.8 L808.8,459.2 L812.8,460.4 L817.1,461.5 L822.2,462.5 L827.8,463.4 L833.6,464.2 L839.4,464.8 L844.6,465.1 L849.3,465.2 L853.6,465.1 L857.8,464.7 L862.0,464.2 L866.4,463.6 L871.2,462.8 L876.1,462.0 L881.0,461.0 L886.0,459.8 L890.7,458.4 L895.5,456.5 L900.3,454.3 L904.9,452.0 L909.1,449.8 L912.7,447.8 L915.4,446.2 L917.5,444.7 L919.2,443.4 L920.6,442.1 L922.0,440.7 L923.4,439.1 L924.6,437.3 L925.6,435.6 L926.4,434.1 L927.0,433.0" fill="none" stroke="#8ea89c" stroke-width="1.3"/><path d="M770.0,436.3 L771.6,437.6 L773.9,439.4 L776.6,441.5 L779.5,443.6 L782.4,445.5 L785.3,447.1 L788.3,448.7 L791.5,450.3 L794.8,451.8 L798.2,453.2 L801.7,454.6 L805.2,456.0 L808.8,457.4 L812.8,458.6 L817.1,459.7 L822.2,460.7 L827.8,461.6 L833.6,462.4 L839.4,463.0 L844.6,463.3 L849.3,463.4 L853.6,463.3 L857.8,462.9 L862.0,462.4 L866.4,461.8 L871.2,461.0 L876.1,460.2 L881.0,459.2 L886.0,458.0 L890.7,456.6 L895.5,454.7 L900.3,452.5 L904.9,450.2 L909.1,448.0 L912.7,446.0 L915.4,444.4 L917.5,442.9 L919.2,441.6 L920.6,440.3 L922.0,438.9 L923.4,437.3 L924.6,435.5 L925.6,433.8 L926.4,432.3 L927.0,431.2" fill="none" stroke="#d6e4dd" stroke-width="1.3" opacity="0.85"/><path d="M770.0,437.4 L771.6,438.5 L773.9,440.1 L776.5,441.9 L779.4,443.7 L782.3,445.4 L785.2,446.8 L788.3,448.1 L791.6,449.5 L794.9,450.7 L798.4,452.0 L801.9,453.2 L805.4,454.5 L809.0,455.7 L813.0,456.8 L817.4,457.8 L822.5,458.6 L828.2,459.4 L834.1,460.1 L839.9,460.6 L845.2,460.9 L849.9,461.0 L854.2,460.8 L858.3,460.5 L862.4,460.0 L866.8,459.5 L871.4,458.8 L876.3,458.1 L881.1,457.2 L886.0,456.1 L890.6,454.8 L895.3,453.2 L900.1,451.2 L904.7,449.1 L908.9,447.1 L912.4,445.4 L915.2,443.9 L917.3,442.7 L919.1,441.5 L920.6,440.4 L922.0,439.1 L923.4,437.7 L924.6,436.2 L925.6,434.7 L926.4,433.4 L927.0,432.5" fill="none" stroke="#8ea89c" stroke-width="1.3"/><path d="M770.0,435.6 L771.6,436.7 L773.9,438.3 L776.5,440.1 L779.4,441.9 L782.3,443.6 L785.2,445.0 L788.3,446.3 L791.6,447.7 L794.9,448.9 L798.4,450.2 L801.9,451.4 L805.4,452.7 L809.0,453.9 L813.0,455.0 L817.4,455.9 L822.5,456.8 L828.2,457.6 L834.1,458.3 L839.9,458.8 L845.2,459.1 L849.9,459.2 L854.2,459.0 L858.3,458.7 L862.4,458.2 L866.8,457.7 L871.4,457.0 L876.3,456.3 L881.1,455.4 L886.0,454.3 L890.6,453.0 L895.3,451.4 L900.1,449.4 L904.7,447.3 L908.9,445.3 L912.4,443.6 L915.2,442.1 L917.3,440.9 L919.1,439.7 L920.6,438.6 L922.0,437.3 L923.4,435.9 L924.6,434.4 L925.6,432.9 L926.4,431.6 L927.0,430.7" fill="none" stroke="#d6e4dd" stroke-width="1.3" opacity="0.85"/><path d="M770.0,436.7 L771.6,437.6 L773.8,439.0 L776.5,440.5 L779.4,442.1 L782.3,443.4 L785.2,444.6 L788.4,445.8 L791.7,446.9 L795.1,447.9 L798.6,449.0 L802.1,450.1 L805.6,451.2 L809.3,452.2 L813.3,453.2 L817.7,454.0 L822.9,454.8 L828.6,455.4 L834.6,456.0 L840.4,456.5 L845.7,456.7 L850.4,456.7 L854.7,456.6 L858.7,456.3 L862.8,455.9 L867.1,455.4 L871.7,454.8 L876.5,454.1 L881.2,453.4 L886.0,452.4 L890.6,451.3 L895.2,449.8 L899.9,448.1 L904.4,446.3 L908.6,444.5 L912.1,442.9 L914.9,441.7 L917.2,440.6 L919.0,439.6 L920.5,438.6 L922.0,437.6 L923.4,436.4 L924.6,435.1 L925.6,433.8 L926.4,432.8 L927.0,432.0" fill="none" stroke="#ad9a80" stroke-width="1.3"/><path d="M770.0,434.9 L771.6,435.8 L773.8,437.2 L776.5,438.7 L779.4,440.3 L782.3,441.6 L785.2,442.8 L788.4,444.0 L791.7,445.1 L795.1,446.1 L798.6,447.2 L802.1,448.3 L805.6,449.4 L809.3,450.4 L813.3,451.4 L817.7,452.2 L822.9,453.0 L828.6,453.6 L834.6,454.2 L840.4,454.7 L845.7,454.9 L850.4,454.9 L854.7,454.8 L858.7,454.5 L862.8,454.1 L867.1,453.6 L871.7,453.0 L876.5,452.3 L881.2,451.6 L886.0,450.6 L890.6,449.5 L895.2,448.0 L899.9,446.3 L904.4,444.5 L908.6,442.7 L912.1,441.1 L914.9,439.9 L917.2,438.8 L919.0,437.8 L920.5,436.8 L922.0,435.8 L923.4,434.6 L924.6,433.3 L925.6,432.0 L926.4,431.0 L927.0,430.2" fill="none" stroke="#d6e4dd" stroke-width="1.3" opacity="0.85"/><path d="M770.0,436.0 L771.6,436.8 L773.8,437.9 L776.5,439.1 L779.3,440.4 L782.2,441.5 L785.2,442.5 L788.4,443.4 L791.7,444.3 L795.2,445.1 L798.8,446.0 L802.3,446.9 L805.8,447.8 L809.5,448.7 L813.5,449.5 L818.0,450.2 L823.2,450.9 L829.0,451.5 L835.0,451.9 L840.9,452.3 L846.2,452.5 L850.9,452.5 L855.2,452.4 L859.2,452.1 L863.2,451.7 L867.5,451.2 L872.0,450.8 L876.7,450.2 L881.3,449.5 L886.0,448.7 L890.5,447.8 L895.1,446.5 L899.7,445.0 L904.2,443.4 L908.3,441.8 L911.9,440.5 L914.7,439.4 L917.0,438.5 L918.9,437.7 L920.5,436.9 L922.0,436.0 L923.4,435.0 L924.6,434.0 L925.6,433.0 L926.4,432.1 L927.0,431.5" fill="none" stroke="#8ea89c" stroke-width="1.3"/><path d="M770.0,434.2 L771.6,435.0 L773.8,436.1 L776.5,437.3 L779.3,438.6 L782.2,439.7 L785.2,440.7 L788.4,441.6 L791.7,442.5 L795.2,443.3 L798.8,444.2 L802.3,445.1 L805.8,446.0 L809.5,446.9 L813.5,447.7 L818.0,448.4 L823.2,449.1 L829.0,449.7 L835.0,450.1 L840.9,450.5 L846.2,450.7 L850.9,450.7 L855.2,450.6 L859.2,450.3 L863.2,449.9 L867.5,449.4 L872.0,449.0 L876.7,448.4 L881.3,447.7 L886.0,446.9 L890.5,445.9 L895.1,444.7 L899.7,443.2 L904.2,441.6 L908.3,440.0 L911.9,438.7 L914.7,437.6 L917.0,436.7 L918.9,435.9 L920.5,435.1 L922.0,434.2 L923.4,433.2 L924.6,432.2 L925.6,431.2 L926.4,430.3 L927.0,429.7" fill="none" stroke="#d6e4dd" stroke-width="1.3" opacity="0.85"/><path d="M770.0,435.3 L771.6,435.9 L773.8,436.7 L776.4,437.7 L779.3,438.7 L782.2,439.6 L785.2,440.3 L788.4,441.0 L791.8,441.7 L795.3,442.3 L798.9,443.0 L802.5,443.7 L806.0,444.5 L809.8,445.2 L813.8,445.9 L818.3,446.5 L823.5,447.0 L829.4,447.5 L835.5,447.9 L841.4,448.1 L846.8,448.3 L851.5,448.3 L855.7,448.1 L859.7,447.9 L863.7,447.5 L867.9,447.1 L872.3,446.7 L876.8,446.3 L881.4,445.7 L886.0,445.0 L890.4,444.2 L894.9,443.2 L899.5,441.9 L904.0,440.5 L908.1,439.2 L911.6,438.1 L914.5,437.2 L916.8,436.4 L918.7,435.8 L920.4,435.1 L922.0,434.4 L923.4,433.7 L924.6,432.9 L925.6,432.1 L926.4,431.5 L927.0,431.0" fill="none" stroke="#8ea89c" stroke-width="1.3"/><path d="M770.0,433.5 L771.6,434.1 L773.8,434.9 L776.4,435.9 L779.3,436.9 L782.2,437.8 L785.2,438.5 L788.4,439.2 L791.8,439.9 L795.3,440.5 L798.9,441.2 L802.5,441.9 L806.0,442.7 L809.8,443.4 L813.8,444.1 L818.3,444.7 L823.5,445.2 L829.4,445.7 L835.5,446.1 L841.4,446.3 L846.8,446.5 L851.5,446.5 L855.7,446.3 L859.7,446.1 L863.7,445.7 L867.9,445.3 L872.3,444.9 L876.8,444.5 L881.4,443.9 L886.0,443.2 L890.4,442.4 L894.9,441.4 L899.5,440.1 L904.0,438.7 L908.1,437.4 L911.6,436.3 L914.5,435.4 L916.8,434.6 L918.7,434.0 L920.4,433.3 L922.0,432.6 L923.4,431.9 L924.6,431.1 L925.6,430.3 L926.4,429.7 L927.0,429.2" fill="none" stroke="#d6e4dd" stroke-width="1.3" opacity="0.85"/><path d="M770.0,434.6 L771.6,435.0 L773.8,435.6 L776.4,436.3 L779.2,437.0 L782.2,437.6 L785.2,438.2 L788.5,438.6 L791.9,439.1 L795.5,439.5 L799.1,440.0 L802.7,440.5 L806.3,441.1 L810.0,441.7 L814.0,442.3 L818.6,442.8 L823.9,443.1 L829.8,443.5 L835.9,443.8 L841.9,444.0 L847.3,444.1 L852.0,444.0 L856.2,443.9 L860.1,443.7 L864.1,443.4 L868.2,443.0 L872.6,442.7 L877.0,442.3 L881.5,441.9 L886.0,441.3 L890.4,440.7 L894.8,439.8 L899.3,438.7 L903.7,437.6 L907.8,436.5 L911.3,435.6 L914.2,434.9 L916.6,434.3 L918.6,433.8 L920.4,433.4 L922.0,432.9 L923.4,432.3 L924.6,431.8 L925.6,431.3 L926.4,430.8 L927.0,430.5" fill="none" stroke="#ad9a80" stroke-width="1.3"/><path d="M770.0,432.8 L771.6,433.2 L773.8,433.8 L776.4,434.5 L779.2,435.2 L782.2,435.8 L785.2,436.4 L788.5,436.8 L791.9,437.3 L795.5,437.7 L799.1,438.2 L802.7,438.7 L806.3,439.3 L810.0,439.9 L814.0,440.5 L818.6,440.9 L823.9,441.3 L829.8,441.7 L835.9,442.0 L841.9,442.2 L847.3,442.3 L852.0,442.2 L856.2,442.1 L860.1,441.9 L864.1,441.6 L868.2,441.2 L872.6,440.9 L877.0,440.5 L881.5,440.1 L886.0,439.5 L890.4,438.9 L894.8,438.0 L899.3,436.9 L903.7,435.8 L907.8,434.7 L911.3,433.8 L914.2,433.1 L916.6,432.5 L918.6,432.0 L920.4,431.6 L922.0,431.1 L923.4,430.5 L924.6,430.0 L925.6,429.5 L926.4,429.0 L927.0,428.7" fill="none" stroke="#d6e4dd" stroke-width="1.3" opacity="0.85"/><path d="M770.0,433.9 L771.6,434.1 L773.7,434.5 L776.3,434.9 L779.2,435.3 L782.1,435.7 L785.2,436.0 L788.5,436.2 L792.0,436.5 L795.6,436.7 L799.3,437.0 L802.9,437.4 L806.5,437.8 L810.2,438.2 L814.3,438.7 L818.9,439.0 L824.2,439.3 L830.2,439.5 L836.4,439.7 L842.4,439.8 L847.9,439.9 L852.5,439.8 L856.7,439.7 L860.6,439.4 L864.5,439.2 L868.6,438.9 L872.9,438.7 L877.2,438.4 L881.6,438.1 L886.0,437.7 L890.3,437.1 L894.7,436.5 L899.1,435.6 L903.5,434.7 L907.6,433.9 L911.1,433.2 L914.0,432.7 L916.4,432.3 L918.5,431.9 L920.4,431.6 L922.0,431.3 L923.5,431.0 L924.7,430.7 L925.6,430.4 L926.4,430.2 L927.0,430.0" fill="none" stroke="#8ea89c" stroke-width="1.3"/><path d="M770.0,432.1 L771.6,432.3 L773.7,432.7 L776.3,433.1 L779.2,433.5 L782.1,433.9 L785.2,434.2 L788.5,434.4 L792.0,434.7 L795.6,434.9 L799.3,435.2 L802.9,435.6 L806.5,436.0 L810.2,436.4 L814.3,436.9 L818.9,437.2 L824.2,437.5 L830.2,437.7 L836.4,437.9 L842.4,438.0 L847.9,438.1 L852.5,438.0 L856.7,437.9 L860.6,437.6 L864.5,437.4 L868.6,437.1 L872.9,436.9 L877.2,436.6 L881.6,436.3 L886.0,435.9 L890.3,435.3 L894.7,434.7 L899.1,433.8 L903.5,432.9 L907.6,432.1 L911.1,431.4 L914.0,430.9 L916.4,430.5 L918.5,430.1 L920.4,429.8 L922.0,429.5 L923.5,429.2 L924.7,428.9 L925.6,428.6 L926.4,428.4 L927.0,428.2" fill="none" stroke="#d6e4dd" stroke-width="1.3" opacity="0.85"/><path d="M770.0,433.1 L771.6,433.2 L773.7,433.4 L776.3,433.5 L779.2,433.7 L782.1,433.8 L785.2,433.8 L788.6,433.9 L792.1,433.9 L795.8,433.9 L799.5,434.0 L803.1,434.2 L806.7,434.5 L810.5,434.8 L814.6,435.0 L819.1,435.2 L824.5,435.4 L830.6,435.5 L836.9,435.6 L842.9,435.7 L848.4,435.6 L853.0,435.6 L857.2,435.4 L861.1,435.2 L864.9,435.0 L868.9,434.8 L873.1,434.6 L877.4,434.4 L881.7,434.2 L886.0,434.0 L890.2,433.6 L894.5,433.1 L899.0,432.5 L903.3,431.9 L907.3,431.3 L910.8,430.8 L913.7,430.4 L916.3,430.2 L918.4,430.0 L920.3,429.8 L922.0,429.7 L923.5,429.6 L924.7,429.6 L925.7,429.5 L926.4,429.5 L927.0,429.5" fill="none" stroke="#8ea89c" stroke-width="1.3"/><path d="M770.0,431.3 L771.6,431.4 L773.7,431.6 L776.3,431.7 L779.2,431.9 L782.1,432.0 L785.2,432.0 L788.6,432.1 L792.1,432.1 L795.8,432.1 L799.5,432.2 L803.1,432.4 L806.7,432.7 L810.5,433.0 L814.6,433.2 L819.1,433.4 L824.5,433.6 L830.6,433.7 L836.9,433.8 L842.9,433.9 L848.4,433.8 L853.0,433.8 L857.2,433.6 L861.1,433.4 L864.9,433.2 L868.9,433.0 L873.1,432.8 L877.4,432.6 L881.7,432.4 L886.0,432.2 L890.2,431.8 L894.5,431.3 L899.0,430.7 L903.3,430.1 L907.3,429.5 L910.8,429.0 L913.7,428.6 L916.3,428.4 L918.4,428.2 L920.3,428.0 L922.0,427.9 L923.5,427.8 L924.7,427.8 L925.7,427.7 L926.4,427.7 L927.0,427.7" fill="none" stroke="#d6e4dd" stroke-width="1.3" opacity="0.85"/><path d="M770.0,432.4 L771.6,432.4 L773.7,432.3 L776.3,432.1 L779.1,432.0 L782.1,431.9 L785.2,431.7 L788.6,431.5 L792.2,431.3 L795.9,431.1 L799.6,431.0 L803.3,431.0 L806.9,431.1 L810.7,431.3 L814.8,431.4 L819.4,431.5 L824.9,431.5 L831.0,431.5 L837.3,431.5 L843.5,431.5 L848.9,431.4 L853.6,431.3 L857.7,431.2 L861.5,431.0 L865.3,430.9 L869.3,430.7 L873.4,430.6 L877.6,430.5 L881.8,430.4 L886.0,430.3 L890.1,430.1 L894.4,429.8 L898.8,429.4 L903.0,429.0 L907.0,428.6 L910.5,428.4 L913.5,428.2 L916.1,428.1 L918.3,428.1 L920.3,428.1 L922.0,428.1 L923.5,428.3 L924.7,428.4 L925.7,428.7 L926.4,428.9 L927.0,429.0" fill="none" stroke="#ad9a80" stroke-width="1.3"/><path d="M770.0,430.6 L771.6,430.6 L773.7,430.5 L776.3,430.3 L779.1,430.2 L782.1,430.1 L785.2,429.9 L788.6,429.7 L792.2,429.5 L795.9,429.3 L799.6,429.2 L803.3,429.2 L806.9,429.3 L810.7,429.5 L814.8,429.6 L819.4,429.7 L824.9,429.7 L831.0,429.7 L837.3,429.7 L843.5,429.7 L848.9,429.6 L853.6,429.5 L857.7,429.4 L861.5,429.2 L865.3,429.1 L869.3,428.9 L873.4,428.8 L877.6,428.7 L881.8,428.6 L886.0,428.5 L890.1,428.3 L894.4,428.0 L898.8,427.6 L903.0,427.2 L907.0,426.8 L910.5,426.6 L913.5,426.4 L916.1,426.3 L918.3,426.3 L920.3,426.3 L922.0,426.3 L923.5,426.5 L924.7,426.6 L925.7,426.9 L926.4,427.1 L927.0,427.2" fill="none" stroke="#d6e4dd" stroke-width="1.3" opacity="0.85"/><path d="M770.0,431.7 L771.5,431.5 L773.7,431.1 L776.2,430.7 L779.1,430.3 L782.0,429.9 L785.2,429.5 L788.6,429.1 L792.3,428.7 L796.0,428.3 L799.8,428.0 L803.5,427.8 L807.2,427.8 L810.9,427.8 L815.1,427.8 L819.7,427.8 L825.2,427.7 L831.4,427.6 L837.8,427.4 L844.0,427.3 L849.5,427.2 L854.1,427.1 L858.2,427.0 L862.0,426.8 L865.7,426.7 L869.6,426.6 L873.7,426.6 L877.8,426.6 L881.9,426.6 L886.0,426.6 L890.1,426.5 L894.3,426.4 L898.6,426.3 L902.8,426.1 L906.8,426.0 L910.3,425.9 L913.3,426.0 L915.9,426.0 L918.2,426.2 L920.2,426.3 L922.0,426.6 L923.5,426.9 L924.7,427.3 L925.7,427.8 L926.4,428.2 L927.0,428.5" fill="none" stroke="#8ea89c" stroke-width="1.3"/><path d="M770.0,429.9 L771.5,429.7 L773.7,429.3 L776.2,428.9 L779.1,428.5 L782.0,428.1 L785.2,427.7 L788.6,427.3 L792.3,426.9 L796.0,426.5 L799.8,426.2 L803.5,426.0 L807.2,426.0 L810.9,426.0 L815.1,426.0 L819.7,425.9 L825.2,425.9 L831.4,425.8 L837.8,425.6 L844.0,425.5 L849.5,425.4 L854.1,425.3 L858.2,425.2 L862.0,425.0 L865.7,424.9 L869.6,424.8 L873.7,424.8 L877.8,424.8 L881.9,424.8 L886.0,424.8 L890.1,424.7 L894.3,424.6 L898.6,424.5 L902.8,424.3 L906.8,424.2 L910.3,424.1 L913.3,424.2 L915.9,424.2 L918.2,424.4 L920.2,424.5 L922.0,424.8 L923.5,425.1 L924.7,425.5 L925.7,426.0 L926.4,426.4 L927.0,426.7" fill="none" stroke="#d6e4dd" stroke-width="1.3" opacity="0.85"/><path d="M771,433 C782,428 800,430 806,438 C800,446 785,447 774,443Z" fill="#c3d3ca" stroke="#a48f78" stroke-width="1.1"/></g>
<path d="M767.5,429.4 C770.7,426.6 781.9,425.0 790.0,424.0 C798.1,423.0 802.7,423.8 816.0,423.5 C829.3,423.2 854.3,422.1 870.0,422.0 C885.7,421.9 900.8,422.4 910.0,423.0 C919.2,423.6 922.2,423.6 925.0,425.6 C927.8,427.6 927.5,431.4 927.0,435.0 C926.5,438.6 924.2,443.2 922.0,447.0 C919.8,450.8 918.9,453.2 913.8,457.5 C908.6,461.8 899.1,468.8 891.0,472.5 C882.9,476.2 873.1,478.4 865.0,480.0 C856.9,481.6 850.7,482.5 842.5,481.9 C834.3,481.3 823.5,478.8 816.0,476.2 C808.5,473.8 803.1,470.6 797.5,466.9 C791.9,463.1 786.9,458.1 782.5,453.8 C778.1,449.4 773.5,444.7 771.0,440.6 C768.5,436.5 764.3,432.2 767.5,429.4Z" fill="none" stroke="#97aba0" stroke-width="1"/>
<path d="M580.0,425.0 C584.2,422.5 595.0,414.5 605.0,410.0 C615.0,405.5 627.5,401.5 640.0,398.0 C652.5,394.5 668.7,391.8 680.0,389.0 C691.3,386.2 700.3,382.5 708.0,381.0 C715.7,379.5 720.2,380.1 726.0,380.0 C731.8,379.9 740.2,380.6 743.0,380.7" fill="none" stroke="#dd3b35" stroke-width="1.7" stroke-linecap="round" />
<path d="M753.6,382.2 C755.6,382.7 761.7,383.9 765.8,385.3 C769.9,386.7 776.0,389.7 778.0,390.6" fill="none" stroke="#dd3b35" stroke-width="1.7" stroke-linecap="round" />
<path d="M472.2,488.1 C475.5,487.2 483.1,484.6 491.9,482.7 C500.6,480.8 514.7,478.4 524.7,476.7 C534.7,475.0 543.8,474.3 552.0,472.3 C560.2,470.3 568.0,467.8 574.0,464.6 C580.0,461.4 584.8,457.2 588.2,453.1 C591.7,449.0 593.4,445.5 594.7,440.0 C596.0,434.5 596.0,425.8 596.0,420.0 C596.0,414.2 594.8,409.2 595.0,405.0 C595.2,400.8 596.7,396.7 597.0,395.0" fill="none" stroke="#8a4a3a" stroke-width="1.5" stroke-linecap="round" />
<path d="M528.0,476.7 C527.3,477.6 525.8,480.6 524.0,482.0 C522.2,483.4 518.2,484.8 517.0,485.4" fill="none" stroke="#8a4a3a" stroke-width="1.4" stroke-linecap="round" />
<path d="M552.0,472.8 C551.2,474.0 548.9,477.9 547.0,480.0 C545.1,482.1 541.7,484.5 540.6,485.4" fill="none" stroke="#8a4a3a" stroke-width="1.4" stroke-linecap="round" />
<path d="M595.0,564.0 C601.5,564.3 622.4,567.2 634.0,565.7 C645.6,564.2 653.6,562.9 664.6,555.0 C675.6,547.1 688.2,530.8 700.0,518.3 C711.8,505.8 724.6,490.2 735.3,480.0 C746.0,469.8 759.5,460.8 764.3,457.0" fill="none" stroke="#9a5fb6" stroke-width="1.6" stroke-linecap="round" />
<path d="M764.3,457.0 C763.8,456.2 763.5,456.0 761.2,452.4 C758.9,448.8 754.1,441.7 750.5,435.6 C746.9,429.5 743.1,422.9 739.8,415.8 C736.5,408.7 732.5,397.5 730.7,392.9 C728.9,388.3 729.3,389.1 729.0,388.3" fill="none" stroke="#9a5fb6" stroke-width="1.6" stroke-linecap="round" />
<path d="M611.0,584.0 C614.8,584.5 625.1,588.3 634.0,587.0 C642.9,585.7 653.6,583.8 664.6,576.4 C675.6,569.0 686.2,558.9 700.0,542.8 C713.8,526.7 736.5,493.8 747.5,480.0 C758.5,466.2 763.2,464.0 765.8,460.0 C768.4,456.0 763.5,456.7 763.0,456.0" fill="none" stroke="#9a5fb6" stroke-width="1.6" stroke-linecap="round" />
<path d="M748.2,383.7 C748.5,386.5 748.9,394.1 749.8,400.5 C750.7,406.9 751.7,415.5 753.6,421.9 C755.5,428.3 758.2,433.1 761.2,438.7 C764.2,444.3 768.1,450.1 771.9,455.5 C775.7,460.9 779.8,465.6 784.0,470.8 C788.2,476.1 792.8,482.0 797.0,487.0 C801.2,492.0 805.3,496.2 809.0,501.0 C812.7,505.8 816.0,510.3 819.0,516.0 C822.0,521.7 824.5,527.7 827.0,535.0 C829.5,542.3 831.7,550.5 834.0,560.0 C836.3,569.5 839.0,580.3 841.0,592.0 C843.0,603.7 844.8,617.7 846.0,630.0 C847.2,642.3 848.1,660.0 848.5,666.0" fill="none" stroke="#3f86c6" stroke-width="1.8" stroke-linecap="round" />
<path d="M799.0,270.0 C796.4,272.6 787.9,279.1 783.4,285.6 C778.9,292.1 775.3,299.9 771.7,309.0 C768.1,318.1 764.1,329.8 762.0,340.0 C759.9,350.2 759.5,360.0 759.0,370.0 C758.5,380.0 758.8,391.7 759.0,400.0 C759.2,408.3 759.2,414.0 760.0,420.0 C760.8,426.0 762.0,430.8 764.0,436.0 C766.0,441.2 768.3,446.0 772.0,451.0 C775.7,456.0 780.5,461.5 786.0,466.0 C791.5,470.5 797.7,474.8 805.0,478.0 C812.3,481.2 821.7,483.8 830.0,485.0 C838.3,486.2 844.8,486.4 855.0,485.0 C865.2,483.6 878.7,479.0 891.0,476.3 C903.3,473.6 918.0,470.2 929.0,468.8 C940.0,467.4 946.4,467.5 957.0,467.8 C967.6,468.1 986.6,470.1 992.5,470.6" fill="none" stroke="#2f9e6c" stroke-width="1.7" stroke-linecap="round" />
<path d="M776.0,377.0 C774.7,380.0 770.2,388.7 768.0,395.0 C765.8,401.3 763.7,408.8 763.0,415.0 C762.3,421.2 762.8,426.7 764.0,432.0 C765.2,437.3 767.0,442.0 770.0,447.0 C773.0,452.0 777.3,456.8 782.0,462.0 C786.7,467.2 792.3,471.8 798.0,478.0 C803.7,484.2 810.3,493.3 816.0,499.0 C821.7,504.7 827.0,507.8 832.0,512.0 C837.0,516.2 841.3,519.7 846.0,524.0 C850.7,528.3 853.2,531.0 860.0,538.0 C866.8,545.0 878.8,557.2 887.0,566.0 C895.2,574.8 903.5,586.1 909.0,591.0 C914.5,595.9 918.2,594.8 920.0,595.5" fill="none" stroke="#2f9e6c" stroke-width="1.7" stroke-linecap="round" />
<path d="M748.0,383.0 C746.0,381.0 739.7,375.3 736.0,371.0 C732.3,366.7 729.3,362.7 726.0,357.0 C722.7,351.3 718.6,343.8 716.0,337.0 C713.4,330.2 711.5,322.5 710.5,316.0 C709.5,309.5 709.1,304.0 710.0,298.0 C710.9,292.0 713.2,285.2 716.0,280.0 C718.8,274.8 723.2,270.8 727.0,267.0 C730.8,263.2 737.0,259.1 739.0,257.5 L737,252 L767,255 L753,276 L749.0,271.0 C747.0,272.7 740.2,276.8 737.0,281.0 C733.8,285.2 731.3,289.2 730.0,296.0 C728.7,302.8 728.3,313.7 729.0,322.0 C729.7,330.3 731.7,338.3 734.0,346.0 C736.3,353.7 740.5,361.8 743.0,368.0 C745.5,374.2 748.0,380.5 749.0,383.0Z" fill="#5b8fd1" stroke="#243a66" stroke-width="1.2" stroke-linejoin="round"/>
<path d="M729.0,389.0 C726.8,387.2 720.0,382.3 716.0,378.0 C712.0,373.7 707.7,367.8 705.0,363.0 C702.3,358.2 700.8,351.3 700.0,349.0 L692,348 L704,334 L715,348 L709.0,349.0 C709.5,351.2 710.2,357.5 712.0,362.0 C713.8,366.5 717.2,371.5 720.0,376.0 C722.8,380.5 727.5,386.8 729.0,389.0Z" fill="#a98bd2" stroke="#3a2a5a" stroke-width="1.2" stroke-linejoin="round"/>
<path d="M776.0,377.0 C775.7,374.5 774.5,366.5 774.0,362.0 C773.5,357.5 773.3,353.0 773.0,350.0 C772.7,347.0 772.2,345.0 772.0,344.0 L766,344 L776,333 L785,339 L781.0,343.0 C780.8,345.2 780.5,351.8 780.0,356.0 C779.5,360.2 778.7,364.5 778.0,368.0 C777.3,371.5 776.3,375.5 776.0,377.0Z" fill="#2f9e6a" stroke="#1c4a34" stroke-width="1.2" stroke-linejoin="round"/>
<path d="M780.0,390.0 C780.8,388.0 782.0,381.6 785.0,378.0 C788.0,374.4 793.5,370.4 798.0,368.5 C802.5,366.6 802.7,366.2 812.0,366.3 C821.3,366.4 839.9,367.4 854.0,369.0 C868.1,370.6 885.8,374.2 896.6,376.0 C907.4,377.8 915.3,379.0 919.0,379.6 L923.3,376 L937.4,394.4 L909.2,398 L910.6,392.0 C903.6,390.5 882.6,385.9 868.5,383.0 C854.4,380.1 837.4,375.7 826.0,374.5 C814.6,373.3 806.7,374.8 800.0,376.0 C793.3,377.2 789.3,379.7 786.0,382.0 C782.7,384.3 781.0,388.7 780.0,390.0Z" fill="#ec6a50" stroke="#5a2520" stroke-width="1.7" stroke-linejoin="round"/>
<path d="M766.0,435.0 C766.7,433.7 767.3,428.8 770.0,427.0 C772.7,425.2 777.5,424.3 782.0,424.0 C786.5,423.7 792.7,424.2 797.0,425.0 C801.3,425.8 806.2,428.3 808.0,429.0 L813,428 L817,441 L801,441 L799.0,434.0 C796.8,433.5 790.2,431.2 786.0,431.0 C781.8,430.8 777.3,432.3 774.0,433.0 C770.7,433.7 767.3,434.7 766.0,435.0Z" fill="#2fa070" stroke="#1c4a34" stroke-width="1.2" stroke-linejoin="round"/>
<path d="M597,395 C604,390 610,387 616,385" fill="none" stroke="#6b3a22" stroke-width="3" stroke-linecap="round"/>
<path d="M612,381 L620,383 L615,390Z" fill="#6b3a22"/>
<path d="M795,272 L801,268 L800,276Z" fill="#2f9e6c" stroke="#2f9e6c" stroke-width="1"/>
<path d="M541.0,566.0 C545.8,565.8 561.7,565.3 570.0,565.0 C578.3,564.7 587.5,564.2 591.0,564.0" fill="none" stroke="#3a62c4" stroke-width="1.8" stroke-linecap="round" />
<path d="M583,560 L592,564 L583,567Z" fill="#3a62c4"/>
<path d="M611.0,584.0 C613.3,584.3 621.2,585.3 625.0,586.0 C628.8,586.7 632.5,587.7 634.0,588.0" fill="none" stroke="#3a62c4" stroke-width="1.8" stroke-linecap="round" />
<radialGradient id="eyeg" cx="0.42" cy="0.4" r="0.62"><stop offset="0" stop-color="#f6f7fb"/><stop offset="0.55" stop-color="#dde3ee"/><stop offset="1" stop-color="#c3cddd"/></radialGradient>
<ellipse cx="546" cy="429.5" rx="36" ry="27.7" fill="url(#eyeg)" stroke="#a9b2c4" stroke-width="1.2"/>
<path d="M561,407.5 C573,413 580.5,421 580.5,429.5 C580.5,438 573,446 561,451.5" fill="none" stroke="#d43848" stroke-width="2"/>
<path d="M506,400 C514,410 514,448 506,458 C500,450 496,420 500,405Z" fill="#f4ddd5" filter="url(#blur15)"/>
<path d="M503,416 C512,413 522,416 530,424 L530,435 C522,442 512,445 503,442Z" fill="#f8ebe6" filter="url(#blur15)"/>
<path d="M509,421.5 L534.5,429.2 L509,437Z" fill="#fbfcfd" stroke="#98a2b2" stroke-width="0.9" stroke-linejoin="round"/>
<ellipse cx="515" cy="428" rx="5.8" ry="6.5" fill="#4a8bd0"/>
<ellipse cx="512" cy="428" rx="3" ry="4" fill="#111a2a"/>
<path d="M499,418.5 C507,417.5 516,417.5 527,421" fill="none" stroke="#9a8f8c" stroke-width="1.2"/>
<path d="M505,439 C512,439.5 518,439.5 524,438.8" fill="none" stroke="#b7a8a4" stroke-width="1"/>
<path d="M971.3,437.5 C972.3,432.8 974.4,425.1 978.8,420.6 C983.2,416.1 991.2,412.3 997.5,410.3 C1003.8,408.3 1009.4,407.6 1016.3,408.4 C1023.2,409.2 1031.9,411.1 1038.8,415.0 C1045.7,418.9 1053.2,425.6 1057.6,431.9 C1062.0,438.1 1064.1,445.3 1065.0,452.5 C1065.9,459.7 1065.1,467.5 1063.2,475.0 C1061.3,482.5 1057.9,491.0 1053.8,497.6 C1049.7,504.2 1045.0,510.0 1038.8,514.4 C1032.5,518.8 1024.1,522.2 1016.3,523.8 C1008.5,525.4 997.5,525.0 991.9,523.8 C986.3,522.5 983.8,519.4 982.5,516.3 C981.2,513.2 982.8,509.1 984.4,505.0 C986.0,500.9 990.0,496.3 991.9,491.9 C993.8,487.5 995.3,482.6 995.6,478.8 C995.9,475.1 996.0,472.5 993.8,469.4 C991.6,466.3 986.0,463.4 982.5,460.0 C979.0,456.6 974.9,452.6 973.0,448.8 C971.1,445.1 970.3,442.2 971.3,437.5Z" fill="#f6d7c5" stroke="#d2a390" stroke-width="1.2"/>
<ellipse cx="1012" cy="512" rx="18" ry="7" fill="#f9e3d6" filter="url(#blur2)"/>
<path d="M986.0,437.5 C987.3,433.2 988.8,429.1 993.8,426.3 C998.8,423.5 1008.8,420.0 1016.3,420.6 C1023.8,421.2 1032.8,425.9 1038.8,430.0 C1044.8,434.1 1049.5,439.7 1052.0,445.0 C1054.5,450.3 1055.1,455.1 1053.8,462.0 C1052.5,468.9 1048.2,481.0 1044.4,486.3 C1040.7,491.6 1036.0,492.2 1031.3,493.8 C1026.6,495.4 1020.7,496.0 1016.0,496.0 C1011.3,496.0 1006.5,496.0 1003.0,494.0 C999.5,492.0 996.7,488.3 995.0,484.0 C993.3,479.7 994.5,473.3 993.0,468.0 C991.5,462.7 987.2,457.1 986.0,452.0 C984.8,446.9 984.7,441.8 986.0,437.5Z" fill="#eebfad"/>
<path d="M1032,493 C1045,480 1050,462 1046,448 C1040,436 1025,432 1005,438" fill="none" stroke="#f4d3c2" stroke-width="7" stroke-linecap="round"/>
<path d="M1031,494 C1046,480 1052,460 1050,446" fill="none" stroke="#c99482" stroke-width="1"/>
<path d="M1003.0,450.6 C1006.5,448.1 1017.3,446.9 1022.0,448.8 C1026.7,450.7 1030.4,457.2 1031.3,461.9 C1032.2,466.6 1030.0,473.1 1027.5,476.9 C1025.0,480.6 1019.7,482.5 1016.3,484.4 C1012.9,486.3 1009.8,486.9 1007.0,488.2 C1004.2,489.4 1001.0,492.2 999.4,491.9 C997.8,491.6 996.9,489.1 997.5,486.3 C998.1,483.5 1002.6,478.8 1003.2,475.0 C1003.8,471.2 1001.3,467.9 1001.3,463.8 C1001.3,459.7 999.5,453.1 1003.0,450.6Z" fill="#e2a592" stroke="#b48473" stroke-width="1.1"/>
<path d="M988,436 C994,428 1010,424 1020,426" fill="none" stroke="#c99482" stroke-width="1"/>
<path d="M939.0,578.0 C940.2,576.2 943.3,569.8 946.0,567.0 C948.7,564.2 951.3,562.7 955.0,561.0 C958.7,559.3 963.2,557.7 968.0,557.0 C972.8,556.3 979.2,556.2 984.0,557.0 C988.8,557.8 992.9,559.5 996.7,562.0 C1000.5,564.5 1004.6,568.0 1007.0,572.0 C1009.4,576.0 1011.2,581.2 1011.0,586.0 C1010.8,590.8 1008.5,597.0 1006.0,601.0 C1003.5,605.0 997.7,608.5 996.0,610.0" fill="none" stroke="#a3b3c9" stroke-width="9" stroke-linecap="round"/>
<path d="M939.0,578.0 C940.2,576.2 943.3,569.8 946.0,567.0 C948.7,564.2 951.3,562.7 955.0,561.0 C958.7,559.3 963.2,557.7 968.0,557.0 C972.8,556.3 979.2,556.2 984.0,557.0 C988.8,557.8 992.9,559.5 996.7,562.0 C1000.5,564.5 1004.6,568.0 1007.0,572.0 C1009.4,576.0 1011.2,581.2 1011.0,586.0 C1010.8,590.8 1008.5,597.0 1006.0,601.0 C1003.5,605.0 997.7,608.5 996.0,610.0" fill="none" stroke="#d6deea" stroke-width="7" stroke-linecap="round"/>
<path d="M939.0,578.0 C940.2,576.2 943.3,569.8 946.0,567.0 C948.7,564.2 951.3,562.7 955.0,561.0 C958.7,559.3 963.2,557.7 968.0,557.0 C972.8,556.3 979.2,556.2 984.0,557.0 C988.8,557.8 992.9,559.5 996.7,562.0 C1000.5,564.5 1004.6,568.0 1007.0,572.0 C1009.4,576.0 1011.2,581.2 1011.0,586.0 C1010.8,590.8 1008.5,597.0 1006.0,601.0 C1003.5,605.0 997.7,608.5 996.0,610.0" fill="none" stroke="#eef2f8" stroke-width="2.4" stroke-linecap="round" opacity="0.9" filter="url(#blur07)"/>
<path d="M940.0,596.0 C939.3,592.5 936.7,581.7 936.0,575.0 C935.3,568.3 934.8,561.0 936.0,556.0 C937.2,551.0 939.8,547.7 943.0,545.0 C946.2,542.3 950.8,540.8 955.0,540.0 C959.2,539.2 964.0,539.0 968.0,540.0 C972.0,541.0 976.3,542.7 979.0,546.0 C981.7,549.3 983.3,554.3 984.0,560.0 C984.7,565.7 983.8,573.7 983.0,580.0 C982.2,586.3 979.7,595.0 979.0,598.0" fill="none" stroke="#a3b3c9" stroke-width="11.5" stroke-linecap="round"/>
<path d="M940.0,596.0 C939.3,592.5 936.7,581.7 936.0,575.0 C935.3,568.3 934.8,561.0 936.0,556.0 C937.2,551.0 939.8,547.7 943.0,545.0 C946.2,542.3 950.8,540.8 955.0,540.0 C959.2,539.2 964.0,539.0 968.0,540.0 C972.0,541.0 976.3,542.7 979.0,546.0 C981.7,549.3 983.3,554.3 984.0,560.0 C984.7,565.7 983.8,573.7 983.0,580.0 C982.2,586.3 979.7,595.0 979.0,598.0" fill="none" stroke="#d6deea" stroke-width="9.5" stroke-linecap="round"/>
<path d="M940.0,596.0 C939.3,592.5 936.7,581.7 936.0,575.0 C935.3,568.3 934.8,561.0 936.0,556.0 C937.2,551.0 939.8,547.7 943.0,545.0 C946.2,542.3 950.8,540.8 955.0,540.0 C959.2,539.2 964.0,539.0 968.0,540.0 C972.0,541.0 976.3,542.7 979.0,546.0 C981.7,549.3 983.3,554.3 984.0,560.0 C984.7,565.7 983.8,573.7 983.0,580.0 C982.2,586.3 979.7,595.0 979.0,598.0" fill="none" stroke="#eef2f8" stroke-width="3.3" stroke-linecap="round" opacity="0.9" filter="url(#blur07)"/>
<path d="M980.0,598.0 C982.0,597.0 987.3,593.6 992.0,592.3 C996.7,591.0 1002.7,590.3 1008.0,590.0 C1013.3,589.7 1020.2,589.5 1024.0,590.7 C1027.8,591.9 1030.0,594.5 1031.0,597.0 C1032.0,599.5 1032.0,603.6 1030.0,606.0 C1028.0,608.4 1024.0,610.3 1019.0,611.5 C1014.0,612.7 1005.8,612.4 1000.0,613.0 C994.2,613.6 986.7,614.7 984.0,615.0" fill="none" stroke="#a3b3c9" stroke-width="10.5" stroke-linecap="round"/>
<path d="M980.0,598.0 C982.0,597.0 987.3,593.6 992.0,592.3 C996.7,591.0 1002.7,590.3 1008.0,590.0 C1013.3,589.7 1020.2,589.5 1024.0,590.7 C1027.8,591.9 1030.0,594.5 1031.0,597.0 C1032.0,599.5 1032.0,603.6 1030.0,606.0 C1028.0,608.4 1024.0,610.3 1019.0,611.5 C1014.0,612.7 1005.8,612.4 1000.0,613.0 C994.2,613.6 986.7,614.7 984.0,615.0" fill="none" stroke="#d6deea" stroke-width="8.5" stroke-linecap="round"/>
<path d="M980.0,598.0 C982.0,597.0 987.3,593.6 992.0,592.3 C996.7,591.0 1002.7,590.3 1008.0,590.0 C1013.3,589.7 1020.2,589.5 1024.0,590.7 C1027.8,591.9 1030.0,594.5 1031.0,597.0 C1032.0,599.5 1032.0,603.6 1030.0,606.0 C1028.0,608.4 1024.0,610.3 1019.0,611.5 C1014.0,612.7 1005.8,612.4 1000.0,613.0 C994.2,613.6 986.7,614.7 984.0,615.0" fill="none" stroke="#eef2f8" stroke-width="3.0" stroke-linecap="round" opacity="0.9" filter="url(#blur07)"/>
<path d="M930.0,605.0 C930.0,600.5 929.8,594.5 931.0,591.0 C932.2,587.5 933.5,583.2 937.0,584.0 C940.5,584.8 946.8,593.3 952.0,596.0 C957.2,598.7 963.2,598.3 968.0,600.0 C972.8,601.7 977.8,603.3 981.0,606.0 C984.2,608.7 987.0,612.7 987.0,616.0 C987.0,619.3 984.2,623.5 981.0,626.0 C977.8,628.5 972.8,630.0 968.0,631.0 C963.2,632.0 957.3,632.3 952.0,632.0 C946.7,631.7 939.5,631.3 936.0,629.0 C932.5,626.7 932.0,622.0 931.0,618.0 C930.0,614.0 930.0,609.5 930.0,605.0Z" fill="#d3dbe8" stroke="#a3b3c9" stroke-width="1"/>
<ellipse cx="958" cy="612" rx="16" ry="8" fill="#e6ebf3" opacity="0.9" filter="url(#blur2)"/>
<ellipse cx="944" cy="629" rx="12.4" ry="8.8" fill="#e9eef5" stroke="#a3b3c9" stroke-width="1"/>
<ellipse cx="941" cy="627" rx="6" ry="4" fill="#f7f9fc" filter="url(#blur1)"/>
<path d="M920.0,595.5 C921.2,596.4 924.9,599.4 927.0,601.0 C929.1,602.6 930.8,605.0 932.8,605.0 C934.8,605.0 937.1,602.3 939.0,601.0 C940.9,599.7 943.2,597.7 944.0,597.0" fill="none" stroke="#2f9e6c" stroke-width="1.5" stroke-linecap="round" />
<path d="M932.8,605.0 C936.0,605.8 944.5,608.1 952.0,610.0 C959.5,611.9 973.2,615.2 977.5,616.3" fill="none" stroke="#2f9e6c" stroke-width="1.5" stroke-linecap="round" />
<path d="M939.0,605.0 C941.7,604.8 950.5,604.4 955.0,604.0 C959.5,603.6 964.2,602.9 966.0,602.7" fill="none" stroke="#2f9e6c" stroke-width="1.4" stroke-linecap="round" />
<line x1="855" y1="196" x2="775" y2="230" stroke="#4a4a4a" stroke-width="1.1"/>
<line x1="657" y1="321" x2="694" y2="336" stroke="#4a4a4a" stroke-width="1.1"/>
<line x1="577" y1="361" x2="600" y2="380" stroke="#4a4a4a" stroke-width="1.1"/>
<line x1="799" y1="334" x2="819" y2="334" stroke="#4a4a4a" stroke-width="1.1"/>
<line x1="986" y1="343" x2="962" y2="356" stroke="#4a4a4a" stroke-width="1.1"/>
<line x1="723" y1="393" x2="671" y2="465" stroke="#4a4a4a" stroke-width="1.1"/>
<line x1="771" y1="470" x2="760" y2="493" stroke="#4a4a4a" stroke-width="1.1"/>
<rect x="807.8" y="666" width="88.2" height="30.5" fill="#cbc7e7"/>
<text transform="translate(861.81,199.8) scale(1.319,1)" font-size="13.2" fill="#484848" stroke="#484848" stroke-width="0.22">Primary somatic</text>
<text transform="translate(868.18,214.5) scale(1.307,1)" font-size="13.2" fill="#484848" stroke="#484848" stroke-width="0.22">sensory cortex</text>
<text transform="translate(588.92,315.2) scale(1.333,1)" font-size="13.2" fill="#484848" stroke="#484848" stroke-width="0.22">Gustatory</text>
<text transform="translate(602.69,330.1) scale(1.340,1)" font-size="13.2" fill="#484848" stroke="#484848" stroke-width="0.22">cortex</text>
<text transform="translate(525.41,356.8) scale(1.335,1)" font-size="13.2" fill="#484848" stroke="#484848" stroke-width="0.22">Olfactory cortex</text>
<text transform="translate(826.30,339.1) scale(1.319,1)" font-size="13.2" fill="#484848" stroke="#484848" stroke-width="0.22">Auditory</text>
<text transform="translate(833.58,353.8) scale(1.357,1)" font-size="13.2" fill="#484848" stroke="#484848" stroke-width="0.22">cortex</text>
<text transform="translate(988.91,347.2) scale(1.323,1)" font-size="13.2" fill="#484848" stroke="#484848" stroke-width="0.22">Visual</text>
<text transform="translate(987.39,362.7) scale(1.342,1)" font-size="13.2" fill="#484848" stroke="#484848" stroke-width="0.22">cortex</text>
<text transform="translate(540.44,431) scale(1.292,1)" font-size="13.2" fill="#484848" stroke="#484848" stroke-width="0.22">Eye</text>
<text transform="translate(442.66,480.2) scale(1.361,1)" font-size="13.2" fill="#484848" stroke="#484848" stroke-width="0.22">Nose</text>
<text transform="translate(628.66,476.8) scale(1.297,1)" font-size="13.2" fill="#484848" stroke="#484848" stroke-width="0.22">Thalamus</text>
<text transform="translate(808.14,456.4) scale(1.308,1)" font-size="13.2" fill="#484848" stroke="#484848" stroke-width="0.22">Cerebellum</text>
<text transform="translate(738.89,506.9) scale(1.335,1)" font-size="13.2" fill="#484848" stroke="#484848" stroke-width="0.22">Brain</text>
<text transform="translate(740.26,522.3) scale(1.362,1)" font-size="13.2" fill="#484848" stroke="#484848" stroke-width="0.22">stem</text>
<text transform="translate(934.01,481.4) scale(1.335,1)" font-size="13.2" fill="#484848" stroke="#484848" stroke-width="0.22">Sound</text>
<text transform="translate(860.19,531) scale(1.331,1)" font-size="13.2" fill="#484848" stroke="#484848" stroke-width="0.22">Equilibrium</text>
<text transform="translate(552.74,580) scale(1.362,1)" font-size="13.2" fill="#5a4444" stroke="#5a4444" stroke-width="0.22">Tongue</text>
<text transform="translate(818.91,678.4) scale(1.333,1)" font-size="13.2" fill="#484858" stroke="#484858" stroke-width="0.22">Somatic</text>
<text transform="translate(824.09,693.1) scale(1.291,1)" font-size="13.2" fill="#484858" stroke="#484858" stroke-width="0.22">senses</text>
<linearGradient id="boxg" x1="0" x2="1" y1="0" y2="0"><stop offset="0" stop-color="#e9e2d2"/><stop offset="0.55" stop-color="#f3efe6"/><stop offset="1" stop-color="#ffffff"/></linearGradient>
<linearGradient id="bordg" x1="0" x2="1" y1="0" y2="0"><stop offset="0" stop-color="#9a9a9a"/><stop offset="0.6" stop-color="#bdbdbd"/><stop offset="1" stop-color="#ffffff" stop-opacity="0"/></linearGradient>
<rect x="200" y="373" width="218" height="55.5" fill="url(#boxg)"/>
<rect x="199" y="372" width="220" height="2" fill="url(#bordg)"/>
<rect x="199" y="427.5" width="220" height="2" fill="url(#bordg)"/>
<rect x="199" y="372" width="2" height="57.5" fill="#9a9a9a"/>
<text transform="translate(217.71,388.4) scale(1.298,1)" font-size="13.6" fill="#2e2e2e" stroke="#2e2e2e" stroke-width="0.4">Olfactory pathways from</text>
<text transform="translate(218.74,403.2) scale(1.294,1)" font-size="13.6" fill="#2e2e2e" stroke="#2e2e2e" stroke-width="0.4">the nose project to the</text>
<text transform="translate(217.79,417.1) scale(1.311,1)" font-size="13.6" fill="#2e2e2e" stroke="#2e2e2e" stroke-width="0.4">olfactory cortex.</text>
<ellipse cx="199" cy="390.5" rx="10.5" ry="8.1" fill="#45ad4a"/>
<text transform="translate(199,394.8) scale(1.3,1)" font-size="12" font-weight="bold" fill="#fff" text-anchor="middle">1</text>
<rect x="200" y="449" width="218" height="83.5" fill="url(#boxg)"/>
<rect x="199" y="448" width="220" height="2" fill="url(#bordg)"/>
<rect x="199" y="531.5" width="220" height="2" fill="url(#bordg)"/>
<rect x="199" y="448" width="2" height="85.5" fill="#9a9a9a"/>
<text transform="translate(219.29,463.1) scale(1.296,1)" font-size="13.6" fill="#2e2e2e" stroke="#2e2e2e" stroke-width="0.4">Most sensory pathways</text>
<text transform="translate(219.55,477.9) scale(1.296,1)" font-size="13.6" fill="#2e2e2e" stroke="#2e2e2e" stroke-width="0.4">project to the thalamus.</text>
<text transform="translate(220.35,493.5) scale(1.272,1)" font-size="13.6" fill="#2e2e2e" stroke="#2e2e2e" stroke-width="0.4">The thalamus modifies</text>
<text transform="translate(220.00,508.2) scale(1.283,1)" font-size="13.6" fill="#2e2e2e" stroke="#2e2e2e" stroke-width="0.4">and relays information</text>
<text transform="translate(220.44,523) scale(1.289,1)" font-size="13.6" fill="#2e2e2e" stroke="#2e2e2e" stroke-width="0.4">to cortical centers.</text>
<ellipse cx="199" cy="467.2" rx="10.5" ry="8.1" fill="#45ad4a"/>
<text transform="translate(199,471.5) scale(1.3,1)" font-size="12" font-weight="bold" fill="#fff" text-anchor="middle">2</text>
<rect x="200" y="550.6" width="218" height="47.39999999999998" fill="url(#boxg)"/>
<rect x="199" y="549.6" width="220" height="2" fill="url(#bordg)"/>
<rect x="199" y="597" width="220" height="2" fill="url(#bordg)"/>
<rect x="199" y="549.6" width="2" height="49.39999999999998" fill="#9a9a9a"/>
<text transform="translate(219.30,570) scale(1.285,1)" font-size="13.6" fill="#2e2e2e" stroke="#2e2e2e" stroke-width="0.4">Equilibrium pathways</text>
<text transform="translate(219.55,584.8) scale(1.297,1)" font-size="13.6" fill="#2e2e2e" stroke="#2e2e2e" stroke-width="0.4">project to the cerebellum.</text>
<ellipse cx="199" cy="567.2" rx="10.5" ry="8.1" fill="#45ad4a"/>
<text transform="translate(199,571.5) scale(1.3,1)" font-size="12" font-weight="bold" fill="#fff" text-anchor="middle">3</text>
<ellipse cx="584.5" cy="473.5" rx="10.5" ry="8.1" fill="#45ad4a"/>
<text transform="translate(584.5,477.8) scale(1.3,1)" font-size="12" font-weight="bold" fill="#fff" text-anchor="middle">1</text>
<ellipse cx="699.5" cy="453.3" rx="10.5" ry="8.1" fill="#45ad4a"/>
<text transform="translate(699.5,457.6) scale(1.3,1)" font-size="12" font-weight="bold" fill="#fff" text-anchor="middle">2</text>
<ellipse cx="898.5" cy="549.7" rx="10.5" ry="8.1" fill="#45ad4a"/>
<text transform="translate(898.5,554.0) scale(1.3,1)" font-size="12" font-weight="bold" fill="#fff" text-anchor="middle">3</text>
</svg>
<div class="title">The Special Senses</div>
<div class="bar" style="left:0"></div>
<div class="bar" style="left:1266px"></div>
</body></html>
